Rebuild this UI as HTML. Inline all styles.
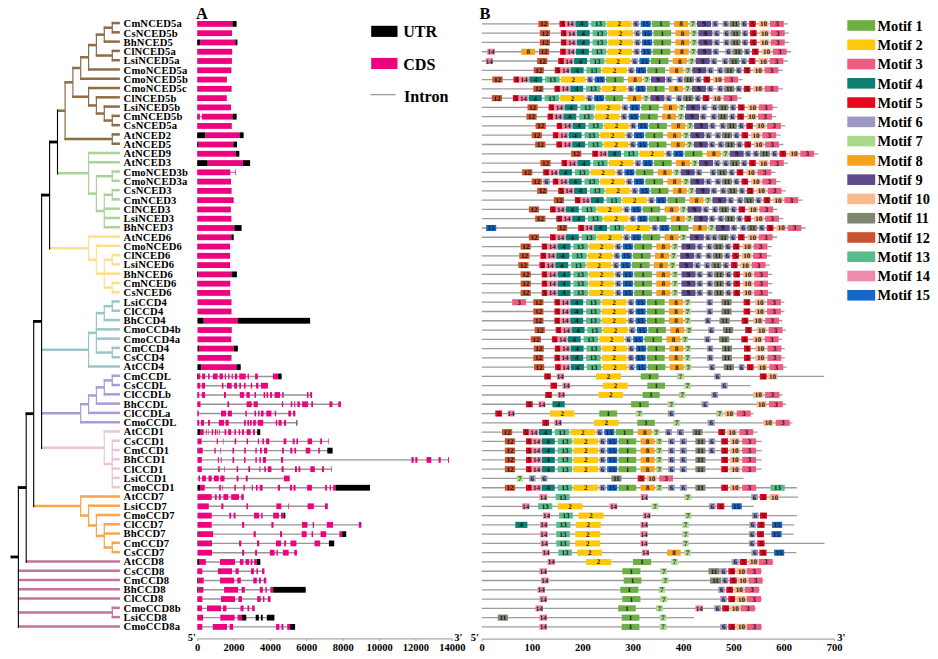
<!DOCTYPE html>
<html><head><meta charset="utf-8">
<style>
html,body{margin:0;padding:0;background:#fff;}
body{width:938px;height:659px;overflow:hidden;}
svg{display:block;}
text{font-family:"Liberation Serif",serif;font-weight:bold;fill:#000;}
.lab text{font-size:10.6px;letter-spacing:0.15px;}
.bt text{font-size:7px;text-anchor:middle;fill:#111;text-rendering:geometricPrecision;}
.ax text{font-size:10.5px;}
.lg text{font-size:16.1px;}
.ml text{font-size:14.4px;}
</style></head><body>
<svg width="938" height="659" viewBox="0 0 938 659">
<rect width="938" height="659" fill="#fff"/>
<g><line x1="17.85" y1="487.55" x2="26.20" y2="487.55" stroke="#000" stroke-width="2.8"/><line x1="25.65" y1="413.70" x2="33.70" y2="413.70" stroke="#000" stroke-width="2.8"/><line x1="33.15" y1="321.39" x2="41.60" y2="321.39" stroke="#000" stroke-width="2.8"/><line x1="41.05" y1="195.08" x2="49.60" y2="195.08" stroke="#000" stroke-width="2.8"/><line x1="49.05" y1="142.01" x2="57.50" y2="142.01" stroke="#000" stroke-width="2.8"/><line x1="56.95" y1="110.72" x2="65.10" y2="110.72" stroke="#8c6e45" stroke-width="2.5"/><line x1="64.50" y1="82.37" x2="72.90" y2="82.37" stroke="#8c6e45" stroke-width="2.5"/><line x1="72.30" y1="68.01" x2="80.70" y2="68.01" stroke="#8c6e45" stroke-width="2.5"/><line x1="80.10" y1="57.28" x2="88.60" y2="57.28" stroke="#8c6e45" stroke-width="2.5"/><line x1="88.00" y1="45.09" x2="96.40" y2="45.09" stroke="#8c6e45" stroke-width="2.5"/><line x1="95.80" y1="34.65" x2="104.30" y2="34.65" stroke="#8c6e45" stroke-width="2.5"/><line x1="103.70" y1="27.69" x2="112.30" y2="27.69" stroke="#8c6e45" stroke-width="2.5"/><line x1="111.70" y1="23.05" x2="119.90" y2="23.05" stroke="#8c6e45" stroke-width="2.5"/><line x1="111.70" y1="32.33" x2="119.90" y2="32.33" stroke="#8c6e45" stroke-width="2.5"/><line x1="103.70" y1="41.61" x2="119.90" y2="41.61" stroke="#8c6e45" stroke-width="2.5"/><line x1="95.80" y1="55.54" x2="112.30" y2="55.54" stroke="#8c6e45" stroke-width="2.5"/><line x1="111.70" y1="50.90" x2="119.90" y2="50.90" stroke="#8c6e45" stroke-width="2.5"/><line x1="111.70" y1="60.18" x2="119.90" y2="60.18" stroke="#8c6e45" stroke-width="2.5"/><line x1="88.00" y1="69.46" x2="119.90" y2="69.46" stroke="#8c6e45" stroke-width="2.5"/><line x1="80.10" y1="78.74" x2="119.90" y2="78.74" stroke="#8c6e45" stroke-width="2.5"/><line x1="72.30" y1="96.73" x2="88.60" y2="96.73" stroke="#8c6e45" stroke-width="2.5"/><line x1="88.00" y1="88.02" x2="119.90" y2="88.02" stroke="#8c6e45" stroke-width="2.5"/><line x1="88.00" y1="105.43" x2="96.40" y2="105.43" stroke="#8c6e45" stroke-width="2.5"/><line x1="95.80" y1="97.31" x2="119.90" y2="97.31" stroke="#8c6e45" stroke-width="2.5"/><line x1="95.80" y1="113.55" x2="104.30" y2="113.55" stroke="#8c6e45" stroke-width="2.5"/><line x1="103.70" y1="106.59" x2="119.90" y2="106.59" stroke="#8c6e45" stroke-width="2.5"/><line x1="103.70" y1="120.51" x2="112.30" y2="120.51" stroke="#8c6e45" stroke-width="2.5"/><line x1="111.70" y1="115.87" x2="119.90" y2="115.87" stroke="#8c6e45" stroke-width="2.5"/><line x1="111.70" y1="125.15" x2="119.90" y2="125.15" stroke="#8c6e45" stroke-width="2.5"/><line x1="64.50" y1="139.07" x2="112.30" y2="139.07" stroke="#8c6e45" stroke-width="2.5"/><line x1="111.70" y1="134.43" x2="119.90" y2="134.43" stroke="#8c6e45" stroke-width="2.5"/><line x1="111.70" y1="143.72" x2="119.90" y2="143.72" stroke="#8c6e45" stroke-width="2.5"/><line x1="56.95" y1="173.30" x2="88.60" y2="173.30" stroke="#a9d39a" stroke-width="2.5"/><line x1="88.00" y1="153.00" x2="119.90" y2="153.00" stroke="#a9d39a" stroke-width="2.5"/><line x1="88.00" y1="162.28" x2="119.90" y2="162.28" stroke="#a9d39a" stroke-width="2.5"/><line x1="88.00" y1="193.61" x2="96.40" y2="193.61" stroke="#a9d39a" stroke-width="2.5"/><line x1="95.80" y1="176.20" x2="112.30" y2="176.20" stroke="#a9d39a" stroke-width="2.5"/><line x1="111.70" y1="171.56" x2="119.90" y2="171.56" stroke="#a9d39a" stroke-width="2.5"/><line x1="111.70" y1="180.84" x2="119.90" y2="180.84" stroke="#a9d39a" stroke-width="2.5"/><line x1="95.80" y1="211.01" x2="104.30" y2="211.01" stroke="#a9d39a" stroke-width="2.5"/><line x1="103.70" y1="194.77" x2="112.30" y2="194.77" stroke="#a9d39a" stroke-width="2.5"/><line x1="111.70" y1="190.13" x2="119.90" y2="190.13" stroke="#a9d39a" stroke-width="2.5"/><line x1="111.70" y1="199.41" x2="119.90" y2="199.41" stroke="#a9d39a" stroke-width="2.5"/><line x1="103.70" y1="208.69" x2="119.90" y2="208.69" stroke="#a9d39a" stroke-width="2.5"/><line x1="103.70" y1="217.97" x2="119.90" y2="217.97" stroke="#a9d39a" stroke-width="2.5"/><line x1="103.70" y1="227.25" x2="119.90" y2="227.25" stroke="#a9d39a" stroke-width="2.5"/><line x1="49.05" y1="248.14" x2="88.60" y2="248.14" stroke="#ffdf88" stroke-width="2.5"/><line x1="88.00" y1="236.54" x2="119.90" y2="236.54" stroke="#ffdf88" stroke-width="2.5"/><line x1="88.00" y1="259.74" x2="96.40" y2="259.74" stroke="#ffdf88" stroke-width="2.5"/><line x1="95.80" y1="245.82" x2="119.90" y2="245.82" stroke="#ffdf88" stroke-width="2.5"/><line x1="95.80" y1="273.66" x2="104.30" y2="273.66" stroke="#ffdf88" stroke-width="2.5"/><line x1="103.70" y1="259.74" x2="112.30" y2="259.74" stroke="#ffdf88" stroke-width="2.5"/><line x1="111.70" y1="255.10" x2="119.90" y2="255.10" stroke="#ffdf88" stroke-width="2.5"/><line x1="111.70" y1="264.38" x2="119.90" y2="264.38" stroke="#ffdf88" stroke-width="2.5"/><line x1="103.70" y1="273.66" x2="119.90" y2="273.66" stroke="#ffdf88" stroke-width="2.5"/><line x1="103.70" y1="287.59" x2="112.30" y2="287.59" stroke="#ffdf88" stroke-width="2.5"/><line x1="111.70" y1="282.95" x2="119.90" y2="282.95" stroke="#ffdf88" stroke-width="2.5"/><line x1="111.70" y1="292.23" x2="119.90" y2="292.23" stroke="#ffdf88" stroke-width="2.5"/><line x1="41.05" y1="349.66" x2="88.60" y2="349.66" stroke="#9ac4c9" stroke-width="2.5"/><line x1="88.00" y1="332.84" x2="96.40" y2="332.84" stroke="#9ac4c9" stroke-width="2.5"/><line x1="95.80" y1="313.11" x2="104.30" y2="313.11" stroke="#9ac4c9" stroke-width="2.5"/><line x1="103.70" y1="306.15" x2="112.30" y2="306.15" stroke="#9ac4c9" stroke-width="2.5"/><line x1="111.70" y1="301.51" x2="119.90" y2="301.51" stroke="#9ac4c9" stroke-width="2.5"/><line x1="111.70" y1="310.79" x2="119.90" y2="310.79" stroke="#9ac4c9" stroke-width="2.5"/><line x1="103.70" y1="320.07" x2="119.90" y2="320.07" stroke="#9ac4c9" stroke-width="2.5"/><line x1="95.80" y1="329.36" x2="119.90" y2="329.36" stroke="#9ac4c9" stroke-width="2.5"/><line x1="95.80" y1="338.64" x2="119.90" y2="338.64" stroke="#9ac4c9" stroke-width="2.5"/><line x1="95.80" y1="352.56" x2="112.30" y2="352.56" stroke="#9ac4c9" stroke-width="2.5"/><line x1="111.70" y1="347.92" x2="119.90" y2="347.92" stroke="#9ac4c9" stroke-width="2.5"/><line x1="111.70" y1="357.20" x2="119.90" y2="357.20" stroke="#9ac4c9" stroke-width="2.5"/><line x1="88.00" y1="366.48" x2="119.90" y2="366.48" stroke="#9ac4c9" stroke-width="2.5"/><line x1="41.05" y1="413.18" x2="80.70" y2="413.18" stroke="#ab9ad8" stroke-width="2.5"/><line x1="80.10" y1="404.19" x2="88.60" y2="404.19" stroke="#ab9ad8" stroke-width="2.5"/><line x1="88.00" y1="395.49" x2="96.40" y2="395.49" stroke="#ab9ad8" stroke-width="2.5"/><line x1="95.80" y1="387.37" x2="104.30" y2="387.37" stroke="#ab9ad8" stroke-width="2.5"/><line x1="103.70" y1="380.41" x2="112.30" y2="380.41" stroke="#ab9ad8" stroke-width="2.5"/><line x1="111.70" y1="375.77" x2="119.90" y2="375.77" stroke="#ab9ad8" stroke-width="2.5"/><line x1="111.70" y1="385.05" x2="119.90" y2="385.05" stroke="#ab9ad8" stroke-width="2.5"/><line x1="103.70" y1="394.33" x2="119.90" y2="394.33" stroke="#ab9ad8" stroke-width="2.5"/><line x1="95.80" y1="403.61" x2="119.90" y2="403.61" stroke="#ab9ad8" stroke-width="2.5"/><line x1="88.00" y1="412.89" x2="119.90" y2="412.89" stroke="#ab9ad8" stroke-width="2.5"/><line x1="80.10" y1="422.18" x2="119.90" y2="422.18" stroke="#ab9ad8" stroke-width="2.5"/><line x1="41.05" y1="447.70" x2="104.30" y2="447.70" stroke="#ecc4d6" stroke-width="2.5"/><line x1="103.70" y1="431.46" x2="119.90" y2="431.46" stroke="#ecc4d6" stroke-width="2.5"/><line x1="103.70" y1="463.95" x2="112.30" y2="463.95" stroke="#ecc4d6" stroke-width="2.5"/><line x1="111.70" y1="440.74" x2="119.90" y2="440.74" stroke="#ecc4d6" stroke-width="2.5"/><line x1="111.70" y1="450.02" x2="119.90" y2="450.02" stroke="#ecc4d6" stroke-width="2.5"/><line x1="111.70" y1="459.30" x2="119.90" y2="459.30" stroke="#ecc4d6" stroke-width="2.5"/><line x1="111.70" y1="468.59" x2="119.90" y2="468.59" stroke="#ecc4d6" stroke-width="2.5"/><line x1="111.70" y1="477.87" x2="119.90" y2="477.87" stroke="#ecc4d6" stroke-width="2.5"/><line x1="111.70" y1="487.15" x2="119.90" y2="487.15" stroke="#ecc4d6" stroke-width="2.5"/><line x1="33.15" y1="506.00" x2="80.70" y2="506.00" stroke="#f9a548" stroke-width="2.5"/><line x1="80.10" y1="496.43" x2="119.90" y2="496.43" stroke="#f9a548" stroke-width="2.5"/><line x1="80.10" y1="515.58" x2="88.60" y2="515.58" stroke="#f9a548" stroke-width="2.5"/><line x1="88.00" y1="505.71" x2="119.90" y2="505.71" stroke="#f9a548" stroke-width="2.5"/><line x1="88.00" y1="525.44" x2="96.40" y2="525.44" stroke="#f9a548" stroke-width="2.5"/><line x1="95.80" y1="515.00" x2="119.90" y2="515.00" stroke="#f9a548" stroke-width="2.5"/><line x1="95.80" y1="535.88" x2="104.30" y2="535.88" stroke="#f9a548" stroke-width="2.5"/><line x1="103.70" y1="524.28" x2="119.90" y2="524.28" stroke="#f9a548" stroke-width="2.5"/><line x1="103.70" y1="533.56" x2="119.90" y2="533.56" stroke="#f9a548" stroke-width="2.5"/><line x1="103.70" y1="547.48" x2="112.30" y2="547.48" stroke="#f9a548" stroke-width="2.5"/><line x1="111.70" y1="542.84" x2="119.90" y2="542.84" stroke="#f9a548" stroke-width="2.5"/><line x1="111.70" y1="552.12" x2="119.90" y2="552.12" stroke="#f9a548" stroke-width="2.5"/><line x1="25.65" y1="561.41" x2="119.90" y2="561.41" stroke="#c3749e" stroke-width="2.5"/><line x1="17.85" y1="570.69" x2="119.90" y2="570.69" stroke="#c3749e" stroke-width="2.5"/><line x1="17.85" y1="579.97" x2="119.90" y2="579.97" stroke="#c3749e" stroke-width="2.5"/><line x1="17.85" y1="589.25" x2="119.90" y2="589.25" stroke="#c3749e" stroke-width="2.5"/><line x1="17.85" y1="598.53" x2="119.90" y2="598.53" stroke="#c3749e" stroke-width="2.5"/><line x1="17.85" y1="612.46" x2="112.30" y2="612.46" stroke="#c3749e" stroke-width="2.5"/><line x1="111.70" y1="607.82" x2="119.90" y2="607.82" stroke="#c3749e" stroke-width="2.5"/><line x1="111.70" y1="617.10" x2="119.90" y2="617.10" stroke="#c3749e" stroke-width="2.5"/><line x1="17.85" y1="626.38" x2="119.90" y2="626.38" stroke="#c3749e" stroke-width="2.5"/><line x1="65.10" y1="81.12" x2="65.10" y2="140.32" stroke="#8c6e45" stroke-width="1.2"/><line x1="72.90" y1="66.76" x2="72.90" y2="97.98" stroke="#8c6e45" stroke-width="1.2"/><line x1="80.70" y1="56.03" x2="80.70" y2="79.99" stroke="#8c6e45" stroke-width="1.2"/><line x1="88.60" y1="43.84" x2="88.60" y2="70.71" stroke="#8c6e45" stroke-width="1.2"/><line x1="96.40" y1="33.40" x2="96.40" y2="56.79" stroke="#8c6e45" stroke-width="1.2"/><line x1="104.30" y1="26.44" x2="104.30" y2="42.86" stroke="#8c6e45" stroke-width="1.2"/><line x1="112.30" y1="21.80" x2="112.30" y2="33.58" stroke="#8c6e45" stroke-width="1.2"/><line x1="112.30" y1="49.65" x2="112.30" y2="61.43" stroke="#8c6e45" stroke-width="1.2"/><line x1="88.60" y1="86.77" x2="88.60" y2="106.68" stroke="#8c6e45" stroke-width="1.2"/><line x1="96.40" y1="96.06" x2="96.40" y2="114.80" stroke="#8c6e45" stroke-width="1.2"/><line x1="104.30" y1="105.34" x2="104.30" y2="121.76" stroke="#8c6e45" stroke-width="1.2"/><line x1="112.30" y1="114.62" x2="112.30" y2="126.40" stroke="#8c6e45" stroke-width="1.2"/><line x1="112.30" y1="133.18" x2="112.30" y2="144.97" stroke="#8c6e45" stroke-width="1.2"/><line x1="88.60" y1="151.75" x2="88.60" y2="194.86" stroke="#a9d39a" stroke-width="1.2"/><line x1="96.40" y1="174.95" x2="96.40" y2="212.26" stroke="#a9d39a" stroke-width="1.2"/><line x1="112.30" y1="170.31" x2="112.30" y2="182.09" stroke="#a9d39a" stroke-width="1.2"/><line x1="104.30" y1="193.52" x2="104.30" y2="228.50" stroke="#a9d39a" stroke-width="1.2"/><line x1="112.30" y1="188.88" x2="112.30" y2="200.66" stroke="#a9d39a" stroke-width="1.2"/><line x1="88.60" y1="235.29" x2="88.60" y2="260.99" stroke="#ffdf88" stroke-width="1.2"/><line x1="96.40" y1="244.57" x2="96.40" y2="274.91" stroke="#ffdf88" stroke-width="1.2"/><line x1="104.30" y1="258.49" x2="104.30" y2="288.84" stroke="#ffdf88" stroke-width="1.2"/><line x1="112.30" y1="253.85" x2="112.30" y2="265.63" stroke="#ffdf88" stroke-width="1.2"/><line x1="112.30" y1="281.70" x2="112.30" y2="293.48" stroke="#ffdf88" stroke-width="1.2"/><line x1="88.60" y1="331.59" x2="88.60" y2="367.73" stroke="#9ac4c9" stroke-width="1.2"/><line x1="96.40" y1="311.86" x2="96.40" y2="353.81" stroke="#9ac4c9" stroke-width="1.2"/><line x1="104.30" y1="304.90" x2="104.30" y2="321.32" stroke="#9ac4c9" stroke-width="1.2"/><line x1="112.30" y1="300.26" x2="112.30" y2="312.04" stroke="#9ac4c9" stroke-width="1.2"/><line x1="112.30" y1="346.67" x2="112.30" y2="358.45" stroke="#9ac4c9" stroke-width="1.2"/><line x1="80.70" y1="402.94" x2="80.70" y2="423.43" stroke="#ab9ad8" stroke-width="1.2"/><line x1="88.60" y1="394.24" x2="88.60" y2="414.14" stroke="#ab9ad8" stroke-width="1.2"/><line x1="96.40" y1="386.12" x2="96.40" y2="404.86" stroke="#ab9ad8" stroke-width="1.2"/><line x1="104.30" y1="379.16" x2="104.30" y2="395.58" stroke="#ab9ad8" stroke-width="1.2"/><line x1="112.30" y1="374.52" x2="112.30" y2="386.30" stroke="#ab9ad8" stroke-width="1.2"/><line x1="104.30" y1="430.21" x2="104.30" y2="465.20" stroke="#ecc4d6" stroke-width="1.2"/><line x1="112.30" y1="439.49" x2="112.30" y2="488.40" stroke="#ecc4d6" stroke-width="1.2"/><line x1="80.70" y1="495.18" x2="80.70" y2="516.83" stroke="#f9a548" stroke-width="1.2"/><line x1="88.60" y1="504.46" x2="88.60" y2="526.69" stroke="#f9a548" stroke-width="1.2"/><line x1="96.40" y1="513.75" x2="96.40" y2="537.13" stroke="#f9a548" stroke-width="1.2"/><line x1="104.30" y1="523.03" x2="104.30" y2="548.73" stroke="#f9a548" stroke-width="1.2"/><line x1="112.30" y1="541.59" x2="112.30" y2="553.37" stroke="#f9a548" stroke-width="1.2"/><line x1="112.30" y1="606.57" x2="112.30" y2="618.35" stroke="#c3749e" stroke-width="1.2"/><line x1="18.40" y1="486.30" x2="18.40" y2="627.63" stroke="#000" stroke-width="1.1"/><line x1="26.20" y1="412.45" x2="26.20" y2="562.66" stroke="#000" stroke-width="1.1"/><line x1="33.70" y1="320.14" x2="33.70" y2="507.25" stroke="#000" stroke-width="1.1"/><line x1="41.60" y1="193.83" x2="41.60" y2="448.95" stroke="#000" stroke-width="1.1"/><line x1="49.60" y1="140.76" x2="49.60" y2="249.39" stroke="#000" stroke-width="1.1"/><line x1="57.50" y1="109.47" x2="57.50" y2="174.55" stroke="#000" stroke-width="1.1"/><line x1="10.5" y1="556.97" x2="18.4" y2="556.97" stroke="#000" stroke-width="2.8"/></g>
<g class="lab"><text x="123.6" y="27.30">CmNCED5a</text><text x="123.6" y="36.57">CsNCED5b</text><text x="123.6" y="45.85">BhNCED5</text><text x="123.6" y="55.12">ClNCED5a</text><text x="123.6" y="64.40">LsiNCED5a</text><text x="123.6" y="73.67">CmoNCED5a</text><text x="123.6" y="82.95">CmoNCED5b</text><text x="123.6" y="92.22">CmoNCED5c</text><text x="123.6" y="101.50">ClNCED5b</text><text x="123.6" y="110.78">LsiNCED5b</text><text x="123.6" y="120.05">CmNCED5b</text><text x="123.6" y="129.33">CsNCED5a</text><text x="123.6" y="138.60">AtNCED2</text><text x="123.6" y="147.88">AtNCED5</text><text x="123.6" y="157.15">AtNCED9</text><text x="123.6" y="166.43">AtNCED3</text><text x="123.6" y="175.70">CmoNCED3b</text><text x="123.6" y="184.98">CmoNCED3a</text><text x="123.6" y="194.25">CsNCED3</text><text x="123.6" y="203.53">CmNCED3</text><text x="123.6" y="212.80">ClNCED3</text><text x="123.6" y="222.08">LsiNCED3</text><text x="123.6" y="231.35">BhNCED3</text><text x="123.6" y="240.63">AtNCED6</text><text x="123.6" y="249.90">CmoNCED6</text><text x="123.6" y="259.18">ClNCED6</text><text x="123.6" y="268.45">LsiNCED6</text><text x="123.6" y="277.73">BhNCED6</text><text x="123.6" y="287.00">CmNCED6</text><text x="123.6" y="296.28">CsNCED6</text><text x="123.6" y="305.55">LsiCCD4</text><text x="123.6" y="314.83">ClCCD4</text><text x="123.6" y="324.10">BhCCD4</text><text x="123.6" y="333.38">CmoCCD4b</text><text x="123.6" y="342.65">CmoCCD4a</text><text x="123.6" y="351.93">CmCCD4</text><text x="123.6" y="361.20">CsCCD4</text><text x="123.6" y="370.48">AtCCD4</text><text x="123.6" y="379.75">CmCCDL</text><text x="123.6" y="389.03">CsCCDL</text><text x="123.6" y="398.30">ClCCDLb</text><text x="123.6" y="407.58">BhCCDL</text><text x="123.6" y="416.85">ClCCDLa</text><text x="123.6" y="426.12">CmoCCDL</text><text x="123.6" y="435.40">AtCCD1</text><text x="123.6" y="444.68">CsCCD1</text><text x="123.6" y="453.95">CmCCD1</text><text x="123.6" y="463.23">BhCCD1</text><text x="123.6" y="472.50">ClCCD1</text><text x="123.6" y="481.78">LsiCCD1</text><text x="123.6" y="491.05">CmoCCD1</text><text x="123.6" y="500.33">AtCCD7</text><text x="123.6" y="509.60">LsiCCD7</text><text x="123.6" y="518.88">CmoCCD7</text><text x="123.6" y="528.15">ClCCD7</text><text x="123.6" y="537.42">BhCCD7</text><text x="123.6" y="546.70">CmCCD7</text><text x="123.6" y="555.98">CsCCD7</text><text x="123.6" y="565.25">AtCCD8</text><text x="123.6" y="574.52">CsCCD8</text><text x="123.6" y="583.80">CmCCD8</text><text x="123.6" y="593.07">BhCCD8</text><text x="123.6" y="602.35">ClCCD8</text><text x="123.6" y="611.62">CmoCCD8b</text><text x="123.6" y="620.90">LsiCCD8</text><text x="123.6" y="630.17">CmoCCD8a</text></g>
<text x="196.0" y="18.8" style="font-size:16.4px">A</text>
<text x="479.4" y="18.9" style="font-size:16.4px">B</text>
<g><line x1="197.20" y1="23.90" x2="236.60" y2="23.90" stroke="#959595" stroke-width="1.4"/><rect x="197.20" y="21.00" width="35.20" height="5.8" fill="#ed0280"/><rect x="232.40" y="21.00" width="4.20" height="5.8" fill="#000"/><rect x="197.20" y="30.28" width="34.80" height="5.8" fill="#ed0280"/><line x1="197.20" y1="42.45" x2="237.40" y2="42.45" stroke="#959595" stroke-width="1.4"/><rect x="197.20" y="39.55" width="2.90" height="5.8" fill="#000"/><rect x="200.10" y="39.55" width="35.30" height="5.8" fill="#ed0280"/><rect x="235.40" y="39.55" width="2.00" height="5.8" fill="#000"/><rect x="197.20" y="48.83" width="35.00" height="5.8" fill="#ed0280"/><rect x="197.20" y="58.11" width="34.70" height="5.8" fill="#ed0280"/><rect x="197.20" y="67.38" width="34.20" height="5.8" fill="#ed0280"/><rect x="197.20" y="76.66" width="29.70" height="5.8" fill="#ed0280"/><rect x="197.20" y="85.94" width="34.40" height="5.8" fill="#ed0280"/><rect x="197.20" y="95.22" width="29.60" height="5.8" fill="#ed0280"/><rect x="197.20" y="104.49" width="33.80" height="5.8" fill="#ed0280"/><line x1="197.20" y1="116.67" x2="236.60" y2="116.67" stroke="#959595" stroke-width="1.4"/><rect x="197.20" y="113.77" width="2.70" height="5.8" fill="#ed0280"/><rect x="201.80" y="113.77" width="30.70" height="5.8" fill="#ed0280"/><rect x="232.50" y="113.77" width="4.10" height="5.8" fill="#000"/><rect x="197.20" y="123.05" width="34.60" height="5.8" fill="#ed0280"/><line x1="197.20" y1="135.22" x2="243.60" y2="135.22" stroke="#959595" stroke-width="1.4"/><rect x="197.20" y="132.32" width="8.10" height="5.8" fill="#000"/><rect x="205.30" y="132.32" width="34.30" height="5.8" fill="#ed0280"/><rect x="239.60" y="132.32" width="4.00" height="5.8" fill="#000"/><line x1="197.20" y1="144.50" x2="237.00" y2="144.50" stroke="#959595" stroke-width="1.4"/><rect x="197.20" y="141.60" width="1.40" height="5.8" fill="#000"/><rect x="198.60" y="141.60" width="34.70" height="5.8" fill="#ed0280"/><rect x="233.30" y="141.60" width="3.70" height="5.8" fill="#000"/><line x1="197.20" y1="153.78" x2="239.30" y2="153.78" stroke="#959595" stroke-width="1.4"/><rect x="197.20" y="150.88" width="38.70" height="5.8" fill="#ed0280"/><rect x="235.90" y="150.88" width="3.40" height="5.8" fill="#000"/><line x1="197.20" y1="163.06" x2="250.10" y2="163.06" stroke="#959595" stroke-width="1.4"/><rect x="197.20" y="160.16" width="10.50" height="5.8" fill="#000"/><rect x="207.70" y="160.16" width="35.30" height="5.8" fill="#ed0280"/><rect x="243.00" y="160.16" width="7.10" height="5.8" fill="#000"/><line x1="197.20" y1="172.33" x2="235.70" y2="172.33" stroke="#959595" stroke-width="1.4"/><rect x="197.20" y="169.43" width="33.10" height="5.8" fill="#ed0280"/><rect x="235.00" y="169.43" width="0.70" height="5.8" fill="#ed0280"/><rect x="197.20" y="178.71" width="33.80" height="5.8" fill="#ed0280"/><rect x="197.20" y="187.99" width="34.40" height="5.8" fill="#ed0280"/><rect x="197.20" y="197.26" width="36.50" height="5.8" fill="#ed0280"/><rect x="197.20" y="206.54" width="33.70" height="5.8" fill="#ed0280"/><rect x="197.20" y="215.82" width="34.20" height="5.8" fill="#ed0280"/><line x1="197.20" y1="227.99" x2="241.60" y2="227.99" stroke="#959595" stroke-width="1.4"/><rect x="197.20" y="225.09" width="37.20" height="5.8" fill="#ed0280"/><rect x="234.40" y="225.09" width="7.20" height="5.8" fill="#000"/><line x1="197.20" y1="237.27" x2="233.70" y2="237.27" stroke="#959595" stroke-width="1.4"/><rect x="197.20" y="234.37" width="0.60" height="5.8" fill="#000"/><rect x="197.80" y="234.37" width="33.60" height="5.8" fill="#ed0280"/><rect x="231.40" y="234.37" width="2.30" height="5.8" fill="#000"/><rect x="197.20" y="243.65" width="32.90" height="5.8" fill="#ed0280"/><rect x="197.20" y="252.92" width="32.90" height="5.8" fill="#ed0280"/><rect x="197.20" y="262.20" width="32.90" height="5.8" fill="#ed0280"/><line x1="197.20" y1="274.38" x2="236.90" y2="274.38" stroke="#959595" stroke-width="1.4"/><rect x="197.20" y="271.48" width="1.20" height="5.8" fill="#000"/><rect x="198.40" y="271.48" width="33.40" height="5.8" fill="#ed0280"/><rect x="231.80" y="271.48" width="5.10" height="5.8" fill="#000"/><rect x="197.20" y="280.76" width="33.10" height="5.8" fill="#ed0280"/><rect x="197.20" y="290.03" width="33.10" height="5.8" fill="#ed0280"/><rect x="197.50" y="299.31" width="34.00" height="5.8" fill="#ed0280"/><rect x="197.50" y="308.59" width="34.00" height="5.8" fill="#ed0280"/><line x1="197.50" y1="320.76" x2="310.10" y2="320.76" stroke="#959595" stroke-width="1.4"/><rect x="197.50" y="317.86" width="6.20" height="5.8" fill="#000"/><rect x="203.70" y="317.86" width="34.10" height="5.8" fill="#ed0280"/><rect x="237.80" y="317.86" width="72.30" height="5.8" fill="#000"/><rect x="197.50" y="327.14" width="34.30" height="5.8" fill="#ed0280"/><rect x="197.50" y="336.42" width="33.80" height="5.8" fill="#ed0280"/><line x1="197.50" y1="348.59" x2="237.80" y2="348.59" stroke="#959595" stroke-width="1.4"/><rect x="197.50" y="345.69" width="1.50" height="5.8" fill="#000"/><rect x="199.00" y="345.69" width="35.00" height="5.8" fill="#ed0280"/><rect x="234.00" y="345.69" width="3.80" height="5.8" fill="#000"/><rect x="197.50" y="354.97" width="34.00" height="5.8" fill="#ed0280"/><line x1="197.50" y1="367.15" x2="240.70" y2="367.15" stroke="#959595" stroke-width="1.4"/><rect x="197.50" y="364.25" width="3.70" height="5.8" fill="#000"/><rect x="201.20" y="364.25" width="35.40" height="5.8" fill="#ed0280"/><rect x="236.60" y="364.25" width="4.10" height="5.8" fill="#000"/><line x1="197.30" y1="376.43" x2="281.60" y2="376.43" stroke="#959595" stroke-width="1.4"/><rect x="197.30" y="373.53" width="0.80" height="5.8" fill="#000"/><rect x="198.10" y="373.53" width="2.20" height="5.8" fill="#ed0280"/><rect x="202.20" y="373.53" width="3.00" height="5.8" fill="#ed0280"/><rect x="208.00" y="373.53" width="1.50" height="5.8" fill="#ed0280"/><rect x="212.90" y="373.53" width="4.70" height="5.8" fill="#ed0280"/><rect x="219.50" y="373.53" width="3.40" height="5.8" fill="#ed0280"/><rect x="224.80" y="373.53" width="1.20" height="5.8" fill="#ed0280"/><rect x="228.20" y="373.53" width="1.30" height="5.8" fill="#ed0280"/><rect x="231.70" y="373.53" width="1.10" height="5.8" fill="#ed0280"/><rect x="234.90" y="373.53" width="2.30" height="5.8" fill="#ed0280"/><rect x="239.30" y="373.53" width="6.40" height="5.8" fill="#ed0280"/><rect x="247.60" y="373.53" width="1.30" height="5.8" fill="#ed0280"/><rect x="255.10" y="373.53" width="2.70" height="5.8" fill="#ed0280"/><rect x="272.90" y="373.53" width="5.30" height="5.8" fill="#ed0280"/><rect x="278.20" y="373.53" width="3.40" height="5.8" fill="#000"/><line x1="197.30" y1="385.70" x2="267.90" y2="385.70" stroke="#959595" stroke-width="1.4"/><rect x="197.30" y="382.80" width="3.00" height="5.8" fill="#ed0280"/><rect x="201.80" y="382.80" width="3.20" height="5.8" fill="#ed0280"/><rect x="221.90" y="382.80" width="1.50" height="5.8" fill="#ed0280"/><rect x="227.00" y="382.80" width="4.70" height="5.8" fill="#ed0280"/><rect x="234.20" y="382.80" width="2.80" height="5.8" fill="#ed0280"/><rect x="239.30" y="382.80" width="1.70" height="5.8" fill="#ed0280"/><rect x="243.90" y="382.80" width="1.70" height="5.8" fill="#ed0280"/><rect x="250.80" y="382.80" width="1.30" height="5.8" fill="#ed0280"/><rect x="256.10" y="382.80" width="2.30" height="5.8" fill="#ed0280"/><rect x="260.90" y="382.80" width="7.00" height="5.8" fill="#ed0280"/><line x1="197.30" y1="394.98" x2="312.10" y2="394.98" stroke="#959595" stroke-width="1.4"/><rect x="197.30" y="392.08" width="1.90" height="5.8" fill="#ed0280"/><rect x="201.80" y="392.08" width="3.20" height="5.8" fill="#ed0280"/><rect x="224.00" y="392.08" width="2.00" height="5.8" fill="#ed0280"/><rect x="239.80" y="392.08" width="4.40" height="5.8" fill="#ed0280"/><rect x="246.40" y="392.08" width="3.40" height="5.8" fill="#ed0280"/><rect x="254.50" y="392.08" width="1.50" height="5.8" fill="#ed0280"/><rect x="263.60" y="392.08" width="1.60" height="5.8" fill="#ed0280"/><rect x="266.60" y="392.08" width="1.50" height="5.8" fill="#ed0280"/><rect x="270.10" y="392.08" width="2.00" height="5.8" fill="#ed0280"/><rect x="274.60" y="392.08" width="5.50" height="5.8" fill="#ed0280"/><rect x="282.20" y="392.08" width="1.50" height="5.8" fill="#ed0280"/><rect x="307.00" y="392.08" width="1.50" height="5.8" fill="#ed0280"/><rect x="310.20" y="392.08" width="1.90" height="5.8" fill="#ed0280"/><line x1="197.30" y1="404.26" x2="340.90" y2="404.26" stroke="#959595" stroke-width="1.4"/><rect x="197.30" y="401.36" width="3.20" height="5.8" fill="#ed0280"/><rect x="227.40" y="401.36" width="1.70" height="5.8" fill="#ed0280"/><rect x="246.60" y="401.36" width="5.10" height="5.8" fill="#ed0280"/><rect x="253.60" y="401.36" width="4.20" height="5.8" fill="#ed0280"/><rect x="281.90" y="401.36" width="1.30" height="5.8" fill="#ed0280"/><rect x="290.80" y="401.36" width="1.50" height="5.8" fill="#ed0280"/><rect x="294.20" y="401.36" width="1.10" height="5.8" fill="#ed0280"/><rect x="297.40" y="401.36" width="2.40" height="5.8" fill="#ed0280"/><rect x="302.10" y="401.36" width="6.00" height="5.8" fill="#ed0280"/><rect x="311.30" y="401.36" width="1.70" height="5.8" fill="#ed0280"/><rect x="329.40" y="401.36" width="3.00" height="5.8" fill="#ed0280"/><rect x="338.30" y="401.36" width="2.60" height="5.8" fill="#ed0280"/><line x1="197.30" y1="413.53" x2="295.30" y2="413.53" stroke="#959595" stroke-width="1.4"/><rect x="197.30" y="410.63" width="1.50" height="5.8" fill="#ed0280"/><rect x="221.00" y="410.63" width="5.00" height="5.8" fill="#ed0280"/><rect x="227.80" y="410.63" width="4.10" height="5.8" fill="#ed0280"/><rect x="245.30" y="410.63" width="1.50" height="5.8" fill="#ed0280"/><rect x="254.50" y="410.63" width="1.50" height="5.8" fill="#ed0280"/><rect x="258.10" y="410.63" width="1.40" height="5.8" fill="#ed0280"/><rect x="260.90" y="410.63" width="2.70" height="5.8" fill="#ed0280"/><rect x="266.30" y="410.63" width="5.10" height="5.8" fill="#ed0280"/><rect x="274.80" y="410.63" width="1.30" height="5.8" fill="#ed0280"/><rect x="288.30" y="410.63" width="2.70" height="5.8" fill="#ed0280"/><rect x="293.10" y="410.63" width="2.20" height="5.8" fill="#ed0280"/><line x1="197.30" y1="422.81" x2="297.40" y2="422.81" stroke="#959595" stroke-width="1.4"/><rect x="197.30" y="419.91" width="1.90" height="5.8" fill="#ed0280"/><rect x="201.00" y="419.91" width="3.00" height="5.8" fill="#ed0280"/><rect x="208.00" y="419.91" width="1.90" height="5.8" fill="#ed0280"/><rect x="218.90" y="419.91" width="5.10" height="5.8" fill="#ed0280"/><rect x="225.40" y="419.91" width="3.40" height="5.8" fill="#ed0280"/><rect x="244.00" y="419.91" width="1.70" height="5.8" fill="#ed0280"/><rect x="247.40" y="419.91" width="1.60" height="5.8" fill="#ed0280"/><rect x="250.00" y="419.91" width="1.70" height="5.8" fill="#ed0280"/><rect x="253.20" y="419.91" width="2.60" height="5.8" fill="#ed0280"/><rect x="257.70" y="419.91" width="5.50" height="5.8" fill="#ed0280"/><rect x="275.80" y="419.91" width="1.40" height="5.8" fill="#ed0280"/><rect x="278.60" y="419.91" width="3.00" height="5.8" fill="#ed0280"/><rect x="284.00" y="419.91" width="2.00" height="5.8" fill="#ed0280"/><rect x="296.20" y="419.91" width="1.20" height="5.8" fill="#555"/><line x1="197.50" y1="432.09" x2="260.20" y2="432.09" stroke="#959595" stroke-width="1.4"/><rect x="197.50" y="429.19" width="2.50" height="5.8" fill="#000"/><rect x="200.00" y="429.19" width="3.70" height="5.8" fill="#ed0280"/><rect x="205.90" y="429.19" width="0.80" height="5.8" fill="#ed0280"/><rect x="208.50" y="429.19" width="0.50" height="5.8" fill="#ed0280"/><rect x="211.70" y="429.19" width="1.40" height="5.8" fill="#ed0280"/><rect x="214.90" y="429.19" width="1.10" height="5.8" fill="#ed0280"/><rect x="216.70" y="429.19" width="0.90" height="5.8" fill="#ed0280"/><rect x="219.20" y="429.19" width="0.70" height="5.8" fill="#ed0280"/><rect x="224.50" y="429.19" width="1.80" height="5.8" fill="#ed0280"/><rect x="228.20" y="429.19" width="3.00" height="5.8" fill="#ed0280"/><rect x="234.40" y="429.19" width="1.50" height="5.8" fill="#ed0280"/><rect x="238.70" y="429.19" width="1.50" height="5.8" fill="#ed0280"/><rect x="242.10" y="429.19" width="1.90" height="5.8" fill="#ed0280"/><rect x="246.60" y="429.19" width="4.00" height="5.8" fill="#ed0280"/><rect x="253.00" y="429.19" width="1.90" height="5.8" fill="#ed0280"/><rect x="257.20" y="429.19" width="3.00" height="5.8" fill="#000"/><line x1="197.50" y1="441.36" x2="328.70" y2="441.36" stroke="#959595" stroke-width="1.4"/><rect x="197.50" y="438.46" width="4.10" height="5.8" fill="#ed0280"/><rect x="216.70" y="438.46" width="1.20" height="5.8" fill="#ed0280"/><rect x="222.90" y="438.46" width="0.60" height="5.8" fill="#ed0280"/><rect x="234.60" y="438.46" width="1.60" height="5.8" fill="#ed0280"/><rect x="246.60" y="438.46" width="1.40" height="5.8" fill="#ed0280"/><rect x="257.90" y="438.46" width="1.10" height="5.8" fill="#ed0280"/><rect x="262.40" y="438.46" width="1.60" height="5.8" fill="#ed0280"/><rect x="266.10" y="438.46" width="3.20" height="5.8" fill="#ed0280"/><rect x="283.60" y="438.46" width="2.70" height="5.8" fill="#ed0280"/><rect x="292.70" y="438.46" width="1.90" height="5.8" fill="#ed0280"/><rect x="296.40" y="438.46" width="1.60" height="5.8" fill="#ed0280"/><rect x="307.60" y="438.46" width="4.50" height="5.8" fill="#ed0280"/><rect x="320.20" y="438.46" width="1.80" height="5.8" fill="#ed0280"/><rect x="328.10" y="438.46" width="0.60" height="5.8" fill="#ed0280"/><line x1="197.50" y1="450.64" x2="332.60" y2="450.64" stroke="#959595" stroke-width="1.4"/><rect x="197.50" y="447.74" width="0.90" height="5.8" fill="#000"/><rect x="198.40" y="447.74" width="4.30" height="5.8" fill="#ed0280"/><rect x="214.40" y="447.74" width="1.30" height="5.8" fill="#ed0280"/><rect x="220.30" y="447.74" width="0.60" height="5.8" fill="#ed0280"/><rect x="232.50" y="447.74" width="1.60" height="5.8" fill="#ed0280"/><rect x="244.20" y="447.74" width="1.60" height="5.8" fill="#ed0280"/><rect x="255.40" y="447.74" width="1.30" height="5.8" fill="#ed0280"/><rect x="260.00" y="447.74" width="1.80" height="5.8" fill="#ed0280"/><rect x="264.00" y="447.74" width="3.20" height="5.8" fill="#ed0280"/><rect x="282.10" y="447.74" width="1.80" height="5.8" fill="#ed0280"/><rect x="290.30" y="447.74" width="2.10" height="5.8" fill="#ed0280"/><rect x="294.30" y="447.74" width="1.80" height="5.8" fill="#ed0280"/><rect x="305.70" y="447.74" width="4.60" height="5.8" fill="#ed0280"/><rect x="318.20" y="447.74" width="1.60" height="5.8" fill="#ed0280"/><rect x="327.30" y="447.74" width="5.30" height="5.8" fill="#000"/><line x1="197.50" y1="459.92" x2="448.90" y2="459.92" stroke="#959595" stroke-width="1.4"/><rect x="197.50" y="457.02" width="4.30" height="5.8" fill="#ed0280"/><rect x="217.80" y="457.02" width="1.10" height="5.8" fill="#ed0280"/><rect x="220.80" y="457.02" width="0.80" height="5.8" fill="#ed0280"/><rect x="232.50" y="457.02" width="1.60" height="5.8" fill="#ed0280"/><rect x="244.00" y="457.02" width="1.50" height="5.8" fill="#ed0280"/><rect x="255.40" y="457.02" width="1.40" height="5.8" fill="#ed0280"/><rect x="259.40" y="457.02" width="1.40" height="5.8" fill="#ed0280"/><rect x="262.90" y="457.02" width="3.20" height="5.8" fill="#ed0280"/><rect x="281.00" y="457.02" width="2.10" height="5.8" fill="#ed0280"/><rect x="411.40" y="457.02" width="2.30" height="5.8" fill="#ed0280"/><rect x="415.30" y="457.02" width="2.10" height="5.8" fill="#ed0280"/><rect x="426.50" y="457.02" width="4.80" height="5.8" fill="#ed0280"/><rect x="438.60" y="457.02" width="2.10" height="5.8" fill="#ed0280"/><rect x="448.00" y="457.02" width="0.90" height="5.8" fill="#ed0280"/><line x1="197.50" y1="469.20" x2="331.90" y2="469.20" stroke="#959595" stroke-width="1.4"/><rect x="197.50" y="466.30" width="4.30" height="5.8" fill="#ed0280"/><rect x="218.10" y="466.30" width="1.60" height="5.8" fill="#ed0280"/><rect x="224.00" y="466.30" width="0.60" height="5.8" fill="#ed0280"/><rect x="236.60" y="466.30" width="1.50" height="5.8" fill="#ed0280"/><rect x="248.30" y="466.30" width="1.80" height="5.8" fill="#ed0280"/><rect x="259.40" y="466.30" width="1.00" height="5.8" fill="#ed0280"/><rect x="264.30" y="466.30" width="1.50" height="5.8" fill="#ed0280"/><rect x="267.90" y="466.30" width="3.50" height="5.8" fill="#ed0280"/><rect x="281.60" y="466.30" width="2.10" height="5.8" fill="#ed0280"/><rect x="295.00" y="466.30" width="1.90" height="5.8" fill="#ed0280"/><rect x="298.50" y="466.30" width="1.80" height="5.8" fill="#ed0280"/><rect x="310.30" y="466.30" width="4.50" height="5.8" fill="#ed0280"/><rect x="322.00" y="466.30" width="1.90" height="5.8" fill="#ed0280"/><rect x="331.30" y="466.30" width="0.60" height="5.8" fill="#ed0280"/><line x1="197.30" y1="478.47" x2="289.70" y2="478.47" stroke="#959595" stroke-width="1.4"/><rect x="198.40" y="475.57" width="1.60" height="5.8" fill="#ed0280"/><rect x="202.10" y="475.57" width="3.80" height="5.8" fill="#ed0280"/><rect x="208.50" y="475.57" width="3.20" height="5.8" fill="#ed0280"/><rect x="213.90" y="475.57" width="4.80" height="5.8" fill="#ed0280"/><rect x="220.30" y="475.57" width="4.20" height="5.8" fill="#ed0280"/><rect x="236.60" y="475.57" width="1.80" height="5.8" fill="#ed0280"/><rect x="245.80" y="475.57" width="1.90" height="5.8" fill="#ed0280"/><rect x="283.90" y="475.57" width="5.80" height="5.8" fill="#ed0280"/><line x1="197.50" y1="487.75" x2="370.00" y2="487.75" stroke="#959595" stroke-width="1.4"/><rect x="197.50" y="484.85" width="2.50" height="5.8" fill="#000"/><rect x="200.00" y="484.85" width="4.80" height="5.8" fill="#ed0280"/><rect x="219.20" y="484.85" width="1.60" height="5.8" fill="#ed0280"/><rect x="222.10" y="484.85" width="0.60" height="5.8" fill="#ed0280"/><rect x="234.40" y="484.85" width="1.50" height="5.8" fill="#ed0280"/><rect x="243.40" y="484.85" width="1.40" height="5.8" fill="#ed0280"/><rect x="251.70" y="484.85" width="1.10" height="5.8" fill="#ed0280"/><rect x="256.00" y="484.85" width="1.60" height="5.8" fill="#ed0280"/><rect x="259.70" y="484.85" width="2.90" height="5.8" fill="#ed0280"/><rect x="277.80" y="484.85" width="2.20" height="5.8" fill="#ed0280"/><rect x="289.90" y="484.85" width="2.20" height="5.8" fill="#ed0280"/><rect x="293.50" y="484.85" width="2.10" height="5.8" fill="#ed0280"/><rect x="307.10" y="484.85" width="4.80" height="5.8" fill="#ed0280"/><rect x="325.20" y="484.85" width="1.80" height="5.8" fill="#ed0280"/><rect x="329.80" y="484.85" width="1.20" height="5.8" fill="#ed0280"/><rect x="333.20" y="484.85" width="2.60" height="5.8" fill="#ed0280"/><rect x="335.80" y="484.85" width="34.20" height="5.8" fill="#000"/><line x1="197.50" y1="497.03" x2="243.70" y2="497.03" stroke="#959595" stroke-width="1.4"/><rect x="197.50" y="494.13" width="14.20" height="5.8" fill="#ed0280"/><rect x="214.90" y="494.13" width="1.80" height="5.8" fill="#ed0280"/><rect x="218.90" y="494.13" width="1.90" height="5.8" fill="#ed0280"/><rect x="223.40" y="494.13" width="4.80" height="5.8" fill="#ed0280"/><rect x="231.20" y="494.13" width="7.70" height="5.8" fill="#ed0280"/><rect x="241.30" y="494.13" width="2.40" height="5.8" fill="#ed0280"/><line x1="197.50" y1="506.30" x2="327.80" y2="506.30" stroke="#959595" stroke-width="1.4"/><rect x="197.50" y="503.40" width="11.30" height="5.8" fill="#ed0280"/><rect x="221.30" y="503.40" width="2.10" height="5.8" fill="#ed0280"/><rect x="246.40" y="503.40" width="1.60" height="5.8" fill="#ed0280"/><rect x="276.40" y="503.40" width="4.90" height="5.8" fill="#ed0280"/><rect x="288.20" y="503.40" width="0.70" height="5.8" fill="#ed0280"/><rect x="307.60" y="503.40" width="6.20" height="5.8" fill="#ed0280"/><rect x="324.90" y="503.40" width="2.90" height="5.8" fill="#ed0280"/><line x1="197.50" y1="515.58" x2="285.30" y2="515.58" stroke="#959595" stroke-width="1.4"/><rect x="197.50" y="512.68" width="14.20" height="5.8" fill="#ed0280"/><rect x="229.30" y="512.68" width="1.90" height="5.8" fill="#ed0280"/><rect x="233.60" y="512.68" width="1.90" height="5.8" fill="#ed0280"/><rect x="254.00" y="512.68" width="5.20" height="5.8" fill="#ed0280"/><rect x="261.10" y="512.68" width="1.50" height="5.8" fill="#ed0280"/><rect x="273.20" y="512.68" width="5.70" height="5.8" fill="#ed0280"/><rect x="281.00" y="512.68" width="2.90" height="5.8" fill="#ed0280"/><rect x="283.90" y="512.68" width="1.40" height="5.8" fill="#000"/><line x1="197.50" y1="524.86" x2="361.40" y2="524.86" stroke="#959595" stroke-width="1.4"/><rect x="197.50" y="521.96" width="14.20" height="5.8" fill="#ed0280"/><rect x="242.10" y="521.96" width="2.10" height="5.8" fill="#ed0280"/><rect x="271.40" y="521.96" width="2.20" height="5.8" fill="#ed0280"/><rect x="302.00" y="521.96" width="5.40" height="5.8" fill="#ed0280"/><rect x="312.70" y="521.96" width="1.30" height="5.8" fill="#ed0280"/><rect x="326.80" y="521.96" width="6.20" height="5.8" fill="#ed0280"/><rect x="358.80" y="521.96" width="2.60" height="5.8" fill="#ed0280"/><line x1="197.50" y1="534.13" x2="346.20" y2="534.13" stroke="#959595" stroke-width="1.4"/><rect x="197.50" y="531.24" width="1.10" height="5.8" fill="#000"/><rect x="198.60" y="531.24" width="14.50" height="5.8" fill="#ed0280"/><rect x="253.60" y="531.24" width="2.20" height="5.8" fill="#ed0280"/><rect x="280.00" y="531.24" width="2.10" height="5.8" fill="#ed0280"/><rect x="301.70" y="531.24" width="5.00" height="5.8" fill="#ed0280"/><rect x="311.60" y="531.24" width="1.50" height="5.8" fill="#ed0280"/><rect x="320.60" y="531.24" width="5.60" height="5.8" fill="#ed0280"/><rect x="339.40" y="531.24" width="2.80" height="5.8" fill="#ed0280"/><rect x="342.20" y="531.24" width="4.00" height="5.8" fill="#000"/><line x1="197.50" y1="543.41" x2="334.20" y2="543.41" stroke="#959595" stroke-width="1.4"/><rect x="197.50" y="540.51" width="0.50" height="5.8" fill="#000"/><rect x="198.00" y="540.51" width="14.00" height="5.8" fill="#ed0280"/><rect x="239.10" y="540.51" width="2.20" height="5.8" fill="#ed0280"/><rect x="257.00" y="540.51" width="2.20" height="5.8" fill="#ed0280"/><rect x="276.00" y="540.51" width="5.00" height="5.8" fill="#ed0280"/><rect x="284.20" y="540.51" width="1.90" height="5.8" fill="#ed0280"/><rect x="290.50" y="540.51" width="5.90" height="5.8" fill="#ed0280"/><rect x="314.50" y="540.51" width="5.70" height="5.8" fill="#ed0280"/><rect x="328.90" y="540.51" width="5.30" height="5.8" fill="#000"/><line x1="197.50" y1="552.69" x2="296.90" y2="552.69" stroke="#959595" stroke-width="1.4"/><rect x="197.50" y="549.79" width="14.50" height="5.8" fill="#ed0280"/><rect x="242.10" y="549.79" width="2.10" height="5.8" fill="#ed0280"/><rect x="255.10" y="549.79" width="1.90" height="5.8" fill="#ed0280"/><rect x="269.80" y="549.79" width="4.80" height="5.8" fill="#ed0280"/><rect x="276.40" y="549.79" width="1.40" height="5.8" fill="#ed0280"/><rect x="282.90" y="549.79" width="5.70" height="5.8" fill="#ed0280"/><rect x="294.30" y="549.79" width="2.60" height="5.8" fill="#ed0280"/><line x1="197.30" y1="561.97" x2="260.30" y2="561.97" stroke="#959595" stroke-width="1.4"/><rect x="197.30" y="559.07" width="1.70" height="5.8" fill="#000"/><rect x="199.00" y="559.07" width="6.80" height="5.8" fill="#ed0280"/><rect x="220.00" y="559.07" width="15.00" height="5.8" fill="#ed0280"/><rect x="239.90" y="559.07" width="3.50" height="5.8" fill="#ed0280"/><rect x="245.50" y="559.07" width="3.70" height="5.8" fill="#ed0280"/><rect x="250.60" y="559.07" width="1.90" height="5.8" fill="#ed0280"/><rect x="254.10" y="559.07" width="2.70" height="5.8" fill="#ed0280"/><rect x="256.80" y="559.07" width="3.50" height="5.8" fill="#000"/><line x1="197.30" y1="571.24" x2="264.40" y2="571.24" stroke="#959595" stroke-width="1.4"/><rect x="197.30" y="568.34" width="5.00" height="5.8" fill="#ed0280"/><rect x="217.90" y="568.34" width="14.10" height="5.8" fill="#ed0280"/><rect x="235.50" y="568.34" width="3.20" height="5.8" fill="#ed0280"/><rect x="251.00" y="568.34" width="2.90" height="5.8" fill="#ed0280"/><rect x="256.50" y="568.34" width="1.50" height="5.8" fill="#ed0280"/><rect x="262.10" y="568.34" width="2.30" height="5.8" fill="#ed0280"/><line x1="197.30" y1="580.52" x2="266.30" y2="580.52" stroke="#959595" stroke-width="1.4"/><rect x="197.30" y="577.62" width="0.80" height="5.8" fill="#000"/><rect x="198.10" y="577.62" width="5.60" height="5.8" fill="#ed0280"/><rect x="220.00" y="577.62" width="14.10" height="5.8" fill="#ed0280"/><rect x="237.30" y="577.62" width="3.50" height="5.8" fill="#ed0280"/><rect x="253.30" y="577.62" width="3.50" height="5.8" fill="#ed0280"/><rect x="258.90" y="577.62" width="2.00" height="5.8" fill="#ed0280"/><rect x="263.80" y="577.62" width="2.50" height="5.8" fill="#ed0280"/><line x1="197.30" y1="589.80" x2="305.70" y2="589.80" stroke="#959595" stroke-width="1.4"/><rect x="197.30" y="586.90" width="1.10" height="5.8" fill="#000"/><rect x="198.40" y="586.90" width="5.00" height="5.8" fill="#ed0280"/><rect x="224.10" y="586.90" width="14.00" height="5.8" fill="#ed0280"/><rect x="241.60" y="586.90" width="3.20" height="5.8" fill="#ed0280"/><rect x="259.80" y="586.90" width="3.00" height="5.8" fill="#ed0280"/><rect x="265.40" y="586.90" width="1.40" height="5.8" fill="#ed0280"/><rect x="270.30" y="586.90" width="2.90" height="5.8" fill="#ed0280"/><rect x="273.20" y="586.90" width="32.50" height="5.8" fill="#000"/><line x1="197.30" y1="599.07" x2="270.50" y2="599.07" stroke="#959595" stroke-width="1.4"/><rect x="197.30" y="596.17" width="5.00" height="5.8" fill="#ed0280"/><rect x="221.00" y="596.17" width="14.00" height="5.8" fill="#ed0280"/><rect x="238.50" y="596.17" width="3.50" height="5.8" fill="#ed0280"/><rect x="257.20" y="596.17" width="3.50" height="5.8" fill="#ed0280"/><rect x="262.90" y="596.17" width="1.50" height="5.8" fill="#ed0280"/><rect x="267.90" y="596.17" width="2.60" height="5.8" fill="#ed0280"/><line x1="197.30" y1="608.35" x2="254.70" y2="608.35" stroke="#959595" stroke-width="1.4"/><rect x="197.30" y="605.45" width="4.60" height="5.8" fill="#ed0280"/><rect x="207.00" y="605.45" width="14.00" height="5.8" fill="#ed0280"/><rect x="223.00" y="605.45" width="3.50" height="5.8" fill="#ed0280"/><rect x="240.50" y="605.45" width="3.10" height="5.8" fill="#ed0280"/><rect x="247.50" y="605.45" width="1.70" height="5.8" fill="#ed0280"/><rect x="252.20" y="605.45" width="2.50" height="5.8" fill="#ed0280"/><line x1="197.30" y1="617.63" x2="274.40" y2="617.63" stroke="#959595" stroke-width="1.4"/><rect x="197.30" y="614.73" width="0.40" height="5.8" fill="#000"/><rect x="197.70" y="614.73" width="5.40" height="5.8" fill="#ed0280"/><rect x="220.30" y="614.73" width="14.30" height="5.8" fill="#ed0280"/><rect x="237.60" y="614.73" width="4.40" height="5.8" fill="#ed0280"/><rect x="242.00" y="614.73" width="4.30" height="5.8" fill="#000"/><rect x="255.70" y="614.73" width="3.10" height="5.8" fill="#000"/><rect x="260.90" y="614.73" width="1.80" height="5.8" fill="#000"/><rect x="266.80" y="614.73" width="7.60" height="5.8" fill="#000"/><line x1="197.30" y1="626.90" x2="295.10" y2="626.90" stroke="#959595" stroke-width="1.4"/><rect x="197.30" y="624.00" width="5.00" height="5.8" fill="#ed0280"/><rect x="212.80" y="624.00" width="14.20" height="5.8" fill="#ed0280"/><rect x="229.60" y="624.00" width="3.50" height="5.8" fill="#ed0280"/><rect x="276.10" y="624.00" width="3.30" height="5.8" fill="#ed0280"/><rect x="281.40" y="624.00" width="2.00" height="5.8" fill="#ed0280"/><rect x="287.20" y="624.00" width="2.90" height="5.8" fill="#ed0280"/><rect x="290.10" y="624.00" width="5.00" height="5.8" fill="#000"/></g>
<g><line x1="481.8" y1="23.90" x2="788.20" y2="23.90" stroke="#9c9c9c" stroke-width="1.3"/><rect x="538.40" y="20.85" width="10.20" height="6.1" fill="#c9532e"/><rect x="559.50" y="20.85" width="5.80" height="6.1" fill="#e8051e"/><rect x="565.30" y="20.85" width="9.60" height="6.1" fill="#ef8aaa"/><rect x="575.40" y="20.85" width="12.90" height="6.1" fill="#0b7f73"/><rect x="591.20" y="20.85" width="14.40" height="6.1" fill="#58bc8a"/><rect x="606.90" y="20.85" width="24.60" height="6.1" fill="#ffc808"/><rect x="633.00" y="20.85" width="6.10" height="6.1" fill="#9c99c2"/><rect x="640.70" y="20.85" width="10.00" height="6.1" fill="#1665c8"/><rect x="652.10" y="20.85" width="17.60" height="6.1" fill="#6dae45"/><rect x="674.10" y="20.85" width="14.00" height="6.1" fill="#f7a11d"/><rect x="689.60" y="20.85" width="6.20" height="6.1" fill="#acd88c"/><rect x="697.00" y="20.85" width="14.00" height="6.1" fill="#5e4a8c"/><rect x="712.10" y="20.85" width="6.30" height="6.1" fill="#9c99c2"/><rect x="722.50" y="20.85" width="6.30" height="6.1" fill="#9c99c2"/><rect x="729.60" y="20.85" width="10.10" height="6.1" fill="#7d8770"/><rect x="741.20" y="20.85" width="6.00" height="6.1" fill="#9c99c2"/><rect x="749.20" y="20.85" width="6.60" height="6.1" fill="#e8051e"/><rect x="758.80" y="20.85" width="9.60" height="6.1" fill="#fbb88a"/><rect x="770.00" y="20.85" width="13.80" height="6.1" fill="#ee5c82"/><line x1="481.8" y1="33.18" x2="789.10" y2="33.18" stroke="#9c9c9c" stroke-width="1.3"/><rect x="539.80" y="30.13" width="10.20" height="6.1" fill="#c9532e"/><rect x="560.90" y="30.13" width="5.80" height="6.1" fill="#e8051e"/><rect x="566.70" y="30.13" width="9.60" height="6.1" fill="#ef8aaa"/><rect x="576.80" y="30.13" width="12.90" height="6.1" fill="#0b7f73"/><rect x="592.60" y="30.13" width="14.40" height="6.1" fill="#58bc8a"/><rect x="608.30" y="30.13" width="24.60" height="6.1" fill="#ffc808"/><rect x="634.40" y="30.13" width="6.10" height="6.1" fill="#9c99c2"/><rect x="642.10" y="30.13" width="10.00" height="6.1" fill="#1665c8"/><rect x="653.50" y="30.13" width="17.60" height="6.1" fill="#6dae45"/><rect x="675.50" y="30.13" width="14.00" height="6.1" fill="#f7a11d"/><rect x="691.00" y="30.13" width="6.20" height="6.1" fill="#acd88c"/><rect x="698.40" y="30.13" width="14.00" height="6.1" fill="#5e4a8c"/><rect x="713.50" y="30.13" width="6.30" height="6.1" fill="#9c99c2"/><rect x="723.40" y="30.13" width="6.30" height="6.1" fill="#9c99c2"/><rect x="730.50" y="30.13" width="10.10" height="6.1" fill="#7d8770"/><rect x="742.10" y="30.13" width="6.00" height="6.1" fill="#9c99c2"/><rect x="750.10" y="30.13" width="6.60" height="6.1" fill="#e8051e"/><rect x="759.70" y="30.13" width="9.60" height="6.1" fill="#fbb88a"/><rect x="770.90" y="30.13" width="13.80" height="6.1" fill="#ee5c82"/><line x1="481.8" y1="42.45" x2="789.10" y2="42.45" stroke="#9c9c9c" stroke-width="1.3"/><rect x="539.80" y="39.40" width="10.20" height="6.1" fill="#c9532e"/><rect x="560.90" y="39.40" width="5.80" height="6.1" fill="#e8051e"/><rect x="566.70" y="39.40" width="9.60" height="6.1" fill="#ef8aaa"/><rect x="576.80" y="39.40" width="12.90" height="6.1" fill="#0b7f73"/><rect x="592.60" y="39.40" width="14.40" height="6.1" fill="#58bc8a"/><rect x="608.30" y="39.40" width="24.60" height="6.1" fill="#ffc808"/><rect x="634.40" y="39.40" width="6.10" height="6.1" fill="#9c99c2"/><rect x="642.10" y="39.40" width="10.00" height="6.1" fill="#1665c8"/><rect x="653.50" y="39.40" width="17.60" height="6.1" fill="#6dae45"/><rect x="675.50" y="39.40" width="14.00" height="6.1" fill="#f7a11d"/><rect x="691.00" y="39.40" width="6.20" height="6.1" fill="#acd88c"/><rect x="698.40" y="39.40" width="14.00" height="6.1" fill="#5e4a8c"/><rect x="713.50" y="39.40" width="6.30" height="6.1" fill="#9c99c2"/><rect x="723.40" y="39.40" width="6.30" height="6.1" fill="#9c99c2"/><rect x="730.50" y="39.40" width="10.10" height="6.1" fill="#7d8770"/><rect x="742.10" y="39.40" width="6.00" height="6.1" fill="#9c99c2"/><rect x="750.10" y="39.40" width="6.60" height="6.1" fill="#e8051e"/><rect x="759.70" y="39.40" width="9.60" height="6.1" fill="#fbb88a"/><rect x="770.90" y="39.40" width="13.80" height="6.1" fill="#ee5c82"/><line x1="481.8" y1="51.73" x2="791.00" y2="51.73" stroke="#9c9c9c" stroke-width="1.3"/><rect x="539.00" y="48.68" width="10.20" height="6.1" fill="#c9532e"/><rect x="560.10" y="48.68" width="5.80" height="6.1" fill="#e8051e"/><rect x="565.90" y="48.68" width="9.60" height="6.1" fill="#ef8aaa"/><rect x="576.00" y="48.68" width="12.90" height="6.1" fill="#0b7f73"/><rect x="591.80" y="48.68" width="14.40" height="6.1" fill="#58bc8a"/><rect x="607.50" y="48.68" width="24.60" height="6.1" fill="#ffc808"/><rect x="633.60" y="48.68" width="6.10" height="6.1" fill="#9c99c2"/><rect x="641.30" y="48.68" width="10.00" height="6.1" fill="#1665c8"/><rect x="652.70" y="48.68" width="17.60" height="6.1" fill="#6dae45"/><rect x="674.70" y="48.68" width="14.00" height="6.1" fill="#f7a11d"/><rect x="690.20" y="48.68" width="6.20" height="6.1" fill="#acd88c"/><rect x="697.60" y="48.68" width="14.00" height="6.1" fill="#5e4a8c"/><rect x="712.70" y="48.68" width="6.30" height="6.1" fill="#9c99c2"/><rect x="725.30" y="48.68" width="6.30" height="6.1" fill="#9c99c2"/><rect x="732.40" y="48.68" width="10.10" height="6.1" fill="#7d8770"/><rect x="744.00" y="48.68" width="6.00" height="6.1" fill="#9c99c2"/><rect x="752.00" y="48.68" width="6.60" height="6.1" fill="#e8051e"/><rect x="761.60" y="48.68" width="9.60" height="6.1" fill="#fbb88a"/><rect x="772.80" y="48.68" width="13.80" height="6.1" fill="#ee5c82"/><rect x="487.20" y="48.68" width="7.70" height="6.1" fill="#ef8aaa"/><rect x="521.20" y="48.68" width="14.00" height="6.1" fill="#f7a11d"/><line x1="481.8" y1="61.01" x2="787.80" y2="61.01" stroke="#9c9c9c" stroke-width="1.3"/><rect x="537.10" y="57.96" width="10.20" height="6.1" fill="#c9532e"/><rect x="558.20" y="57.96" width="5.80" height="6.1" fill="#e8051e"/><rect x="564.00" y="57.96" width="9.60" height="6.1" fill="#ef8aaa"/><rect x="574.10" y="57.96" width="12.90" height="6.1" fill="#0b7f73"/><rect x="589.90" y="57.96" width="14.40" height="6.1" fill="#58bc8a"/><rect x="605.60" y="57.96" width="24.60" height="6.1" fill="#ffc808"/><rect x="631.70" y="57.96" width="6.10" height="6.1" fill="#9c99c2"/><rect x="639.40" y="57.96" width="10.00" height="6.1" fill="#1665c8"/><rect x="650.80" y="57.96" width="17.60" height="6.1" fill="#6dae45"/><rect x="672.80" y="57.96" width="14.00" height="6.1" fill="#f7a11d"/><rect x="688.30" y="57.96" width="6.20" height="6.1" fill="#acd88c"/><rect x="695.70" y="57.96" width="14.00" height="6.1" fill="#5e4a8c"/><rect x="710.80" y="57.96" width="6.30" height="6.1" fill="#9c99c2"/><rect x="722.10" y="57.96" width="6.30" height="6.1" fill="#9c99c2"/><rect x="729.20" y="57.96" width="10.10" height="6.1" fill="#7d8770"/><rect x="740.80" y="57.96" width="6.00" height="6.1" fill="#9c99c2"/><rect x="748.80" y="57.96" width="6.60" height="6.1" fill="#e8051e"/><rect x="758.40" y="57.96" width="9.60" height="6.1" fill="#fbb88a"/><rect x="769.60" y="57.96" width="13.80" height="6.1" fill="#ee5c82"/><rect x="485.70" y="57.96" width="7.30" height="6.1" fill="#ef8aaa"/><line x1="481.8" y1="70.28" x2="782.80" y2="70.28" stroke="#9c9c9c" stroke-width="1.3"/><rect x="533.70" y="67.23" width="10.20" height="6.1" fill="#c9532e"/><rect x="554.80" y="67.23" width="5.80" height="6.1" fill="#e8051e"/><rect x="560.60" y="67.23" width="9.60" height="6.1" fill="#ef8aaa"/><rect x="570.70" y="67.23" width="12.90" height="6.1" fill="#0b7f73"/><rect x="586.50" y="67.23" width="14.40" height="6.1" fill="#58bc8a"/><rect x="602.20" y="67.23" width="24.60" height="6.1" fill="#ffc808"/><rect x="628.30" y="67.23" width="6.10" height="6.1" fill="#9c99c2"/><rect x="636.00" y="67.23" width="10.00" height="6.1" fill="#1665c8"/><rect x="647.40" y="67.23" width="17.60" height="6.1" fill="#6dae45"/><rect x="669.40" y="67.23" width="14.00" height="6.1" fill="#f7a11d"/><rect x="684.90" y="67.23" width="6.20" height="6.1" fill="#acd88c"/><rect x="692.30" y="67.23" width="14.00" height="6.1" fill="#5e4a8c"/><rect x="707.40" y="67.23" width="6.30" height="6.1" fill="#9c99c2"/><rect x="717.10" y="67.23" width="6.30" height="6.1" fill="#9c99c2"/><rect x="724.20" y="67.23" width="10.10" height="6.1" fill="#7d8770"/><rect x="735.80" y="67.23" width="6.00" height="6.1" fill="#9c99c2"/><rect x="743.80" y="67.23" width="6.60" height="6.1" fill="#e8051e"/><rect x="753.40" y="67.23" width="9.60" height="6.1" fill="#fbb88a"/><rect x="764.60" y="67.23" width="13.80" height="6.1" fill="#ee5c82"/><line x1="481.8" y1="79.56" x2="742.50" y2="79.56" stroke="#9c9c9c" stroke-width="1.3"/><rect x="492.40" y="76.51" width="10.20" height="6.1" fill="#c9532e"/><rect x="513.50" y="76.51" width="5.80" height="6.1" fill="#e8051e"/><rect x="519.30" y="76.51" width="9.60" height="6.1" fill="#ef8aaa"/><rect x="529.40" y="76.51" width="12.90" height="6.1" fill="#0b7f73"/><rect x="545.20" y="76.51" width="14.40" height="6.1" fill="#58bc8a"/><rect x="560.90" y="76.51" width="24.60" height="6.1" fill="#ffc808"/><rect x="587.00" y="76.51" width="6.10" height="6.1" fill="#9c99c2"/><rect x="594.70" y="76.51" width="10.00" height="6.1" fill="#1665c8"/><rect x="606.10" y="76.51" width="17.60" height="6.1" fill="#6dae45"/><rect x="628.10" y="76.51" width="14.00" height="6.1" fill="#f7a11d"/><rect x="643.60" y="76.51" width="6.20" height="6.1" fill="#acd88c"/><rect x="651.00" y="76.51" width="14.00" height="6.1" fill="#5e4a8c"/><rect x="666.10" y="76.51" width="6.30" height="6.1" fill="#9c99c2"/><rect x="676.80" y="76.51" width="6.30" height="6.1" fill="#9c99c2"/><rect x="683.90" y="76.51" width="10.10" height="6.1" fill="#7d8770"/><rect x="695.50" y="76.51" width="6.00" height="6.1" fill="#9c99c2"/><rect x="703.50" y="76.51" width="6.60" height="6.1" fill="#e8051e"/><rect x="713.10" y="76.51" width="9.60" height="6.1" fill="#fbb88a"/><rect x="724.30" y="76.51" width="13.80" height="6.1" fill="#ee5c82"/><line x1="481.8" y1="88.84" x2="782.80" y2="88.84" stroke="#9c9c9c" stroke-width="1.3"/><rect x="533.30" y="85.79" width="10.20" height="6.1" fill="#c9532e"/><rect x="554.40" y="85.79" width="5.80" height="6.1" fill="#e8051e"/><rect x="560.20" y="85.79" width="9.60" height="6.1" fill="#ef8aaa"/><rect x="570.30" y="85.79" width="12.90" height="6.1" fill="#0b7f73"/><rect x="586.10" y="85.79" width="14.40" height="6.1" fill="#58bc8a"/><rect x="601.80" y="85.79" width="24.60" height="6.1" fill="#ffc808"/><rect x="627.90" y="85.79" width="6.10" height="6.1" fill="#9c99c2"/><rect x="635.60" y="85.79" width="10.00" height="6.1" fill="#1665c8"/><rect x="647.00" y="85.79" width="17.60" height="6.1" fill="#6dae45"/><rect x="669.00" y="85.79" width="14.00" height="6.1" fill="#f7a11d"/><rect x="684.50" y="85.79" width="6.20" height="6.1" fill="#acd88c"/><rect x="691.90" y="85.79" width="14.00" height="6.1" fill="#5e4a8c"/><rect x="707.00" y="85.79" width="6.30" height="6.1" fill="#9c99c2"/><rect x="717.10" y="85.79" width="6.30" height="6.1" fill="#9c99c2"/><rect x="724.20" y="85.79" width="10.10" height="6.1" fill="#7d8770"/><rect x="735.80" y="85.79" width="6.00" height="6.1" fill="#9c99c2"/><rect x="743.80" y="85.79" width="6.60" height="6.1" fill="#e8051e"/><rect x="753.40" y="85.79" width="9.60" height="6.1" fill="#fbb88a"/><rect x="764.60" y="85.79" width="13.80" height="6.1" fill="#ee5c82"/><line x1="481.8" y1="98.12" x2="741.70" y2="98.12" stroke="#9c9c9c" stroke-width="1.3"/><rect x="491.80" y="95.07" width="10.20" height="6.1" fill="#c9532e"/><rect x="512.90" y="95.07" width="5.80" height="6.1" fill="#e8051e"/><rect x="518.70" y="95.07" width="9.60" height="6.1" fill="#ef8aaa"/><rect x="528.80" y="95.07" width="12.90" height="6.1" fill="#0b7f73"/><rect x="544.60" y="95.07" width="14.40" height="6.1" fill="#58bc8a"/><rect x="560.30" y="95.07" width="24.60" height="6.1" fill="#ffc808"/><rect x="586.40" y="95.07" width="6.10" height="6.1" fill="#9c99c2"/><rect x="594.10" y="95.07" width="10.00" height="6.1" fill="#1665c8"/><rect x="605.50" y="95.07" width="17.60" height="6.1" fill="#6dae45"/><rect x="627.50" y="95.07" width="14.00" height="6.1" fill="#f7a11d"/><rect x="643.00" y="95.07" width="6.20" height="6.1" fill="#acd88c"/><rect x="650.40" y="95.07" width="14.00" height="6.1" fill="#5e4a8c"/><rect x="665.50" y="95.07" width="6.30" height="6.1" fill="#9c99c2"/><rect x="676.00" y="95.07" width="6.30" height="6.1" fill="#9c99c2"/><rect x="683.10" y="95.07" width="10.10" height="6.1" fill="#7d8770"/><rect x="694.70" y="95.07" width="6.00" height="6.1" fill="#9c99c2"/><rect x="702.70" y="95.07" width="6.60" height="6.1" fill="#e8051e"/><rect x="712.30" y="95.07" width="9.60" height="6.1" fill="#fbb88a"/><rect x="723.50" y="95.07" width="13.80" height="6.1" fill="#ee5c82"/><line x1="481.8" y1="107.39" x2="777.00" y2="107.39" stroke="#9c9c9c" stroke-width="1.3"/><rect x="527.50" y="104.34" width="10.20" height="6.1" fill="#c9532e"/><rect x="548.60" y="104.34" width="5.80" height="6.1" fill="#e8051e"/><rect x="554.40" y="104.34" width="9.60" height="6.1" fill="#ef8aaa"/><rect x="564.50" y="104.34" width="12.90" height="6.1" fill="#0b7f73"/><rect x="580.30" y="104.34" width="14.40" height="6.1" fill="#58bc8a"/><rect x="596.00" y="104.34" width="24.60" height="6.1" fill="#ffc808"/><rect x="622.10" y="104.34" width="6.10" height="6.1" fill="#9c99c2"/><rect x="629.80" y="104.34" width="10.00" height="6.1" fill="#1665c8"/><rect x="641.20" y="104.34" width="17.60" height="6.1" fill="#6dae45"/><rect x="663.20" y="104.34" width="14.00" height="6.1" fill="#f7a11d"/><rect x="678.70" y="104.34" width="6.20" height="6.1" fill="#acd88c"/><rect x="686.10" y="104.34" width="14.00" height="6.1" fill="#5e4a8c"/><rect x="701.20" y="104.34" width="6.30" height="6.1" fill="#9c99c2"/><rect x="711.30" y="104.34" width="6.30" height="6.1" fill="#9c99c2"/><rect x="718.40" y="104.34" width="10.10" height="6.1" fill="#7d8770"/><rect x="730.00" y="104.34" width="6.00" height="6.1" fill="#9c99c2"/><rect x="738.00" y="104.34" width="6.60" height="6.1" fill="#e8051e"/><rect x="747.60" y="104.34" width="9.60" height="6.1" fill="#fbb88a"/><rect x="758.80" y="104.34" width="13.80" height="6.1" fill="#ee5c82"/><line x1="481.8" y1="116.67" x2="776.30" y2="116.67" stroke="#9c9c9c" stroke-width="1.3"/><rect x="526.40" y="113.62" width="10.20" height="6.1" fill="#c9532e"/><rect x="547.50" y="113.62" width="5.80" height="6.1" fill="#e8051e"/><rect x="553.30" y="113.62" width="9.60" height="6.1" fill="#ef8aaa"/><rect x="563.40" y="113.62" width="12.90" height="6.1" fill="#0b7f73"/><rect x="579.20" y="113.62" width="14.40" height="6.1" fill="#58bc8a"/><rect x="594.90" y="113.62" width="24.60" height="6.1" fill="#ffc808"/><rect x="621.00" y="113.62" width="6.10" height="6.1" fill="#9c99c2"/><rect x="628.70" y="113.62" width="10.00" height="6.1" fill="#1665c8"/><rect x="640.10" y="113.62" width="17.60" height="6.1" fill="#6dae45"/><rect x="662.10" y="113.62" width="14.00" height="6.1" fill="#f7a11d"/><rect x="677.60" y="113.62" width="6.20" height="6.1" fill="#acd88c"/><rect x="685.00" y="113.62" width="14.00" height="6.1" fill="#5e4a8c"/><rect x="700.10" y="113.62" width="6.30" height="6.1" fill="#9c99c2"/><rect x="710.60" y="113.62" width="6.30" height="6.1" fill="#9c99c2"/><rect x="717.70" y="113.62" width="10.10" height="6.1" fill="#7d8770"/><rect x="729.30" y="113.62" width="6.00" height="6.1" fill="#9c99c2"/><rect x="737.30" y="113.62" width="6.60" height="6.1" fill="#e8051e"/><rect x="746.90" y="113.62" width="9.60" height="6.1" fill="#fbb88a"/><rect x="758.10" y="113.62" width="13.80" height="6.1" fill="#ee5c82"/><line x1="481.8" y1="125.95" x2="785.30" y2="125.95" stroke="#9c9c9c" stroke-width="1.3"/><rect x="535.60" y="122.90" width="10.20" height="6.1" fill="#c9532e"/><rect x="556.70" y="122.90" width="5.80" height="6.1" fill="#e8051e"/><rect x="562.50" y="122.90" width="9.60" height="6.1" fill="#ef8aaa"/><rect x="572.60" y="122.90" width="12.90" height="6.1" fill="#0b7f73"/><rect x="588.40" y="122.90" width="14.40" height="6.1" fill="#58bc8a"/><rect x="604.10" y="122.90" width="24.60" height="6.1" fill="#ffc808"/><rect x="630.20" y="122.90" width="6.10" height="6.1" fill="#9c99c2"/><rect x="637.90" y="122.90" width="10.00" height="6.1" fill="#1665c8"/><rect x="649.30" y="122.90" width="17.60" height="6.1" fill="#6dae45"/><rect x="671.30" y="122.90" width="14.00" height="6.1" fill="#f7a11d"/><rect x="686.80" y="122.90" width="6.20" height="6.1" fill="#acd88c"/><rect x="694.20" y="122.90" width="14.00" height="6.1" fill="#5e4a8c"/><rect x="709.30" y="122.90" width="6.30" height="6.1" fill="#9c99c2"/><rect x="719.60" y="122.90" width="6.30" height="6.1" fill="#9c99c2"/><rect x="726.70" y="122.90" width="10.10" height="6.1" fill="#7d8770"/><rect x="738.30" y="122.90" width="6.00" height="6.1" fill="#9c99c2"/><rect x="746.30" y="122.90" width="6.60" height="6.1" fill="#e8051e"/><rect x="755.90" y="122.90" width="9.60" height="6.1" fill="#fbb88a"/><rect x="767.10" y="122.90" width="13.80" height="6.1" fill="#ee5c82"/><line x1="481.8" y1="135.22" x2="780.50" y2="135.22" stroke="#9c9c9c" stroke-width="1.3"/><rect x="531.70" y="132.17" width="10.20" height="6.1" fill="#c9532e"/><rect x="552.80" y="132.17" width="5.80" height="6.1" fill="#e8051e"/><rect x="558.60" y="132.17" width="9.60" height="6.1" fill="#ef8aaa"/><rect x="568.70" y="132.17" width="12.90" height="6.1" fill="#0b7f73"/><rect x="584.50" y="132.17" width="14.40" height="6.1" fill="#58bc8a"/><rect x="600.20" y="132.17" width="24.60" height="6.1" fill="#ffc808"/><rect x="626.30" y="132.17" width="6.10" height="6.1" fill="#9c99c2"/><rect x="634.00" y="132.17" width="10.00" height="6.1" fill="#1665c8"/><rect x="645.40" y="132.17" width="17.60" height="6.1" fill="#6dae45"/><rect x="667.40" y="132.17" width="14.00" height="6.1" fill="#f7a11d"/><rect x="682.90" y="132.17" width="6.20" height="6.1" fill="#acd88c"/><rect x="690.30" y="132.17" width="14.00" height="6.1" fill="#5e4a8c"/><rect x="705.40" y="132.17" width="6.30" height="6.1" fill="#9c99c2"/><rect x="714.80" y="132.17" width="6.30" height="6.1" fill="#9c99c2"/><rect x="721.90" y="132.17" width="10.10" height="6.1" fill="#7d8770"/><rect x="733.50" y="132.17" width="6.00" height="6.1" fill="#9c99c2"/><rect x="741.50" y="132.17" width="6.60" height="6.1" fill="#e8051e"/><rect x="751.10" y="132.17" width="9.60" height="6.1" fill="#fbb88a"/><rect x="762.30" y="132.17" width="13.80" height="6.1" fill="#ee5c82"/><line x1="481.8" y1="144.50" x2="783.40" y2="144.50" stroke="#9c9c9c" stroke-width="1.3"/><rect x="535.20" y="141.45" width="10.20" height="6.1" fill="#c9532e"/><rect x="556.30" y="141.45" width="5.80" height="6.1" fill="#e8051e"/><rect x="562.10" y="141.45" width="9.60" height="6.1" fill="#ef8aaa"/><rect x="572.20" y="141.45" width="12.90" height="6.1" fill="#0b7f73"/><rect x="588.00" y="141.45" width="14.40" height="6.1" fill="#58bc8a"/><rect x="603.70" y="141.45" width="24.60" height="6.1" fill="#ffc808"/><rect x="629.80" y="141.45" width="6.10" height="6.1" fill="#9c99c2"/><rect x="637.50" y="141.45" width="10.00" height="6.1" fill="#1665c8"/><rect x="648.90" y="141.45" width="17.60" height="6.1" fill="#6dae45"/><rect x="670.90" y="141.45" width="14.00" height="6.1" fill="#f7a11d"/><rect x="686.40" y="141.45" width="6.20" height="6.1" fill="#acd88c"/><rect x="693.80" y="141.45" width="14.00" height="6.1" fill="#5e4a8c"/><rect x="708.90" y="141.45" width="6.30" height="6.1" fill="#9c99c2"/><rect x="717.70" y="141.45" width="6.30" height="6.1" fill="#9c99c2"/><rect x="724.80" y="141.45" width="10.10" height="6.1" fill="#7d8770"/><rect x="736.40" y="141.45" width="6.00" height="6.1" fill="#9c99c2"/><rect x="744.40" y="141.45" width="6.60" height="6.1" fill="#e8051e"/><rect x="754.00" y="141.45" width="9.60" height="6.1" fill="#fbb88a"/><rect x="765.20" y="141.45" width="13.80" height="6.1" fill="#ee5c82"/><line x1="481.8" y1="153.78" x2="818.50" y2="153.78" stroke="#9c9c9c" stroke-width="1.3"/><rect x="571.10" y="150.73" width="10.20" height="6.1" fill="#c9532e"/><rect x="592.20" y="150.73" width="5.80" height="6.1" fill="#e8051e"/><rect x="598.00" y="150.73" width="9.60" height="6.1" fill="#ef8aaa"/><rect x="608.10" y="150.73" width="12.90" height="6.1" fill="#0b7f73"/><rect x="623.90" y="150.73" width="14.40" height="6.1" fill="#58bc8a"/><rect x="639.60" y="150.73" width="24.60" height="6.1" fill="#ffc808"/><rect x="665.70" y="150.73" width="6.10" height="6.1" fill="#9c99c2"/><rect x="673.40" y="150.73" width="10.00" height="6.1" fill="#1665c8"/><rect x="684.80" y="150.73" width="17.60" height="6.1" fill="#6dae45"/><rect x="706.80" y="150.73" width="14.00" height="6.1" fill="#f7a11d"/><rect x="722.30" y="150.73" width="6.20" height="6.1" fill="#acd88c"/><rect x="729.70" y="150.73" width="14.00" height="6.1" fill="#5e4a8c"/><rect x="744.80" y="150.73" width="6.30" height="6.1" fill="#9c99c2"/><rect x="752.80" y="150.73" width="6.30" height="6.1" fill="#9c99c2"/><rect x="759.90" y="150.73" width="10.10" height="6.1" fill="#7d8770"/><rect x="771.50" y="150.73" width="6.00" height="6.1" fill="#9c99c2"/><rect x="779.50" y="150.73" width="6.60" height="6.1" fill="#e8051e"/><rect x="789.10" y="150.73" width="9.60" height="6.1" fill="#fbb88a"/><rect x="800.30" y="150.73" width="13.80" height="6.1" fill="#ee5c82"/><line x1="481.8" y1="163.06" x2="788.20" y2="163.06" stroke="#9c9c9c" stroke-width="1.3"/><rect x="540.40" y="160.00" width="10.20" height="6.1" fill="#c9532e"/><rect x="561.50" y="160.00" width="5.80" height="6.1" fill="#e8051e"/><rect x="567.30" y="160.00" width="9.60" height="6.1" fill="#ef8aaa"/><rect x="577.40" y="160.00" width="12.90" height="6.1" fill="#0b7f73"/><rect x="593.20" y="160.00" width="14.40" height="6.1" fill="#58bc8a"/><rect x="608.90" y="160.00" width="24.60" height="6.1" fill="#ffc808"/><rect x="635.00" y="160.00" width="6.10" height="6.1" fill="#9c99c2"/><rect x="642.70" y="160.00" width="10.00" height="6.1" fill="#1665c8"/><rect x="654.10" y="160.00" width="17.60" height="6.1" fill="#6dae45"/><rect x="676.10" y="160.00" width="14.00" height="6.1" fill="#f7a11d"/><rect x="691.60" y="160.00" width="6.20" height="6.1" fill="#acd88c"/><rect x="699.00" y="160.00" width="14.00" height="6.1" fill="#5e4a8c"/><rect x="714.10" y="160.00" width="6.30" height="6.1" fill="#9c99c2"/><rect x="722.50" y="160.00" width="6.30" height="6.1" fill="#9c99c2"/><rect x="729.60" y="160.00" width="10.10" height="6.1" fill="#7d8770"/><rect x="741.20" y="160.00" width="6.00" height="6.1" fill="#9c99c2"/><rect x="749.20" y="160.00" width="6.60" height="6.1" fill="#e8051e"/><rect x="758.80" y="160.00" width="9.60" height="6.1" fill="#fbb88a"/><rect x="770.00" y="160.00" width="13.80" height="6.1" fill="#ee5c82"/><line x1="481.8" y1="172.33" x2="775.70" y2="172.33" stroke="#9c9c9c" stroke-width="1.3"/><rect x="522.10" y="169.28" width="10.20" height="6.1" fill="#c9532e"/><rect x="543.20" y="169.28" width="5.80" height="6.1" fill="#e8051e"/><rect x="549.00" y="169.28" width="9.60" height="6.1" fill="#ef8aaa"/><rect x="559.10" y="169.28" width="12.90" height="6.1" fill="#0b7f73"/><rect x="574.90" y="169.28" width="14.40" height="6.1" fill="#58bc8a"/><rect x="590.60" y="169.28" width="24.60" height="6.1" fill="#ffc808"/><rect x="616.70" y="169.28" width="6.10" height="6.1" fill="#9c99c2"/><rect x="624.40" y="169.28" width="10.00" height="6.1" fill="#1665c8"/><rect x="635.80" y="169.28" width="17.60" height="6.1" fill="#6dae45"/><rect x="657.80" y="169.28" width="14.00" height="6.1" fill="#f7a11d"/><rect x="673.30" y="169.28" width="6.20" height="6.1" fill="#acd88c"/><rect x="680.70" y="169.28" width="14.00" height="6.1" fill="#5e4a8c"/><rect x="695.80" y="169.28" width="6.30" height="6.1" fill="#9c99c2"/><rect x="710.00" y="169.28" width="6.30" height="6.1" fill="#9c99c2"/><rect x="717.10" y="169.28" width="10.10" height="6.1" fill="#7d8770"/><rect x="728.70" y="169.28" width="6.00" height="6.1" fill="#9c99c2"/><rect x="736.70" y="169.28" width="6.60" height="6.1" fill="#e8051e"/><rect x="746.30" y="169.28" width="9.60" height="6.1" fill="#fbb88a"/><rect x="757.50" y="169.28" width="13.80" height="6.1" fill="#ee5c82"/><line x1="481.8" y1="181.61" x2="780.50" y2="181.61" stroke="#9c9c9c" stroke-width="1.3"/><rect x="531.70" y="178.56" width="10.20" height="6.1" fill="#c9532e"/><rect x="552.80" y="178.56" width="5.80" height="6.1" fill="#e8051e"/><rect x="558.60" y="178.56" width="9.60" height="6.1" fill="#ef8aaa"/><rect x="568.70" y="178.56" width="12.90" height="6.1" fill="#0b7f73"/><rect x="584.50" y="178.56" width="14.40" height="6.1" fill="#58bc8a"/><rect x="600.20" y="178.56" width="24.60" height="6.1" fill="#ffc808"/><rect x="626.30" y="178.56" width="6.10" height="6.1" fill="#9c99c2"/><rect x="634.00" y="178.56" width="10.00" height="6.1" fill="#1665c8"/><rect x="645.40" y="178.56" width="17.60" height="6.1" fill="#6dae45"/><rect x="667.40" y="178.56" width="14.00" height="6.1" fill="#f7a11d"/><rect x="682.90" y="178.56" width="6.20" height="6.1" fill="#acd88c"/><rect x="690.30" y="178.56" width="14.00" height="6.1" fill="#5e4a8c"/><rect x="705.40" y="178.56" width="6.30" height="6.1" fill="#9c99c2"/><rect x="714.80" y="178.56" width="6.30" height="6.1" fill="#9c99c2"/><rect x="721.90" y="178.56" width="10.10" height="6.1" fill="#7d8770"/><rect x="733.50" y="178.56" width="6.00" height="6.1" fill="#9c99c2"/><rect x="741.50" y="178.56" width="6.60" height="6.1" fill="#e8051e"/><rect x="751.10" y="178.56" width="9.60" height="6.1" fill="#fbb88a"/><rect x="762.30" y="178.56" width="13.80" height="6.1" fill="#ee5c82"/><rect x="543.20" y="178.56" width="6.80" height="6.1" fill="#9c99c2"/><line x1="481.8" y1="190.89" x2="785.90" y2="190.89" stroke="#9c9c9c" stroke-width="1.3"/><rect x="537.10" y="187.84" width="10.20" height="6.1" fill="#c9532e"/><rect x="558.20" y="187.84" width="5.80" height="6.1" fill="#e8051e"/><rect x="564.00" y="187.84" width="9.60" height="6.1" fill="#ef8aaa"/><rect x="574.10" y="187.84" width="12.90" height="6.1" fill="#0b7f73"/><rect x="589.90" y="187.84" width="14.40" height="6.1" fill="#58bc8a"/><rect x="605.60" y="187.84" width="24.60" height="6.1" fill="#ffc808"/><rect x="631.70" y="187.84" width="6.10" height="6.1" fill="#9c99c2"/><rect x="639.40" y="187.84" width="10.00" height="6.1" fill="#1665c8"/><rect x="650.80" y="187.84" width="17.60" height="6.1" fill="#6dae45"/><rect x="672.80" y="187.84" width="14.00" height="6.1" fill="#f7a11d"/><rect x="688.30" y="187.84" width="6.20" height="6.1" fill="#acd88c"/><rect x="695.70" y="187.84" width="14.00" height="6.1" fill="#5e4a8c"/><rect x="710.80" y="187.84" width="6.30" height="6.1" fill="#9c99c2"/><rect x="720.20" y="187.84" width="6.30" height="6.1" fill="#9c99c2"/><rect x="727.30" y="187.84" width="10.10" height="6.1" fill="#7d8770"/><rect x="738.90" y="187.84" width="6.00" height="6.1" fill="#9c99c2"/><rect x="746.90" y="187.84" width="6.60" height="6.1" fill="#e8051e"/><rect x="756.50" y="187.84" width="9.60" height="6.1" fill="#fbb88a"/><rect x="767.70" y="187.84" width="13.80" height="6.1" fill="#ee5c82"/><line x1="481.8" y1="200.16" x2="802.60" y2="200.16" stroke="#9c9c9c" stroke-width="1.3"/><rect x="553.80" y="197.11" width="10.20" height="6.1" fill="#c9532e"/><rect x="574.90" y="197.11" width="5.80" height="6.1" fill="#e8051e"/><rect x="580.70" y="197.11" width="9.60" height="6.1" fill="#ef8aaa"/><rect x="590.80" y="197.11" width="12.90" height="6.1" fill="#0b7f73"/><rect x="606.60" y="197.11" width="14.40" height="6.1" fill="#58bc8a"/><rect x="622.30" y="197.11" width="24.60" height="6.1" fill="#ffc808"/><rect x="648.40" y="197.11" width="6.10" height="6.1" fill="#9c99c2"/><rect x="656.10" y="197.11" width="10.00" height="6.1" fill="#1665c8"/><rect x="667.50" y="197.11" width="17.60" height="6.1" fill="#6dae45"/><rect x="689.50" y="197.11" width="14.00" height="6.1" fill="#f7a11d"/><rect x="705.00" y="197.11" width="6.20" height="6.1" fill="#acd88c"/><rect x="712.40" y="197.11" width="14.00" height="6.1" fill="#5e4a8c"/><rect x="727.50" y="197.11" width="6.30" height="6.1" fill="#9c99c2"/><rect x="736.90" y="197.11" width="6.30" height="6.1" fill="#9c99c2"/><rect x="744.00" y="197.11" width="10.10" height="6.1" fill="#7d8770"/><rect x="755.60" y="197.11" width="6.00" height="6.1" fill="#9c99c2"/><rect x="763.60" y="197.11" width="6.60" height="6.1" fill="#e8051e"/><rect x="773.20" y="197.11" width="9.60" height="6.1" fill="#fbb88a"/><rect x="784.40" y="197.11" width="13.80" height="6.1" fill="#ee5c82"/><line x1="481.8" y1="209.44" x2="777.60" y2="209.44" stroke="#9c9c9c" stroke-width="1.3"/><rect x="528.90" y="206.39" width="10.20" height="6.1" fill="#c9532e"/><rect x="550.00" y="206.39" width="5.80" height="6.1" fill="#e8051e"/><rect x="555.80" y="206.39" width="9.60" height="6.1" fill="#ef8aaa"/><rect x="565.90" y="206.39" width="12.90" height="6.1" fill="#0b7f73"/><rect x="581.70" y="206.39" width="14.40" height="6.1" fill="#58bc8a"/><rect x="597.40" y="206.39" width="24.60" height="6.1" fill="#ffc808"/><rect x="623.50" y="206.39" width="6.10" height="6.1" fill="#9c99c2"/><rect x="631.20" y="206.39" width="10.00" height="6.1" fill="#1665c8"/><rect x="642.60" y="206.39" width="17.60" height="6.1" fill="#6dae45"/><rect x="664.60" y="206.39" width="14.00" height="6.1" fill="#f7a11d"/><rect x="680.10" y="206.39" width="6.20" height="6.1" fill="#acd88c"/><rect x="687.50" y="206.39" width="14.00" height="6.1" fill="#5e4a8c"/><rect x="702.60" y="206.39" width="6.30" height="6.1" fill="#9c99c2"/><rect x="711.90" y="206.39" width="6.30" height="6.1" fill="#9c99c2"/><rect x="719.00" y="206.39" width="10.10" height="6.1" fill="#7d8770"/><rect x="730.60" y="206.39" width="6.00" height="6.1" fill="#9c99c2"/><rect x="738.60" y="206.39" width="6.60" height="6.1" fill="#e8051e"/><rect x="748.20" y="206.39" width="9.60" height="6.1" fill="#fbb88a"/><rect x="759.40" y="206.39" width="13.80" height="6.1" fill="#ee5c82"/><line x1="481.8" y1="218.72" x2="783.40" y2="218.72" stroke="#9c9c9c" stroke-width="1.3"/><rect x="535.20" y="215.67" width="10.20" height="6.1" fill="#c9532e"/><rect x="556.30" y="215.67" width="5.80" height="6.1" fill="#e8051e"/><rect x="562.10" y="215.67" width="9.60" height="6.1" fill="#ef8aaa"/><rect x="572.20" y="215.67" width="12.90" height="6.1" fill="#0b7f73"/><rect x="588.00" y="215.67" width="14.40" height="6.1" fill="#58bc8a"/><rect x="603.70" y="215.67" width="24.60" height="6.1" fill="#ffc808"/><rect x="629.80" y="215.67" width="6.10" height="6.1" fill="#9c99c2"/><rect x="637.50" y="215.67" width="10.00" height="6.1" fill="#1665c8"/><rect x="648.90" y="215.67" width="17.60" height="6.1" fill="#6dae45"/><rect x="670.90" y="215.67" width="14.00" height="6.1" fill="#f7a11d"/><rect x="686.40" y="215.67" width="6.20" height="6.1" fill="#acd88c"/><rect x="693.80" y="215.67" width="14.00" height="6.1" fill="#5e4a8c"/><rect x="708.90" y="215.67" width="6.30" height="6.1" fill="#9c99c2"/><rect x="717.70" y="215.67" width="6.30" height="6.1" fill="#9c99c2"/><rect x="724.80" y="215.67" width="10.10" height="6.1" fill="#7d8770"/><rect x="736.40" y="215.67" width="6.00" height="6.1" fill="#9c99c2"/><rect x="744.40" y="215.67" width="6.60" height="6.1" fill="#e8051e"/><rect x="754.00" y="215.67" width="9.60" height="6.1" fill="#fbb88a"/><rect x="765.20" y="215.67" width="13.80" height="6.1" fill="#ee5c82"/><line x1="481.8" y1="227.99" x2="805.80" y2="227.99" stroke="#9c9c9c" stroke-width="1.3"/><rect x="557.10" y="224.94" width="10.20" height="6.1" fill="#c9532e"/><rect x="578.20" y="224.94" width="5.80" height="6.1" fill="#e8051e"/><rect x="584.00" y="224.94" width="9.60" height="6.1" fill="#ef8aaa"/><rect x="594.10" y="224.94" width="12.90" height="6.1" fill="#0b7f73"/><rect x="609.90" y="224.94" width="14.40" height="6.1" fill="#58bc8a"/><rect x="625.60" y="224.94" width="24.60" height="6.1" fill="#ffc808"/><rect x="651.70" y="224.94" width="6.10" height="6.1" fill="#9c99c2"/><rect x="659.40" y="224.94" width="10.00" height="6.1" fill="#1665c8"/><rect x="670.80" y="224.94" width="17.60" height="6.1" fill="#6dae45"/><rect x="692.80" y="224.94" width="14.00" height="6.1" fill="#f7a11d"/><rect x="708.30" y="224.94" width="6.20" height="6.1" fill="#acd88c"/><rect x="715.70" y="224.94" width="14.00" height="6.1" fill="#5e4a8c"/><rect x="730.80" y="224.94" width="6.30" height="6.1" fill="#9c99c2"/><rect x="740.10" y="224.94" width="6.30" height="6.1" fill="#9c99c2"/><rect x="747.20" y="224.94" width="10.10" height="6.1" fill="#7d8770"/><rect x="758.80" y="224.94" width="6.00" height="6.1" fill="#9c99c2"/><rect x="766.80" y="224.94" width="6.60" height="6.1" fill="#e8051e"/><rect x="776.40" y="224.94" width="9.60" height="6.1" fill="#fbb88a"/><rect x="787.60" y="224.94" width="13.80" height="6.1" fill="#ee5c82"/><rect x="486.10" y="224.94" width="10.10" height="6.1" fill="#1665c8"/><line x1="481.8" y1="237.27" x2="777.00" y2="237.27" stroke="#9c9c9c" stroke-width="1.3"/><rect x="528.90" y="234.22" width="10.20" height="6.1" fill="#c9532e"/><rect x="550.00" y="234.22" width="5.80" height="6.1" fill="#e8051e"/><rect x="555.80" y="234.22" width="9.60" height="6.1" fill="#ef8aaa"/><rect x="565.90" y="234.22" width="12.90" height="6.1" fill="#0b7f73"/><rect x="581.70" y="234.22" width="14.40" height="6.1" fill="#58bc8a"/><rect x="597.40" y="234.22" width="24.60" height="6.1" fill="#ffc808"/><rect x="623.50" y="234.22" width="6.10" height="6.1" fill="#9c99c2"/><rect x="631.20" y="234.22" width="10.00" height="6.1" fill="#1665c8"/><rect x="642.60" y="234.22" width="17.60" height="6.1" fill="#6dae45"/><rect x="664.60" y="234.22" width="14.00" height="6.1" fill="#f7a11d"/><rect x="680.10" y="234.22" width="6.20" height="6.1" fill="#acd88c"/><rect x="689.80" y="234.22" width="14.00" height="6.1" fill="#5e4a8c"/><rect x="704.90" y="234.22" width="6.30" height="6.1" fill="#9c99c2"/><rect x="711.30" y="234.22" width="6.30" height="6.1" fill="#9c99c2"/><rect x="718.40" y="234.22" width="10.10" height="6.1" fill="#7d8770"/><rect x="730.00" y="234.22" width="6.00" height="6.1" fill="#9c99c2"/><rect x="738.00" y="234.22" width="6.60" height="6.1" fill="#e8051e"/><rect x="747.60" y="234.22" width="9.60" height="6.1" fill="#fbb88a"/><rect x="758.80" y="234.22" width="13.80" height="6.1" fill="#ee5c82"/><line x1="481.8" y1="246.55" x2="771.90" y2="246.55" stroke="#9c9c9c" stroke-width="1.3"/><rect x="520.60" y="243.50" width="10.20" height="6.1" fill="#c9532e"/><rect x="541.70" y="243.50" width="5.80" height="6.1" fill="#e8051e"/><rect x="547.50" y="243.50" width="9.60" height="6.1" fill="#ef8aaa"/><rect x="557.60" y="243.50" width="12.90" height="6.1" fill="#0b7f73"/><rect x="573.40" y="243.50" width="14.40" height="6.1" fill="#58bc8a"/><rect x="589.10" y="243.50" width="24.60" height="6.1" fill="#ffc808"/><rect x="615.20" y="243.50" width="6.10" height="6.1" fill="#9c99c2"/><rect x="622.90" y="243.50" width="10.00" height="6.1" fill="#1665c8"/><rect x="634.30" y="243.50" width="17.60" height="6.1" fill="#6dae45"/><rect x="656.30" y="243.50" width="14.00" height="6.1" fill="#f7a11d"/><rect x="671.80" y="243.50" width="6.20" height="6.1" fill="#acd88c"/><rect x="681.50" y="243.50" width="14.00" height="6.1" fill="#5e4a8c"/><rect x="696.60" y="243.50" width="6.30" height="6.1" fill="#9c99c2"/><rect x="706.20" y="243.50" width="6.30" height="6.1" fill="#9c99c2"/><rect x="713.30" y="243.50" width="10.10" height="6.1" fill="#7d8770"/><rect x="724.90" y="243.50" width="6.00" height="6.1" fill="#9c99c2"/><rect x="732.90" y="243.50" width="6.60" height="6.1" fill="#e8051e"/><rect x="742.50" y="243.50" width="9.60" height="6.1" fill="#fbb88a"/><rect x="753.70" y="243.50" width="13.80" height="6.1" fill="#ee5c82"/><line x1="481.8" y1="255.82" x2="771.30" y2="255.82" stroke="#9c9c9c" stroke-width="1.3"/><rect x="519.30" y="252.77" width="10.20" height="6.1" fill="#c9532e"/><rect x="540.40" y="252.77" width="5.80" height="6.1" fill="#e8051e"/><rect x="546.20" y="252.77" width="9.60" height="6.1" fill="#ef8aaa"/><rect x="556.30" y="252.77" width="12.90" height="6.1" fill="#0b7f73"/><rect x="572.10" y="252.77" width="14.40" height="6.1" fill="#58bc8a"/><rect x="587.80" y="252.77" width="24.60" height="6.1" fill="#ffc808"/><rect x="613.90" y="252.77" width="6.10" height="6.1" fill="#9c99c2"/><rect x="621.60" y="252.77" width="10.00" height="6.1" fill="#1665c8"/><rect x="633.00" y="252.77" width="17.60" height="6.1" fill="#6dae45"/><rect x="655.00" y="252.77" width="14.00" height="6.1" fill="#f7a11d"/><rect x="670.50" y="252.77" width="6.20" height="6.1" fill="#acd88c"/><rect x="680.20" y="252.77" width="14.00" height="6.1" fill="#5e4a8c"/><rect x="695.30" y="252.77" width="6.30" height="6.1" fill="#9c99c2"/><rect x="705.60" y="252.77" width="6.30" height="6.1" fill="#9c99c2"/><rect x="712.70" y="252.77" width="10.10" height="6.1" fill="#7d8770"/><rect x="724.30" y="252.77" width="6.00" height="6.1" fill="#9c99c2"/><rect x="732.30" y="252.77" width="6.60" height="6.1" fill="#e8051e"/><rect x="741.90" y="252.77" width="9.60" height="6.1" fill="#fbb88a"/><rect x="753.10" y="252.77" width="13.80" height="6.1" fill="#ee5c82"/><line x1="481.8" y1="265.10" x2="769.90" y2="265.10" stroke="#9c9c9c" stroke-width="1.3"/><rect x="518.30" y="262.05" width="10.20" height="6.1" fill="#c9532e"/><rect x="539.40" y="262.05" width="5.80" height="6.1" fill="#e8051e"/><rect x="545.20" y="262.05" width="9.60" height="6.1" fill="#ef8aaa"/><rect x="555.30" y="262.05" width="12.90" height="6.1" fill="#0b7f73"/><rect x="571.10" y="262.05" width="14.40" height="6.1" fill="#58bc8a"/><rect x="586.80" y="262.05" width="24.60" height="6.1" fill="#ffc808"/><rect x="612.90" y="262.05" width="6.10" height="6.1" fill="#9c99c2"/><rect x="620.60" y="262.05" width="10.00" height="6.1" fill="#1665c8"/><rect x="632.00" y="262.05" width="17.60" height="6.1" fill="#6dae45"/><rect x="654.00" y="262.05" width="14.00" height="6.1" fill="#f7a11d"/><rect x="669.50" y="262.05" width="6.20" height="6.1" fill="#acd88c"/><rect x="679.20" y="262.05" width="14.00" height="6.1" fill="#5e4a8c"/><rect x="694.30" y="262.05" width="6.30" height="6.1" fill="#9c99c2"/><rect x="704.20" y="262.05" width="6.30" height="6.1" fill="#9c99c2"/><rect x="711.30" y="262.05" width="10.10" height="6.1" fill="#7d8770"/><rect x="722.90" y="262.05" width="6.00" height="6.1" fill="#9c99c2"/><rect x="730.90" y="262.05" width="6.60" height="6.1" fill="#e8051e"/><rect x="740.50" y="262.05" width="9.60" height="6.1" fill="#fbb88a"/><rect x="751.70" y="262.05" width="13.80" height="6.1" fill="#ee5c82"/><line x1="481.8" y1="274.38" x2="772.40" y2="274.38" stroke="#9c9c9c" stroke-width="1.3"/><rect x="520.60" y="271.33" width="10.20" height="6.1" fill="#c9532e"/><rect x="541.70" y="271.33" width="5.80" height="6.1" fill="#e8051e"/><rect x="547.50" y="271.33" width="9.60" height="6.1" fill="#ef8aaa"/><rect x="557.60" y="271.33" width="12.90" height="6.1" fill="#0b7f73"/><rect x="573.40" y="271.33" width="14.40" height="6.1" fill="#58bc8a"/><rect x="589.10" y="271.33" width="24.60" height="6.1" fill="#ffc808"/><rect x="615.20" y="271.33" width="6.10" height="6.1" fill="#9c99c2"/><rect x="622.90" y="271.33" width="10.00" height="6.1" fill="#1665c8"/><rect x="634.30" y="271.33" width="17.60" height="6.1" fill="#6dae45"/><rect x="656.30" y="271.33" width="14.00" height="6.1" fill="#f7a11d"/><rect x="671.80" y="271.33" width="6.20" height="6.1" fill="#acd88c"/><rect x="681.50" y="271.33" width="14.00" height="6.1" fill="#5e4a8c"/><rect x="696.60" y="271.33" width="6.30" height="6.1" fill="#9c99c2"/><rect x="706.70" y="271.33" width="6.30" height="6.1" fill="#9c99c2"/><rect x="713.80" y="271.33" width="10.10" height="6.1" fill="#7d8770"/><rect x="725.40" y="271.33" width="6.00" height="6.1" fill="#9c99c2"/><rect x="733.40" y="271.33" width="6.60" height="6.1" fill="#e8051e"/><rect x="743.00" y="271.33" width="9.60" height="6.1" fill="#fbb88a"/><rect x="754.20" y="271.33" width="13.80" height="6.1" fill="#ee5c82"/><line x1="481.8" y1="283.66" x2="772.40" y2="283.66" stroke="#9c9c9c" stroke-width="1.3"/><rect x="520.60" y="280.61" width="10.20" height="6.1" fill="#c9532e"/><rect x="541.70" y="280.61" width="5.80" height="6.1" fill="#e8051e"/><rect x="547.50" y="280.61" width="9.60" height="6.1" fill="#ef8aaa"/><rect x="557.60" y="280.61" width="12.90" height="6.1" fill="#0b7f73"/><rect x="573.40" y="280.61" width="14.40" height="6.1" fill="#58bc8a"/><rect x="589.10" y="280.61" width="24.60" height="6.1" fill="#ffc808"/><rect x="615.20" y="280.61" width="6.10" height="6.1" fill="#9c99c2"/><rect x="622.90" y="280.61" width="10.00" height="6.1" fill="#1665c8"/><rect x="634.30" y="280.61" width="17.60" height="6.1" fill="#6dae45"/><rect x="656.30" y="280.61" width="14.00" height="6.1" fill="#f7a11d"/><rect x="671.80" y="280.61" width="6.20" height="6.1" fill="#acd88c"/><rect x="681.50" y="280.61" width="14.00" height="6.1" fill="#5e4a8c"/><rect x="696.60" y="280.61" width="6.30" height="6.1" fill="#9c99c2"/><rect x="706.70" y="280.61" width="6.30" height="6.1" fill="#9c99c2"/><rect x="713.80" y="280.61" width="10.10" height="6.1" fill="#7d8770"/><rect x="725.40" y="280.61" width="6.00" height="6.1" fill="#9c99c2"/><rect x="733.40" y="280.61" width="6.60" height="6.1" fill="#e8051e"/><rect x="743.00" y="280.61" width="9.60" height="6.1" fill="#fbb88a"/><rect x="754.20" y="280.61" width="13.80" height="6.1" fill="#ee5c82"/><line x1="481.8" y1="292.93" x2="772.40" y2="292.93" stroke="#9c9c9c" stroke-width="1.3"/><rect x="520.60" y="289.88" width="10.20" height="6.1" fill="#c9532e"/><rect x="541.70" y="289.88" width="5.80" height="6.1" fill="#e8051e"/><rect x="547.50" y="289.88" width="9.60" height="6.1" fill="#ef8aaa"/><rect x="557.60" y="289.88" width="12.90" height="6.1" fill="#0b7f73"/><rect x="573.40" y="289.88" width="14.40" height="6.1" fill="#58bc8a"/><rect x="589.10" y="289.88" width="24.60" height="6.1" fill="#ffc808"/><rect x="615.20" y="289.88" width="6.10" height="6.1" fill="#9c99c2"/><rect x="622.90" y="289.88" width="10.00" height="6.1" fill="#1665c8"/><rect x="634.30" y="289.88" width="17.60" height="6.1" fill="#6dae45"/><rect x="656.30" y="289.88" width="14.00" height="6.1" fill="#f7a11d"/><rect x="671.80" y="289.88" width="6.20" height="6.1" fill="#acd88c"/><rect x="681.50" y="289.88" width="14.00" height="6.1" fill="#5e4a8c"/><rect x="696.60" y="289.88" width="6.30" height="6.1" fill="#9c99c2"/><rect x="706.70" y="289.88" width="6.30" height="6.1" fill="#9c99c2"/><rect x="713.80" y="289.88" width="10.10" height="6.1" fill="#7d8770"/><rect x="725.40" y="289.88" width="6.00" height="6.1" fill="#9c99c2"/><rect x="733.40" y="289.88" width="6.60" height="6.1" fill="#e8051e"/><rect x="743.00" y="289.88" width="9.60" height="6.1" fill="#fbb88a"/><rect x="754.20" y="289.88" width="13.80" height="6.1" fill="#ee5c82"/><line x1="481.8" y1="302.21" x2="784.30" y2="302.21" stroke="#9c9c9c" stroke-width="1.3"/><rect x="533.30" y="299.16" width="10.20" height="6.1" fill="#c9532e"/><rect x="554.40" y="299.16" width="5.80" height="6.1" fill="#e8051e"/><rect x="560.20" y="299.16" width="9.60" height="6.1" fill="#ef8aaa"/><rect x="570.30" y="299.16" width="12.90" height="6.1" fill="#0b7f73"/><rect x="586.10" y="299.16" width="14.40" height="6.1" fill="#58bc8a"/><rect x="601.80" y="299.16" width="24.60" height="6.1" fill="#ffc808"/><rect x="627.90" y="299.16" width="6.10" height="6.1" fill="#9c99c2"/><rect x="635.60" y="299.16" width="10.00" height="6.1" fill="#1665c8"/><rect x="647.00" y="299.16" width="17.60" height="6.1" fill="#6dae45"/><rect x="669.00" y="299.16" width="14.00" height="6.1" fill="#f7a11d"/><rect x="684.50" y="299.16" width="6.20" height="6.1" fill="#acd88c"/><rect x="706.60" y="299.16" width="6.30" height="6.1" fill="#9c99c2"/><rect x="721.40" y="299.16" width="10.20" height="6.1" fill="#7d8770"/><rect x="743.60" y="299.16" width="6.60" height="6.1" fill="#e8051e"/><rect x="755.20" y="299.16" width="9.60" height="6.1" fill="#fbb88a"/><rect x="767.10" y="299.16" width="13.80" height="6.1" fill="#ee5c82"/><rect x="512.20" y="299.16" width="13.80" height="6.1" fill="#ee5c82"/><line x1="481.8" y1="311.49" x2="784.30" y2="311.49" stroke="#9c9c9c" stroke-width="1.3"/><rect x="533.30" y="308.44" width="10.20" height="6.1" fill="#c9532e"/><rect x="554.40" y="308.44" width="5.80" height="6.1" fill="#e8051e"/><rect x="560.20" y="308.44" width="9.60" height="6.1" fill="#ef8aaa"/><rect x="570.30" y="308.44" width="12.90" height="6.1" fill="#0b7f73"/><rect x="586.10" y="308.44" width="14.40" height="6.1" fill="#58bc8a"/><rect x="601.80" y="308.44" width="24.60" height="6.1" fill="#ffc808"/><rect x="627.90" y="308.44" width="6.10" height="6.1" fill="#9c99c2"/><rect x="635.60" y="308.44" width="10.00" height="6.1" fill="#1665c8"/><rect x="647.00" y="308.44" width="17.60" height="6.1" fill="#6dae45"/><rect x="669.00" y="308.44" width="14.00" height="6.1" fill="#f7a11d"/><rect x="684.50" y="308.44" width="6.20" height="6.1" fill="#acd88c"/><rect x="706.60" y="308.44" width="6.30" height="6.1" fill="#9c99c2"/><rect x="721.40" y="308.44" width="10.20" height="6.1" fill="#7d8770"/><rect x="743.60" y="308.44" width="6.60" height="6.1" fill="#e8051e"/><rect x="755.20" y="308.44" width="9.60" height="6.1" fill="#fbb88a"/><rect x="767.10" y="308.44" width="13.80" height="6.1" fill="#ee5c82"/><line x1="481.8" y1="320.76" x2="782.40" y2="320.76" stroke="#9c9c9c" stroke-width="1.3"/><rect x="533.30" y="317.71" width="10.20" height="6.1" fill="#c9532e"/><rect x="554.40" y="317.71" width="5.80" height="6.1" fill="#e8051e"/><rect x="560.20" y="317.71" width="9.60" height="6.1" fill="#ef8aaa"/><rect x="570.30" y="317.71" width="12.90" height="6.1" fill="#0b7f73"/><rect x="586.10" y="317.71" width="14.40" height="6.1" fill="#58bc8a"/><rect x="601.80" y="317.71" width="24.60" height="6.1" fill="#ffc808"/><rect x="627.90" y="317.71" width="6.10" height="6.1" fill="#9c99c2"/><rect x="635.60" y="317.71" width="10.00" height="6.1" fill="#1665c8"/><rect x="647.00" y="317.71" width="17.60" height="6.1" fill="#6dae45"/><rect x="669.00" y="317.71" width="14.00" height="6.1" fill="#f7a11d"/><rect x="684.50" y="317.71" width="6.20" height="6.1" fill="#acd88c"/><rect x="704.70" y="317.71" width="6.30" height="6.1" fill="#9c99c2"/><rect x="719.50" y="317.71" width="10.20" height="6.1" fill="#7d8770"/><rect x="741.70" y="317.71" width="6.60" height="6.1" fill="#e8051e"/><rect x="753.30" y="317.71" width="9.60" height="6.1" fill="#fbb88a"/><rect x="765.20" y="317.71" width="13.80" height="6.1" fill="#ee5c82"/><line x1="481.8" y1="330.04" x2="785.90" y2="330.04" stroke="#9c9c9c" stroke-width="1.3"/><rect x="534.60" y="326.99" width="10.20" height="6.1" fill="#c9532e"/><rect x="555.70" y="326.99" width="5.80" height="6.1" fill="#e8051e"/><rect x="561.50" y="326.99" width="9.60" height="6.1" fill="#ef8aaa"/><rect x="571.60" y="326.99" width="12.90" height="6.1" fill="#0b7f73"/><rect x="587.40" y="326.99" width="14.40" height="6.1" fill="#58bc8a"/><rect x="603.10" y="326.99" width="24.60" height="6.1" fill="#ffc808"/><rect x="629.20" y="326.99" width="6.10" height="6.1" fill="#9c99c2"/><rect x="636.90" y="326.99" width="10.00" height="6.1" fill="#1665c8"/><rect x="648.30" y="326.99" width="17.60" height="6.1" fill="#6dae45"/><rect x="670.30" y="326.99" width="14.00" height="6.1" fill="#f7a11d"/><rect x="685.80" y="326.99" width="6.20" height="6.1" fill="#acd88c"/><rect x="708.20" y="326.99" width="6.30" height="6.1" fill="#9c99c2"/><rect x="723.00" y="326.99" width="10.20" height="6.1" fill="#7d8770"/><rect x="745.20" y="326.99" width="6.60" height="6.1" fill="#e8051e"/><rect x="756.80" y="326.99" width="9.60" height="6.1" fill="#fbb88a"/><rect x="768.70" y="326.99" width="13.80" height="6.1" fill="#ee5c82"/><line x1="481.8" y1="339.32" x2="782.00" y2="339.32" stroke="#9c9c9c" stroke-width="1.3"/><rect x="530.80" y="336.27" width="10.20" height="6.1" fill="#c9532e"/><rect x="551.90" y="336.27" width="5.80" height="6.1" fill="#e8051e"/><rect x="557.70" y="336.27" width="9.60" height="6.1" fill="#ef8aaa"/><rect x="567.80" y="336.27" width="12.90" height="6.1" fill="#0b7f73"/><rect x="583.60" y="336.27" width="14.40" height="6.1" fill="#58bc8a"/><rect x="599.30" y="336.27" width="24.60" height="6.1" fill="#ffc808"/><rect x="625.40" y="336.27" width="6.10" height="6.1" fill="#9c99c2"/><rect x="633.10" y="336.27" width="10.00" height="6.1" fill="#1665c8"/><rect x="644.50" y="336.27" width="17.60" height="6.1" fill="#6dae45"/><rect x="666.50" y="336.27" width="14.00" height="6.1" fill="#f7a11d"/><rect x="682.00" y="336.27" width="6.20" height="6.1" fill="#acd88c"/><rect x="704.30" y="336.27" width="6.30" height="6.1" fill="#9c99c2"/><rect x="719.10" y="336.27" width="10.20" height="6.1" fill="#7d8770"/><rect x="741.30" y="336.27" width="6.60" height="6.1" fill="#e8051e"/><rect x="752.90" y="336.27" width="9.60" height="6.1" fill="#fbb88a"/><rect x="764.80" y="336.27" width="13.80" height="6.1" fill="#ee5c82"/><line x1="481.8" y1="348.59" x2="784.70" y2="348.59" stroke="#9c9c9c" stroke-width="1.3"/><rect x="533.70" y="345.54" width="10.20" height="6.1" fill="#c9532e"/><rect x="554.80" y="345.54" width="5.80" height="6.1" fill="#e8051e"/><rect x="560.60" y="345.54" width="9.60" height="6.1" fill="#ef8aaa"/><rect x="570.70" y="345.54" width="12.90" height="6.1" fill="#0b7f73"/><rect x="586.50" y="345.54" width="14.40" height="6.1" fill="#58bc8a"/><rect x="602.20" y="345.54" width="24.60" height="6.1" fill="#ffc808"/><rect x="628.30" y="345.54" width="6.10" height="6.1" fill="#9c99c2"/><rect x="636.00" y="345.54" width="10.00" height="6.1" fill="#1665c8"/><rect x="647.40" y="345.54" width="17.60" height="6.1" fill="#6dae45"/><rect x="669.40" y="345.54" width="14.00" height="6.1" fill="#f7a11d"/><rect x="684.90" y="345.54" width="6.20" height="6.1" fill="#acd88c"/><rect x="707.00" y="345.54" width="6.30" height="6.1" fill="#9c99c2"/><rect x="721.80" y="345.54" width="10.20" height="6.1" fill="#7d8770"/><rect x="744.00" y="345.54" width="6.60" height="6.1" fill="#e8051e"/><rect x="755.60" y="345.54" width="9.60" height="6.1" fill="#fbb88a"/><rect x="767.50" y="345.54" width="13.80" height="6.1" fill="#ee5c82"/><line x1="481.8" y1="357.87" x2="784.70" y2="357.87" stroke="#9c9c9c" stroke-width="1.3"/><rect x="533.30" y="354.82" width="10.20" height="6.1" fill="#c9532e"/><rect x="554.40" y="354.82" width="5.80" height="6.1" fill="#e8051e"/><rect x="560.20" y="354.82" width="9.60" height="6.1" fill="#ef8aaa"/><rect x="570.30" y="354.82" width="12.90" height="6.1" fill="#0b7f73"/><rect x="586.10" y="354.82" width="14.40" height="6.1" fill="#58bc8a"/><rect x="601.80" y="354.82" width="24.60" height="6.1" fill="#ffc808"/><rect x="627.90" y="354.82" width="6.10" height="6.1" fill="#9c99c2"/><rect x="635.60" y="354.82" width="10.00" height="6.1" fill="#1665c8"/><rect x="647.00" y="354.82" width="17.60" height="6.1" fill="#6dae45"/><rect x="669.00" y="354.82" width="14.00" height="6.1" fill="#f7a11d"/><rect x="684.50" y="354.82" width="6.20" height="6.1" fill="#acd88c"/><rect x="707.00" y="354.82" width="6.30" height="6.1" fill="#9c99c2"/><rect x="721.80" y="354.82" width="10.20" height="6.1" fill="#7d8770"/><rect x="744.00" y="354.82" width="6.60" height="6.1" fill="#e8051e"/><rect x="755.60" y="354.82" width="9.60" height="6.1" fill="#fbb88a"/><rect x="767.50" y="354.82" width="13.80" height="6.1" fill="#ee5c82"/><line x1="481.8" y1="367.15" x2="786.60" y2="367.15" stroke="#9c9c9c" stroke-width="1.3"/><rect x="534.00" y="364.10" width="10.20" height="6.1" fill="#c9532e"/><rect x="555.10" y="364.10" width="5.80" height="6.1" fill="#e8051e"/><rect x="560.90" y="364.10" width="9.60" height="6.1" fill="#ef8aaa"/><rect x="571.00" y="364.10" width="12.90" height="6.1" fill="#0b7f73"/><rect x="586.80" y="364.10" width="14.40" height="6.1" fill="#58bc8a"/><rect x="602.50" y="364.10" width="24.60" height="6.1" fill="#ffc808"/><rect x="628.60" y="364.10" width="6.10" height="6.1" fill="#9c99c2"/><rect x="636.30" y="364.10" width="10.00" height="6.1" fill="#1665c8"/><rect x="647.70" y="364.10" width="17.60" height="6.1" fill="#6dae45"/><rect x="669.70" y="364.10" width="14.00" height="6.1" fill="#f7a11d"/><rect x="685.20" y="364.10" width="6.20" height="6.1" fill="#acd88c"/><rect x="708.90" y="364.10" width="6.30" height="6.1" fill="#9c99c2"/><rect x="723.70" y="364.10" width="10.20" height="6.1" fill="#7d8770"/><rect x="746.90" y="364.10" width="6.70" height="6.1" fill="#e8051e"/><rect x="757.50" y="364.10" width="9.60" height="6.1" fill="#fbb88a"/><rect x="769.40" y="364.10" width="13.80" height="6.1" fill="#ee5c82"/><rect x="738.70" y="364.10" width="5.70" height="6.1" fill="#9c99c2"/><line x1="481.8" y1="376.43" x2="824.20" y2="376.43" stroke="#9c9c9c" stroke-width="1.3"/><rect x="544.20" y="373.38" width="6.70" height="6.1" fill="#e8051e"/><rect x="556.70" y="373.38" width="7.30" height="6.1" fill="#ef8aaa"/><rect x="596.00" y="373.38" width="25.00" height="6.1" fill="#ffc808"/><rect x="640.70" y="373.38" width="17.90" height="6.1" fill="#6dae45"/><rect x="676.90" y="373.38" width="7.30" height="6.1" fill="#acd88c"/><rect x="714.30" y="373.38" width="6.30" height="6.1" fill="#9c99c2"/><rect x="759.80" y="373.38" width="6.90" height="6.1" fill="#e8051e"/><rect x="767.40" y="373.38" width="10.20" height="6.1" fill="#fbb88a"/><line x1="481.8" y1="385.70" x2="750.70" y2="385.70" stroke="#9c9c9c" stroke-width="1.3"/><rect x="550.50" y="382.65" width="6.60" height="6.1" fill="#e8051e"/><rect x="562.40" y="382.65" width="7.70" height="6.1" fill="#ef8aaa"/><rect x="603.10" y="382.65" width="24.60" height="6.1" fill="#ffc808"/><rect x="647.30" y="382.65" width="17.70" height="6.1" fill="#6dae45"/><rect x="684.20" y="382.65" width="6.50" height="6.1" fill="#acd88c"/><rect x="721.00" y="382.65" width="6.70" height="6.1" fill="#9c99c2"/><line x1="481.8" y1="394.98" x2="782.40" y2="394.98" stroke="#9c9c9c" stroke-width="1.3"/><rect x="545.20" y="391.93" width="6.70" height="6.1" fill="#e8051e"/><rect x="557.60" y="391.93" width="7.10" height="6.1" fill="#ef8aaa"/><rect x="598.50" y="391.93" width="24.40" height="6.1" fill="#ffc808"/><rect x="642.60" y="391.93" width="17.00" height="6.1" fill="#6dae45"/><rect x="678.80" y="391.93" width="6.70" height="6.1" fill="#acd88c"/><rect x="711.40" y="391.93" width="6.70" height="6.1" fill="#9c99c2"/><rect x="753.20" y="391.93" width="10.00" height="6.1" fill="#fbb88a"/><rect x="765.10" y="391.93" width="14.40" height="6.1" fill="#ee5c82"/><line x1="481.8" y1="404.26" x2="785.90" y2="404.26" stroke="#9c9c9c" stroke-width="1.3"/><rect x="526.00" y="401.21" width="6.70" height="6.1" fill="#e8051e"/><rect x="538.40" y="401.21" width="6.80" height="6.1" fill="#ef8aaa"/><rect x="552.50" y="401.21" width="12.20" height="6.1" fill="#0b7f73"/><rect x="631.10" y="401.21" width="17.70" height="6.1" fill="#6dae45"/><rect x="667.70" y="401.21" width="6.90" height="6.1" fill="#acd88c"/><rect x="701.40" y="401.21" width="7.10" height="6.1" fill="#9c99c2"/><rect x="756.50" y="401.21" width="10.20" height="6.1" fill="#fbb88a"/><rect x="769.00" y="401.21" width="13.80" height="6.1" fill="#ee5c82"/><line x1="481.8" y1="413.53" x2="753.60" y2="413.53" stroke="#9c9c9c" stroke-width="1.3"/><rect x="495.30" y="410.48" width="6.70" height="6.1" fill="#e8051e"/><rect x="507.70" y="410.48" width="6.80" height="6.1" fill="#ef8aaa"/><rect x="550.00" y="410.48" width="24.30" height="6.1" fill="#ffc808"/><rect x="599.30" y="410.48" width="17.80" height="6.1" fill="#6dae45"/><rect x="635.70" y="410.48" width="6.90" height="6.1" fill="#acd88c"/><rect x="667.70" y="410.48" width="6.90" height="6.1" fill="#9c99c2"/><rect x="716.20" y="410.48" width="6.70" height="6.1" fill="#acd88c"/><rect x="724.50" y="410.48" width="9.90" height="6.1" fill="#fbb88a"/><rect x="736.70" y="410.48" width="14.00" height="6.1" fill="#ee5c82"/><line x1="481.8" y1="422.81" x2="792.40" y2="422.81" stroke="#9c9c9c" stroke-width="1.3"/><rect x="542.30" y="419.76" width="6.70" height="6.1" fill="#e8051e"/><rect x="554.40" y="419.76" width="7.10" height="6.1" fill="#ef8aaa"/><rect x="594.10" y="419.76" width="24.40" height="6.1" fill="#ffc808"/><rect x="637.30" y="419.76" width="17.50" height="6.1" fill="#6dae45"/><rect x="673.40" y="419.76" width="6.90" height="6.1" fill="#acd88c"/><rect x="707.60" y="419.76" width="7.30" height="6.1" fill="#9c99c2"/><rect x="763.20" y="419.76" width="10.00" height="6.1" fill="#fbb88a"/><rect x="775.70" y="419.76" width="14.00" height="6.1" fill="#ee5c82"/><line x1="481.8" y1="432.09" x2="757.50" y2="432.09" stroke="#9c9c9c" stroke-width="1.3"/><rect x="502.00" y="429.04" width="10.20" height="6.1" fill="#c9532e"/><rect x="523.10" y="429.04" width="5.80" height="6.1" fill="#e8051e"/><rect x="528.90" y="429.04" width="9.60" height="6.1" fill="#ef8aaa"/><rect x="539.00" y="429.04" width="12.90" height="6.1" fill="#0b7f73"/><rect x="554.80" y="429.04" width="14.40" height="6.1" fill="#58bc8a"/><rect x="570.50" y="429.04" width="24.60" height="6.1" fill="#ffc808"/><rect x="596.60" y="429.04" width="6.10" height="6.1" fill="#9c99c2"/><rect x="604.30" y="429.04" width="10.00" height="6.1" fill="#1665c8"/><rect x="615.70" y="429.04" width="17.60" height="6.1" fill="#6dae45"/><rect x="637.70" y="429.04" width="14.00" height="6.1" fill="#f7a11d"/><rect x="653.20" y="429.04" width="6.20" height="6.1" fill="#acd88c"/><rect x="665.20" y="429.04" width="6.80" height="6.1" fill="#9c99c2"/><rect x="676.90" y="429.04" width="7.10" height="6.1" fill="#9c99c2"/><rect x="692.50" y="429.04" width="10.00" height="6.1" fill="#7d8770"/><rect x="718.30" y="429.04" width="6.80" height="6.1" fill="#e8051e"/><rect x="727.10" y="429.04" width="9.80" height="6.1" fill="#fbb88a"/><rect x="739.30" y="429.04" width="13.90" height="6.1" fill="#ee5c82"/><line x1="481.8" y1="441.36" x2="761.70" y2="441.36" stroke="#9c9c9c" stroke-width="1.3"/><rect x="504.90" y="438.31" width="10.20" height="6.1" fill="#c9532e"/><rect x="526.00" y="438.31" width="5.80" height="6.1" fill="#e8051e"/><rect x="531.80" y="438.31" width="9.60" height="6.1" fill="#ef8aaa"/><rect x="541.90" y="438.31" width="12.90" height="6.1" fill="#0b7f73"/><rect x="557.70" y="438.31" width="14.40" height="6.1" fill="#58bc8a"/><rect x="573.40" y="438.31" width="24.60" height="6.1" fill="#ffc808"/><rect x="599.50" y="438.31" width="6.10" height="6.1" fill="#9c99c2"/><rect x="607.20" y="438.31" width="10.00" height="6.1" fill="#1665c8"/><rect x="618.60" y="438.31" width="17.60" height="6.1" fill="#6dae45"/><rect x="640.60" y="438.31" width="14.00" height="6.1" fill="#f7a11d"/><rect x="656.10" y="438.31" width="6.20" height="6.1" fill="#acd88c"/><rect x="668.10" y="438.31" width="6.80" height="6.1" fill="#9c99c2"/><rect x="679.80" y="438.31" width="7.10" height="6.1" fill="#9c99c2"/><rect x="695.40" y="438.31" width="10.00" height="6.1" fill="#7d8770"/><rect x="721.20" y="438.31" width="6.80" height="6.1" fill="#e8051e"/><rect x="730.00" y="438.31" width="9.80" height="6.1" fill="#fbb88a"/><rect x="742.20" y="438.31" width="13.90" height="6.1" fill="#ee5c82"/><rect x="708.50" y="438.31" width="6.70" height="6.1" fill="#9c99c2"/><line x1="481.8" y1="450.64" x2="761.70" y2="450.64" stroke="#9c9c9c" stroke-width="1.3"/><rect x="504.90" y="447.59" width="10.20" height="6.1" fill="#c9532e"/><rect x="526.00" y="447.59" width="5.80" height="6.1" fill="#e8051e"/><rect x="531.80" y="447.59" width="9.60" height="6.1" fill="#ef8aaa"/><rect x="541.90" y="447.59" width="12.90" height="6.1" fill="#0b7f73"/><rect x="557.70" y="447.59" width="14.40" height="6.1" fill="#58bc8a"/><rect x="573.40" y="447.59" width="24.60" height="6.1" fill="#ffc808"/><rect x="599.50" y="447.59" width="6.10" height="6.1" fill="#9c99c2"/><rect x="607.20" y="447.59" width="10.00" height="6.1" fill="#1665c8"/><rect x="618.60" y="447.59" width="17.60" height="6.1" fill="#6dae45"/><rect x="640.60" y="447.59" width="14.00" height="6.1" fill="#f7a11d"/><rect x="656.10" y="447.59" width="6.20" height="6.1" fill="#acd88c"/><rect x="668.10" y="447.59" width="6.80" height="6.1" fill="#9c99c2"/><rect x="679.80" y="447.59" width="7.10" height="6.1" fill="#9c99c2"/><rect x="695.40" y="447.59" width="10.00" height="6.1" fill="#7d8770"/><rect x="721.20" y="447.59" width="6.80" height="6.1" fill="#e8051e"/><rect x="730.00" y="447.59" width="9.80" height="6.1" fill="#fbb88a"/><rect x="742.20" y="447.59" width="13.90" height="6.1" fill="#ee5c82"/><rect x="708.50" y="447.59" width="6.70" height="6.1" fill="#9c99c2"/><line x1="481.8" y1="459.92" x2="761.70" y2="459.92" stroke="#9c9c9c" stroke-width="1.3"/><rect x="504.90" y="456.87" width="10.20" height="6.1" fill="#c9532e"/><rect x="526.00" y="456.87" width="5.80" height="6.1" fill="#e8051e"/><rect x="531.80" y="456.87" width="9.60" height="6.1" fill="#ef8aaa"/><rect x="541.90" y="456.87" width="12.90" height="6.1" fill="#0b7f73"/><rect x="557.70" y="456.87" width="14.40" height="6.1" fill="#58bc8a"/><rect x="573.40" y="456.87" width="24.60" height="6.1" fill="#ffc808"/><rect x="599.50" y="456.87" width="6.10" height="6.1" fill="#9c99c2"/><rect x="607.20" y="456.87" width="10.00" height="6.1" fill="#1665c8"/><rect x="618.60" y="456.87" width="17.60" height="6.1" fill="#6dae45"/><rect x="640.60" y="456.87" width="14.00" height="6.1" fill="#f7a11d"/><rect x="656.10" y="456.87" width="6.20" height="6.1" fill="#acd88c"/><rect x="668.10" y="456.87" width="6.80" height="6.1" fill="#9c99c2"/><rect x="679.80" y="456.87" width="7.10" height="6.1" fill="#9c99c2"/><rect x="695.40" y="456.87" width="10.00" height="6.1" fill="#7d8770"/><rect x="721.20" y="456.87" width="6.80" height="6.1" fill="#e8051e"/><rect x="730.00" y="456.87" width="9.80" height="6.1" fill="#fbb88a"/><rect x="742.20" y="456.87" width="13.90" height="6.1" fill="#ee5c82"/><line x1="481.8" y1="469.20" x2="761.70" y2="469.20" stroke="#9c9c9c" stroke-width="1.3"/><rect x="504.90" y="466.15" width="10.20" height="6.1" fill="#c9532e"/><rect x="526.00" y="466.15" width="5.80" height="6.1" fill="#e8051e"/><rect x="531.80" y="466.15" width="9.60" height="6.1" fill="#ef8aaa"/><rect x="541.90" y="466.15" width="12.90" height="6.1" fill="#0b7f73"/><rect x="557.70" y="466.15" width="14.40" height="6.1" fill="#58bc8a"/><rect x="573.40" y="466.15" width="24.60" height="6.1" fill="#ffc808"/><rect x="599.50" y="466.15" width="6.10" height="6.1" fill="#9c99c2"/><rect x="607.20" y="466.15" width="10.00" height="6.1" fill="#1665c8"/><rect x="618.60" y="466.15" width="17.60" height="6.1" fill="#6dae45"/><rect x="640.60" y="466.15" width="14.00" height="6.1" fill="#f7a11d"/><rect x="656.10" y="466.15" width="6.20" height="6.1" fill="#acd88c"/><rect x="668.10" y="466.15" width="6.80" height="6.1" fill="#9c99c2"/><rect x="679.80" y="466.15" width="7.10" height="6.1" fill="#9c99c2"/><rect x="695.40" y="466.15" width="10.00" height="6.1" fill="#7d8770"/><rect x="721.20" y="466.15" width="6.80" height="6.1" fill="#e8051e"/><rect x="730.00" y="466.15" width="9.80" height="6.1" fill="#fbb88a"/><rect x="742.20" y="466.15" width="13.90" height="6.1" fill="#ee5c82"/><line x1="481.8" y1="478.47" x2="743.60" y2="478.47" stroke="#9c9c9c" stroke-width="1.3"/><rect x="516.40" y="475.42" width="6.70" height="6.1" fill="#acd88c"/><rect x="528.90" y="475.42" width="6.70" height="6.1" fill="#9c99c2"/><rect x="540.90" y="475.42" width="6.60" height="6.1" fill="#9c99c2"/><rect x="611.40" y="475.42" width="10.10" height="6.1" fill="#7d8770"/><rect x="637.70" y="475.42" width="6.90" height="6.1" fill="#e8051e"/><rect x="646.90" y="475.42" width="9.80" height="6.1" fill="#fbb88a"/><rect x="659.20" y="475.42" width="13.80" height="6.1" fill="#ee5c82"/><line x1="481.8" y1="487.75" x2="796.80" y2="487.75" stroke="#9c9c9c" stroke-width="1.3"/><rect x="504.90" y="484.70" width="10.20" height="6.1" fill="#c9532e"/><rect x="526.00" y="484.70" width="5.80" height="6.1" fill="#e8051e"/><rect x="531.80" y="484.70" width="9.60" height="6.1" fill="#ef8aaa"/><rect x="541.90" y="484.70" width="12.90" height="6.1" fill="#0b7f73"/><rect x="557.70" y="484.70" width="14.40" height="6.1" fill="#58bc8a"/><rect x="573.40" y="484.70" width="24.60" height="6.1" fill="#ffc808"/><rect x="599.50" y="484.70" width="6.10" height="6.1" fill="#9c99c2"/><rect x="607.20" y="484.70" width="10.00" height="6.1" fill="#1665c8"/><rect x="618.60" y="484.70" width="17.60" height="6.1" fill="#6dae45"/><rect x="640.60" y="484.70" width="14.00" height="6.1" fill="#f7a11d"/><rect x="656.10" y="484.70" width="6.20" height="6.1" fill="#acd88c"/><rect x="668.10" y="484.70" width="6.80" height="6.1" fill="#9c99c2"/><rect x="679.80" y="484.70" width="7.10" height="6.1" fill="#9c99c2"/><rect x="695.40" y="484.70" width="10.00" height="6.1" fill="#7d8770"/><rect x="721.20" y="484.70" width="6.80" height="6.1" fill="#e8051e"/><rect x="730.00" y="484.70" width="9.80" height="6.1" fill="#fbb88a"/><rect x="742.20" y="484.70" width="13.90" height="6.1" fill="#ee5c82"/><rect x="770.50" y="484.70" width="14.20" height="6.1" fill="#58bc8a"/><line x1="481.8" y1="497.03" x2="798.10" y2="497.03" stroke="#9c9c9c" stroke-width="1.3"/><rect x="539.40" y="493.98" width="7.70" height="6.1" fill="#ef8aaa"/><rect x="555.70" y="493.98" width="14.00" height="6.1" fill="#58bc8a"/><rect x="640.70" y="493.98" width="7.10" height="6.1" fill="#ef8aaa"/><rect x="684.20" y="493.98" width="7.10" height="6.1" fill="#acd88c"/><rect x="751.30" y="493.98" width="6.50" height="6.1" fill="#9c99c2"/><rect x="759.80" y="493.98" width="6.90" height="6.1" fill="#e8051e"/><rect x="769.40" y="493.98" width="10.10" height="6.1" fill="#fbb88a"/><line x1="481.8" y1="506.30" x2="753.90" y2="506.30" stroke="#9c9c9c" stroke-width="1.3"/><rect x="522.00" y="503.25" width="7.50" height="6.1" fill="#ef8aaa"/><rect x="538.10" y="503.25" width="14.20" height="6.1" fill="#58bc8a"/><rect x="557.70" y="503.25" width="24.80" height="6.1" fill="#ffc808"/><rect x="609.60" y="503.25" width="7.60" height="6.1" fill="#ef8aaa"/><rect x="651.60" y="503.25" width="6.90" height="6.1" fill="#acd88c"/><rect x="708.90" y="503.25" width="6.70" height="6.1" fill="#9c99c2"/><rect x="717.00" y="503.25" width="7.30" height="6.1" fill="#e8051e"/><rect x="731.70" y="503.25" width="10.10" height="6.1" fill="#1665c8"/><line x1="481.8" y1="515.58" x2="796.90" y2="515.58" stroke="#9c9c9c" stroke-width="1.3"/><rect x="543.00" y="512.53" width="7.20" height="6.1" fill="#ef8aaa"/><rect x="559.10" y="512.53" width="13.70" height="6.1" fill="#58bc8a"/><rect x="578.50" y="512.53" width="25.00" height="6.1" fill="#ffc808"/><rect x="643.00" y="512.53" width="7.50" height="6.1" fill="#ef8aaa"/><rect x="684.70" y="512.53" width="6.70" height="6.1" fill="#acd88c"/><rect x="751.90" y="512.53" width="6.70" height="6.1" fill="#9c99c2"/><rect x="760.00" y="512.53" width="7.00" height="6.1" fill="#e8051e"/><line x1="481.8" y1="524.86" x2="794.30" y2="524.86" stroke="#9c9c9c" stroke-width="1.3"/><rect x="515.30" y="521.81" width="12.10" height="6.1" fill="#0b7f73"/><rect x="540.10" y="521.81" width="7.50" height="6.1" fill="#ef8aaa"/><rect x="556.30" y="521.81" width="14.10" height="6.1" fill="#58bc8a"/><rect x="575.90" y="521.81" width="24.80" height="6.1" fill="#ffc808"/><rect x="640.40" y="521.81" width="7.50" height="6.1" fill="#ef8aaa"/><rect x="682.30" y="521.81" width="6.40" height="6.1" fill="#acd88c"/><rect x="749.30" y="521.81" width="6.60" height="6.1" fill="#9c99c2"/><rect x="757.30" y="521.81" width="7.30" height="6.1" fill="#e8051e"/><rect x="772.10" y="521.81" width="10.10" height="6.1" fill="#1665c8"/><line x1="481.8" y1="534.13" x2="793.70" y2="534.13" stroke="#9c9c9c" stroke-width="1.3"/><rect x="540.10" y="531.09" width="7.50" height="6.1" fill="#ef8aaa"/><rect x="556.30" y="531.09" width="13.50" height="6.1" fill="#58bc8a"/><rect x="575.30" y="531.09" width="24.80" height="6.1" fill="#ffc808"/><rect x="640.40" y="531.09" width="7.10" height="6.1" fill="#ef8aaa"/><rect x="682.30" y="531.09" width="6.40" height="6.1" fill="#acd88c"/><rect x="748.90" y="531.09" width="6.40" height="6.1" fill="#9c99c2"/><rect x="756.90" y="531.09" width="7.10" height="6.1" fill="#e8051e"/><rect x="771.50" y="531.09" width="10.10" height="6.1" fill="#1665c8"/><line x1="481.8" y1="543.41" x2="824.50" y2="543.41" stroke="#9c9c9c" stroke-width="1.3"/><rect x="540.50" y="540.36" width="7.70" height="6.1" fill="#ef8aaa"/><rect x="556.30" y="540.36" width="13.50" height="6.1" fill="#58bc8a"/><rect x="575.30" y="540.36" width="24.80" height="6.1" fill="#ffc808"/><rect x="640.40" y="540.36" width="7.10" height="6.1" fill="#ef8aaa"/><rect x="682.30" y="540.36" width="6.40" height="6.1" fill="#acd88c"/><rect x="748.90" y="540.36" width="6.40" height="6.1" fill="#9c99c2"/><rect x="757.30" y="540.36" width="7.30" height="6.1" fill="#e8051e"/><line x1="481.8" y1="552.69" x2="796.30" y2="552.69" stroke="#9c9c9c" stroke-width="1.3"/><rect x="542.20" y="549.64" width="7.40" height="6.1" fill="#ef8aaa"/><rect x="558.30" y="549.64" width="13.50" height="6.1" fill="#58bc8a"/><rect x="577.30" y="549.64" width="24.80" height="6.1" fill="#ffc808"/><rect x="641.80" y="549.64" width="7.30" height="6.1" fill="#ef8aaa"/><rect x="667.20" y="549.64" width="13.50" height="6.1" fill="#f7a11d"/><rect x="684.30" y="549.64" width="6.50" height="6.1" fill="#acd88c"/><rect x="751.30" y="549.64" width="6.70" height="6.1" fill="#9c99c2"/><rect x="759.40" y="549.64" width="7.20" height="6.1" fill="#e8051e"/><rect x="774.10" y="549.64" width="10.10" height="6.1" fill="#1665c8"/><line x1="481.8" y1="561.97" x2="773.50" y2="561.97" stroke="#9c9c9c" stroke-width="1.3"/><rect x="547.60" y="558.92" width="7.10" height="6.1" fill="#ef8aaa"/><rect x="586.00" y="558.92" width="25.20" height="6.1" fill="#ffc808"/><rect x="633.00" y="558.92" width="18.10" height="6.1" fill="#6dae45"/><rect x="671.20" y="558.92" width="6.60" height="6.1" fill="#acd88c"/><rect x="731.70" y="558.92" width="7.10" height="6.1" fill="#9c99c2"/><rect x="739.80" y="558.92" width="7.10" height="6.1" fill="#e8051e"/><rect x="748.50" y="558.92" width="10.10" height="6.1" fill="#fbb88a"/><rect x="759.00" y="558.92" width="13.70" height="6.1" fill="#ee5c82"/><line x1="481.8" y1="571.24" x2="762.00" y2="571.24" stroke="#9c9c9c" stroke-width="1.3"/><rect x="539.50" y="568.19" width="7.50" height="6.1" fill="#ef8aaa"/><rect x="622.30" y="568.19" width="18.10" height="6.1" fill="#6dae45"/><rect x="660.10" y="568.19" width="7.10" height="6.1" fill="#acd88c"/><rect x="708.50" y="568.19" width="11.10" height="6.1" fill="#7d8770"/><rect x="720.20" y="568.19" width="6.50" height="6.1" fill="#9c99c2"/><rect x="728.30" y="568.19" width="6.80" height="6.1" fill="#e8051e"/><rect x="736.40" y="568.19" width="10.00" height="6.1" fill="#fbb88a"/><rect x="746.90" y="568.19" width="14.10" height="6.1" fill="#ee5c82"/><line x1="481.8" y1="580.52" x2="763.40" y2="580.52" stroke="#9c9c9c" stroke-width="1.3"/><rect x="541.00" y="577.47" width="7.60" height="6.1" fill="#ef8aaa"/><rect x="623.70" y="577.47" width="17.70" height="6.1" fill="#6dae45"/><rect x="661.70" y="577.47" width="6.90" height="6.1" fill="#acd88c"/><rect x="710.10" y="577.47" width="10.90" height="6.1" fill="#7d8770"/><rect x="721.60" y="577.47" width="6.70" height="6.1" fill="#9c99c2"/><rect x="729.70" y="577.47" width="7.10" height="6.1" fill="#e8051e"/><rect x="737.80" y="577.47" width="10.10" height="6.1" fill="#fbb88a"/><rect x="748.50" y="577.47" width="14.10" height="6.1" fill="#ee5c82"/><line x1="481.8" y1="589.80" x2="760.00" y2="589.80" stroke="#9c9c9c" stroke-width="1.3"/><rect x="537.50" y="586.75" width="7.50" height="6.1" fill="#ef8aaa"/><rect x="620.30" y="586.75" width="18.10" height="6.1" fill="#6dae45"/><rect x="658.50" y="586.75" width="6.60" height="6.1" fill="#acd88c"/><rect x="718.20" y="586.75" width="6.50" height="6.1" fill="#9c99c2"/><rect x="726.30" y="586.75" width="6.80" height="6.1" fill="#e8051e"/><rect x="734.30" y="586.75" width="10.10" height="6.1" fill="#fbb88a"/><rect x="744.80" y="586.75" width="14.20" height="6.1" fill="#ee5c82"/><line x1="481.8" y1="599.07" x2="762.00" y2="599.07" stroke="#9c9c9c" stroke-width="1.3"/><rect x="539.50" y="596.02" width="7.50" height="6.1" fill="#ef8aaa"/><rect x="622.30" y="596.02" width="18.10" height="6.1" fill="#6dae45"/><rect x="660.10" y="596.02" width="7.10" height="6.1" fill="#acd88c"/><rect x="720.20" y="596.02" width="6.50" height="6.1" fill="#9c99c2"/><rect x="728.30" y="596.02" width="6.80" height="6.1" fill="#e8051e"/><rect x="736.40" y="596.02" width="10.00" height="6.1" fill="#fbb88a"/><rect x="746.90" y="596.02" width="14.10" height="6.1" fill="#ee5c82"/><line x1="481.8" y1="608.35" x2="755.90" y2="608.35" stroke="#9c9c9c" stroke-width="1.3"/><rect x="535.50" y="605.30" width="7.50" height="6.1" fill="#ef8aaa"/><rect x="618.20" y="605.30" width="17.60" height="6.1" fill="#6dae45"/><rect x="656.00" y="605.30" width="7.10" height="6.1" fill="#acd88c"/><rect x="695.40" y="605.30" width="7.50" height="6.1" fill="#ef8aaa"/><rect x="714.20" y="605.30" width="6.80" height="6.1" fill="#9c99c2"/><rect x="722.20" y="605.30" width="6.90" height="6.1" fill="#e8051e"/><rect x="730.30" y="605.30" width="10.10" height="6.1" fill="#fbb88a"/><rect x="740.80" y="605.30" width="14.10" height="6.1" fill="#ee5c82"/><line x1="481.8" y1="617.63" x2="694.00" y2="617.63" stroke="#9c9c9c" stroke-width="1.3"/><rect x="497.80" y="614.58" width="10.10" height="6.1" fill="#7d8770"/><rect x="539.50" y="614.58" width="7.50" height="6.1" fill="#ef8aaa"/><rect x="621.70" y="614.58" width="17.70" height="6.1" fill="#6dae45"/><rect x="659.70" y="614.58" width="6.80" height="6.1" fill="#acd88c"/><line x1="481.8" y1="626.90" x2="762.00" y2="626.90" stroke="#9c9c9c" stroke-width="1.3"/><rect x="539.50" y="623.86" width="7.50" height="6.1" fill="#ef8aaa"/><rect x="621.70" y="623.86" width="17.70" height="6.1" fill="#6dae45"/><rect x="659.70" y="623.86" width="6.80" height="6.1" fill="#acd88c"/><rect x="720.20" y="623.86" width="6.90" height="6.1" fill="#9c99c2"/><rect x="728.30" y="623.86" width="6.80" height="6.1" fill="#e8051e"/><rect x="736.40" y="623.86" width="10.00" height="6.1" fill="#fbb88a"/><rect x="746.90" y="623.86" width="14.50" height="6.1" fill="#ee5c82"/></g>
<g class="bt"><text x="543.50" y="26.40">12</text><text x="562.40" y="26.40">5</text><text x="570.10" y="26.40">14</text><text x="581.85" y="26.40">4</text><text x="598.40" y="26.40">13</text><text x="619.20" y="26.40">2</text><text x="636.05" y="26.40">6</text><text x="645.70" y="26.40">15</text><text x="660.90" y="26.40">1</text><text x="681.10" y="26.40">8</text><text x="692.70" y="26.40">7</text><text x="704.00" y="26.40">9</text><text x="715.25" y="26.40">6</text><text x="725.65" y="26.40">6</text><text x="734.65" y="26.40">11</text><text x="744.20" y="26.40">6</text><text x="752.50" y="26.40">5</text><text x="763.60" y="26.40">10</text><text x="776.90" y="26.40">3</text><text x="544.90" y="35.68">12</text><text x="563.80" y="35.68">5</text><text x="571.50" y="35.68">14</text><text x="583.25" y="35.68">4</text><text x="599.80" y="35.68">13</text><text x="620.60" y="35.68">2</text><text x="637.45" y="35.68">6</text><text x="647.10" y="35.68">15</text><text x="662.30" y="35.68">1</text><text x="682.50" y="35.68">8</text><text x="694.10" y="35.68">7</text><text x="705.40" y="35.68">9</text><text x="716.65" y="35.68">6</text><text x="726.55" y="35.68">6</text><text x="735.55" y="35.68">11</text><text x="745.10" y="35.68">6</text><text x="753.40" y="35.68">5</text><text x="764.50" y="35.68">10</text><text x="777.80" y="35.68">3</text><text x="544.90" y="44.95">12</text><text x="563.80" y="44.95">5</text><text x="571.50" y="44.95">14</text><text x="583.25" y="44.95">4</text><text x="599.80" y="44.95">13</text><text x="620.60" y="44.95">2</text><text x="637.45" y="44.95">6</text><text x="647.10" y="44.95">15</text><text x="662.30" y="44.95">1</text><text x="682.50" y="44.95">8</text><text x="694.10" y="44.95">7</text><text x="705.40" y="44.95">9</text><text x="716.65" y="44.95">6</text><text x="726.55" y="44.95">6</text><text x="735.55" y="44.95">11</text><text x="745.10" y="44.95">6</text><text x="753.40" y="44.95">5</text><text x="764.50" y="44.95">10</text><text x="777.80" y="44.95">3</text><text x="544.10" y="54.23">12</text><text x="563.00" y="54.23">5</text><text x="570.70" y="54.23">14</text><text x="582.45" y="54.23">4</text><text x="599.00" y="54.23">13</text><text x="619.80" y="54.23">2</text><text x="636.65" y="54.23">6</text><text x="646.30" y="54.23">15</text><text x="661.50" y="54.23">1</text><text x="681.70" y="54.23">8</text><text x="693.30" y="54.23">7</text><text x="704.60" y="54.23">9</text><text x="715.85" y="54.23">6</text><text x="728.45" y="54.23">6</text><text x="737.45" y="54.23">11</text><text x="747.00" y="54.23">6</text><text x="755.30" y="54.23">5</text><text x="766.40" y="54.23">10</text><text x="779.70" y="54.23">3</text><text x="491.05" y="54.23">14</text><text x="528.20" y="54.23">8</text><text x="542.20" y="63.51">12</text><text x="561.10" y="63.51">5</text><text x="568.80" y="63.51">14</text><text x="580.55" y="63.51">4</text><text x="597.10" y="63.51">13</text><text x="617.90" y="63.51">2</text><text x="634.75" y="63.51">6</text><text x="644.40" y="63.51">15</text><text x="659.60" y="63.51">1</text><text x="679.80" y="63.51">8</text><text x="691.40" y="63.51">7</text><text x="702.70" y="63.51">9</text><text x="713.95" y="63.51">6</text><text x="725.25" y="63.51">6</text><text x="734.25" y="63.51">11</text><text x="743.80" y="63.51">6</text><text x="752.10" y="63.51">5</text><text x="763.20" y="63.51">10</text><text x="776.50" y="63.51">3</text><text x="489.35" y="63.51">14</text><text x="538.80" y="72.78">12</text><text x="557.70" y="72.78">5</text><text x="565.40" y="72.78">14</text><text x="577.15" y="72.78">4</text><text x="593.70" y="72.78">13</text><text x="614.50" y="72.78">2</text><text x="631.35" y="72.78">6</text><text x="641.00" y="72.78">15</text><text x="656.20" y="72.78">1</text><text x="676.40" y="72.78">8</text><text x="688.00" y="72.78">7</text><text x="699.30" y="72.78">9</text><text x="710.55" y="72.78">6</text><text x="720.25" y="72.78">6</text><text x="729.25" y="72.78">11</text><text x="738.80" y="72.78">6</text><text x="747.10" y="72.78">5</text><text x="758.20" y="72.78">10</text><text x="771.50" y="72.78">3</text><text x="497.50" y="82.06">12</text><text x="516.40" y="82.06">5</text><text x="524.10" y="82.06">14</text><text x="535.85" y="82.06">4</text><text x="552.40" y="82.06">13</text><text x="573.20" y="82.06">2</text><text x="590.05" y="82.06">6</text><text x="599.70" y="82.06">15</text><text x="614.90" y="82.06">1</text><text x="635.10" y="82.06">8</text><text x="646.70" y="82.06">7</text><text x="658.00" y="82.06">9</text><text x="669.25" y="82.06">6</text><text x="679.95" y="82.06">6</text><text x="688.95" y="82.06">11</text><text x="698.50" y="82.06">6</text><text x="706.80" y="82.06">5</text><text x="717.90" y="82.06">10</text><text x="731.20" y="82.06">3</text><text x="538.40" y="91.34">12</text><text x="557.30" y="91.34">5</text><text x="565.00" y="91.34">14</text><text x="576.75" y="91.34">4</text><text x="593.30" y="91.34">13</text><text x="614.10" y="91.34">2</text><text x="630.95" y="91.34">6</text><text x="640.60" y="91.34">15</text><text x="655.80" y="91.34">1</text><text x="676.00" y="91.34">8</text><text x="687.60" y="91.34">7</text><text x="698.90" y="91.34">9</text><text x="710.15" y="91.34">6</text><text x="720.25" y="91.34">6</text><text x="729.25" y="91.34">11</text><text x="738.80" y="91.34">6</text><text x="747.10" y="91.34">5</text><text x="758.20" y="91.34">10</text><text x="771.50" y="91.34">3</text><text x="496.90" y="100.62">12</text><text x="515.80" y="100.62">5</text><text x="523.50" y="100.62">14</text><text x="535.25" y="100.62">4</text><text x="551.80" y="100.62">13</text><text x="572.60" y="100.62">2</text><text x="589.45" y="100.62">6</text><text x="599.10" y="100.62">15</text><text x="614.30" y="100.62">1</text><text x="634.50" y="100.62">8</text><text x="646.10" y="100.62">7</text><text x="657.40" y="100.62">9</text><text x="668.65" y="100.62">6</text><text x="679.15" y="100.62">6</text><text x="688.15" y="100.62">11</text><text x="697.70" y="100.62">6</text><text x="706.00" y="100.62">5</text><text x="717.10" y="100.62">10</text><text x="730.40" y="100.62">3</text><text x="532.60" y="109.89">12</text><text x="551.50" y="109.89">5</text><text x="559.20" y="109.89">14</text><text x="570.95" y="109.89">4</text><text x="587.50" y="109.89">13</text><text x="608.30" y="109.89">2</text><text x="625.15" y="109.89">6</text><text x="634.80" y="109.89">15</text><text x="650.00" y="109.89">1</text><text x="670.20" y="109.89">8</text><text x="681.80" y="109.89">7</text><text x="693.10" y="109.89">9</text><text x="704.35" y="109.89">6</text><text x="714.45" y="109.89">6</text><text x="723.45" y="109.89">11</text><text x="733.00" y="109.89">6</text><text x="741.30" y="109.89">5</text><text x="752.40" y="109.89">10</text><text x="765.70" y="109.89">3</text><text x="531.50" y="119.17">12</text><text x="550.40" y="119.17">5</text><text x="558.10" y="119.17">14</text><text x="569.85" y="119.17">4</text><text x="586.40" y="119.17">13</text><text x="607.20" y="119.17">2</text><text x="624.05" y="119.17">6</text><text x="633.70" y="119.17">15</text><text x="648.90" y="119.17">1</text><text x="669.10" y="119.17">8</text><text x="680.70" y="119.17">7</text><text x="692.00" y="119.17">9</text><text x="703.25" y="119.17">6</text><text x="713.75" y="119.17">6</text><text x="722.75" y="119.17">11</text><text x="732.30" y="119.17">6</text><text x="740.60" y="119.17">5</text><text x="751.70" y="119.17">10</text><text x="765.00" y="119.17">3</text><text x="540.70" y="128.45">12</text><text x="559.60" y="128.45">5</text><text x="567.30" y="128.45">14</text><text x="579.05" y="128.45">4</text><text x="595.60" y="128.45">13</text><text x="616.40" y="128.45">2</text><text x="633.25" y="128.45">6</text><text x="642.90" y="128.45">15</text><text x="658.10" y="128.45">1</text><text x="678.30" y="128.45">8</text><text x="689.90" y="128.45">7</text><text x="701.20" y="128.45">9</text><text x="712.45" y="128.45">6</text><text x="722.75" y="128.45">6</text><text x="731.75" y="128.45">11</text><text x="741.30" y="128.45">6</text><text x="749.60" y="128.45">5</text><text x="760.70" y="128.45">10</text><text x="774.00" y="128.45">3</text><text x="536.80" y="137.72">12</text><text x="555.70" y="137.72">5</text><text x="563.40" y="137.72">14</text><text x="575.15" y="137.72">4</text><text x="591.70" y="137.72">13</text><text x="612.50" y="137.72">2</text><text x="629.35" y="137.72">6</text><text x="639.00" y="137.72">15</text><text x="654.20" y="137.72">1</text><text x="674.40" y="137.72">8</text><text x="686.00" y="137.72">7</text><text x="697.30" y="137.72">9</text><text x="708.55" y="137.72">6</text><text x="717.95" y="137.72">6</text><text x="726.95" y="137.72">11</text><text x="736.50" y="137.72">6</text><text x="744.80" y="137.72">5</text><text x="755.90" y="137.72">10</text><text x="769.20" y="137.72">3</text><text x="540.30" y="147.00">12</text><text x="559.20" y="147.00">5</text><text x="566.90" y="147.00">14</text><text x="578.65" y="147.00">4</text><text x="595.20" y="147.00">13</text><text x="616.00" y="147.00">2</text><text x="632.85" y="147.00">6</text><text x="642.50" y="147.00">15</text><text x="657.70" y="147.00">1</text><text x="677.90" y="147.00">8</text><text x="689.50" y="147.00">7</text><text x="700.80" y="147.00">9</text><text x="712.05" y="147.00">6</text><text x="720.85" y="147.00">6</text><text x="729.85" y="147.00">11</text><text x="739.40" y="147.00">6</text><text x="747.70" y="147.00">5</text><text x="758.80" y="147.00">10</text><text x="772.10" y="147.00">3</text><text x="576.20" y="156.28">12</text><text x="595.10" y="156.28">5</text><text x="602.80" y="156.28">14</text><text x="614.55" y="156.28">4</text><text x="631.10" y="156.28">13</text><text x="651.90" y="156.28">2</text><text x="668.75" y="156.28">6</text><text x="678.40" y="156.28">15</text><text x="693.60" y="156.28">1</text><text x="713.80" y="156.28">8</text><text x="725.40" y="156.28">7</text><text x="736.70" y="156.28">9</text><text x="747.95" y="156.28">6</text><text x="755.95" y="156.28">6</text><text x="764.95" y="156.28">11</text><text x="774.50" y="156.28">6</text><text x="782.80" y="156.28">5</text><text x="793.90" y="156.28">10</text><text x="807.20" y="156.28">3</text><text x="545.50" y="165.56">12</text><text x="564.40" y="165.56">5</text><text x="572.10" y="165.56">14</text><text x="583.85" y="165.56">4</text><text x="600.40" y="165.56">13</text><text x="621.20" y="165.56">2</text><text x="638.05" y="165.56">6</text><text x="647.70" y="165.56">15</text><text x="662.90" y="165.56">1</text><text x="683.10" y="165.56">8</text><text x="694.70" y="165.56">7</text><text x="706.00" y="165.56">9</text><text x="717.25" y="165.56">6</text><text x="725.65" y="165.56">6</text><text x="734.65" y="165.56">11</text><text x="744.20" y="165.56">6</text><text x="752.50" y="165.56">5</text><text x="763.60" y="165.56">10</text><text x="776.90" y="165.56">3</text><text x="527.20" y="174.83">12</text><text x="546.10" y="174.83">5</text><text x="553.80" y="174.83">14</text><text x="565.55" y="174.83">4</text><text x="582.10" y="174.83">13</text><text x="602.90" y="174.83">2</text><text x="619.75" y="174.83">6</text><text x="629.40" y="174.83">15</text><text x="644.60" y="174.83">1</text><text x="664.80" y="174.83">8</text><text x="676.40" y="174.83">7</text><text x="687.70" y="174.83">9</text><text x="698.95" y="174.83">6</text><text x="713.15" y="174.83">6</text><text x="722.15" y="174.83">11</text><text x="731.70" y="174.83">6</text><text x="740.00" y="174.83">5</text><text x="751.10" y="174.83">10</text><text x="764.40" y="174.83">3</text><text x="536.80" y="184.11">12</text><text x="555.70" y="184.11">5</text><text x="563.40" y="184.11">14</text><text x="575.15" y="184.11">4</text><text x="591.70" y="184.11">13</text><text x="612.50" y="184.11">2</text><text x="629.35" y="184.11">6</text><text x="639.00" y="184.11">15</text><text x="654.20" y="184.11">1</text><text x="674.40" y="184.11">8</text><text x="686.00" y="184.11">7</text><text x="697.30" y="184.11">9</text><text x="708.55" y="184.11">6</text><text x="717.95" y="184.11">6</text><text x="726.95" y="184.11">11</text><text x="736.50" y="184.11">6</text><text x="744.80" y="184.11">5</text><text x="755.90" y="184.11">10</text><text x="769.20" y="184.11">3</text><text x="546.60" y="184.11">6</text><text x="542.20" y="193.39">12</text><text x="561.10" y="193.39">5</text><text x="568.80" y="193.39">14</text><text x="580.55" y="193.39">4</text><text x="597.10" y="193.39">13</text><text x="617.90" y="193.39">2</text><text x="634.75" y="193.39">6</text><text x="644.40" y="193.39">15</text><text x="659.60" y="193.39">1</text><text x="679.80" y="193.39">8</text><text x="691.40" y="193.39">7</text><text x="702.70" y="193.39">9</text><text x="713.95" y="193.39">6</text><text x="723.35" y="193.39">6</text><text x="732.35" y="193.39">11</text><text x="741.90" y="193.39">6</text><text x="750.20" y="193.39">5</text><text x="761.30" y="193.39">10</text><text x="774.60" y="193.39">3</text><text x="558.90" y="202.66">12</text><text x="577.80" y="202.66">5</text><text x="585.50" y="202.66">14</text><text x="597.25" y="202.66">4</text><text x="613.80" y="202.66">13</text><text x="634.60" y="202.66">2</text><text x="651.45" y="202.66">6</text><text x="661.10" y="202.66">15</text><text x="676.30" y="202.66">1</text><text x="696.50" y="202.66">8</text><text x="708.10" y="202.66">7</text><text x="719.40" y="202.66">9</text><text x="730.65" y="202.66">6</text><text x="740.05" y="202.66">6</text><text x="749.05" y="202.66">11</text><text x="758.60" y="202.66">6</text><text x="766.90" y="202.66">5</text><text x="778.00" y="202.66">10</text><text x="791.30" y="202.66">3</text><text x="534.00" y="211.94">12</text><text x="552.90" y="211.94">5</text><text x="560.60" y="211.94">14</text><text x="572.35" y="211.94">4</text><text x="588.90" y="211.94">13</text><text x="609.70" y="211.94">2</text><text x="626.55" y="211.94">6</text><text x="636.20" y="211.94">15</text><text x="651.40" y="211.94">1</text><text x="671.60" y="211.94">8</text><text x="683.20" y="211.94">7</text><text x="694.50" y="211.94">9</text><text x="705.75" y="211.94">6</text><text x="715.05" y="211.94">6</text><text x="724.05" y="211.94">11</text><text x="733.60" y="211.94">6</text><text x="741.90" y="211.94">5</text><text x="753.00" y="211.94">10</text><text x="766.30" y="211.94">3</text><text x="540.30" y="221.22">12</text><text x="559.20" y="221.22">5</text><text x="566.90" y="221.22">14</text><text x="578.65" y="221.22">4</text><text x="595.20" y="221.22">13</text><text x="616.00" y="221.22">2</text><text x="632.85" y="221.22">6</text><text x="642.50" y="221.22">15</text><text x="657.70" y="221.22">1</text><text x="677.90" y="221.22">8</text><text x="689.50" y="221.22">7</text><text x="700.80" y="221.22">9</text><text x="712.05" y="221.22">6</text><text x="720.85" y="221.22">6</text><text x="729.85" y="221.22">11</text><text x="739.40" y="221.22">6</text><text x="747.70" y="221.22">5</text><text x="758.80" y="221.22">10</text><text x="772.10" y="221.22">3</text><text x="562.20" y="230.49">12</text><text x="581.10" y="230.49">5</text><text x="588.80" y="230.49">14</text><text x="600.55" y="230.49">4</text><text x="617.10" y="230.49">13</text><text x="637.90" y="230.49">2</text><text x="654.75" y="230.49">6</text><text x="664.40" y="230.49">15</text><text x="679.60" y="230.49">1</text><text x="699.80" y="230.49">8</text><text x="711.40" y="230.49">7</text><text x="722.70" y="230.49">9</text><text x="733.95" y="230.49">6</text><text x="743.25" y="230.49">6</text><text x="752.25" y="230.49">11</text><text x="761.80" y="230.49">6</text><text x="770.10" y="230.49">5</text><text x="781.20" y="230.49">10</text><text x="794.50" y="230.49">3</text><text x="491.15" y="230.49">15</text><text x="534.00" y="239.77">12</text><text x="552.90" y="239.77">5</text><text x="560.60" y="239.77">14</text><text x="572.35" y="239.77">4</text><text x="588.90" y="239.77">13</text><text x="609.70" y="239.77">2</text><text x="626.55" y="239.77">6</text><text x="636.20" y="239.77">15</text><text x="651.40" y="239.77">1</text><text x="671.60" y="239.77">8</text><text x="683.20" y="239.77">7</text><text x="696.80" y="239.77">9</text><text x="708.05" y="239.77">6</text><text x="714.45" y="239.77">6</text><text x="723.45" y="239.77">11</text><text x="733.00" y="239.77">6</text><text x="741.30" y="239.77">5</text><text x="752.40" y="239.77">10</text><text x="765.70" y="239.77">3</text><text x="525.70" y="249.05">12</text><text x="544.60" y="249.05">5</text><text x="552.30" y="249.05">14</text><text x="564.05" y="249.05">4</text><text x="580.60" y="249.05">13</text><text x="601.40" y="249.05">2</text><text x="618.25" y="249.05">6</text><text x="627.90" y="249.05">15</text><text x="643.10" y="249.05">1</text><text x="663.30" y="249.05">8</text><text x="674.90" y="249.05">7</text><text x="688.50" y="249.05">9</text><text x="699.75" y="249.05">6</text><text x="709.35" y="249.05">6</text><text x="718.35" y="249.05">11</text><text x="727.90" y="249.05">6</text><text x="736.20" y="249.05">5</text><text x="747.30" y="249.05">10</text><text x="760.60" y="249.05">3</text><text x="524.40" y="258.32">12</text><text x="543.30" y="258.32">5</text><text x="551.00" y="258.32">14</text><text x="562.75" y="258.32">4</text><text x="579.30" y="258.32">13</text><text x="600.10" y="258.32">2</text><text x="616.95" y="258.32">6</text><text x="626.60" y="258.32">15</text><text x="641.80" y="258.32">1</text><text x="662.00" y="258.32">8</text><text x="673.60" y="258.32">7</text><text x="687.20" y="258.32">9</text><text x="698.45" y="258.32">6</text><text x="708.75" y="258.32">6</text><text x="717.75" y="258.32">11</text><text x="727.30" y="258.32">6</text><text x="735.60" y="258.32">5</text><text x="746.70" y="258.32">10</text><text x="760.00" y="258.32">3</text><text x="523.40" y="267.60">12</text><text x="542.30" y="267.60">5</text><text x="550.00" y="267.60">14</text><text x="561.75" y="267.60">4</text><text x="578.30" y="267.60">13</text><text x="599.10" y="267.60">2</text><text x="615.95" y="267.60">6</text><text x="625.60" y="267.60">15</text><text x="640.80" y="267.60">1</text><text x="661.00" y="267.60">8</text><text x="672.60" y="267.60">7</text><text x="686.20" y="267.60">9</text><text x="697.45" y="267.60">6</text><text x="707.35" y="267.60">6</text><text x="716.35" y="267.60">11</text><text x="725.90" y="267.60">6</text><text x="734.20" y="267.60">5</text><text x="745.30" y="267.60">10</text><text x="758.60" y="267.60">3</text><text x="525.70" y="276.88">12</text><text x="544.60" y="276.88">5</text><text x="552.30" y="276.88">14</text><text x="564.05" y="276.88">4</text><text x="580.60" y="276.88">13</text><text x="601.40" y="276.88">2</text><text x="618.25" y="276.88">6</text><text x="627.90" y="276.88">15</text><text x="643.10" y="276.88">1</text><text x="663.30" y="276.88">8</text><text x="674.90" y="276.88">7</text><text x="688.50" y="276.88">9</text><text x="699.75" y="276.88">6</text><text x="709.85" y="276.88">6</text><text x="718.85" y="276.88">11</text><text x="728.40" y="276.88">6</text><text x="736.70" y="276.88">5</text><text x="747.80" y="276.88">10</text><text x="761.10" y="276.88">3</text><text x="525.70" y="286.16">12</text><text x="544.60" y="286.16">5</text><text x="552.30" y="286.16">14</text><text x="564.05" y="286.16">4</text><text x="580.60" y="286.16">13</text><text x="601.40" y="286.16">2</text><text x="618.25" y="286.16">6</text><text x="627.90" y="286.16">15</text><text x="643.10" y="286.16">1</text><text x="663.30" y="286.16">8</text><text x="674.90" y="286.16">7</text><text x="688.50" y="286.16">9</text><text x="699.75" y="286.16">6</text><text x="709.85" y="286.16">6</text><text x="718.85" y="286.16">11</text><text x="728.40" y="286.16">6</text><text x="736.70" y="286.16">5</text><text x="747.80" y="286.16">10</text><text x="761.10" y="286.16">3</text><text x="525.70" y="295.43">12</text><text x="544.60" y="295.43">5</text><text x="552.30" y="295.43">14</text><text x="564.05" y="295.43">4</text><text x="580.60" y="295.43">13</text><text x="601.40" y="295.43">2</text><text x="618.25" y="295.43">6</text><text x="627.90" y="295.43">15</text><text x="643.10" y="295.43">1</text><text x="663.30" y="295.43">8</text><text x="674.90" y="295.43">7</text><text x="688.50" y="295.43">9</text><text x="699.75" y="295.43">6</text><text x="709.85" y="295.43">6</text><text x="718.85" y="295.43">11</text><text x="728.40" y="295.43">6</text><text x="736.70" y="295.43">5</text><text x="747.80" y="295.43">10</text><text x="761.10" y="295.43">3</text><text x="538.40" y="304.71">12</text><text x="557.30" y="304.71">5</text><text x="565.00" y="304.71">14</text><text x="576.75" y="304.71">4</text><text x="593.30" y="304.71">13</text><text x="614.10" y="304.71">2</text><text x="630.95" y="304.71">6</text><text x="640.60" y="304.71">15</text><text x="655.80" y="304.71">1</text><text x="676.00" y="304.71">8</text><text x="687.60" y="304.71">7</text><text x="709.75" y="304.71">6</text><text x="726.50" y="304.71">11</text><text x="746.90" y="304.71">5</text><text x="760.00" y="304.71">10</text><text x="774.00" y="304.71">3</text><text x="519.10" y="304.71">3</text><text x="538.40" y="313.99">12</text><text x="557.30" y="313.99">5</text><text x="565.00" y="313.99">14</text><text x="576.75" y="313.99">4</text><text x="593.30" y="313.99">13</text><text x="614.10" y="313.99">2</text><text x="630.95" y="313.99">6</text><text x="640.60" y="313.99">15</text><text x="655.80" y="313.99">1</text><text x="676.00" y="313.99">8</text><text x="687.60" y="313.99">7</text><text x="709.75" y="313.99">6</text><text x="726.50" y="313.99">11</text><text x="746.90" y="313.99">5</text><text x="760.00" y="313.99">10</text><text x="774.00" y="313.99">3</text><text x="538.40" y="323.26">12</text><text x="557.30" y="323.26">5</text><text x="565.00" y="323.26">14</text><text x="576.75" y="323.26">4</text><text x="593.30" y="323.26">13</text><text x="614.10" y="323.26">2</text><text x="630.95" y="323.26">6</text><text x="640.60" y="323.26">15</text><text x="655.80" y="323.26">1</text><text x="676.00" y="323.26">8</text><text x="687.60" y="323.26">7</text><text x="707.85" y="323.26">6</text><text x="724.60" y="323.26">11</text><text x="745.00" y="323.26">5</text><text x="758.10" y="323.26">10</text><text x="772.10" y="323.26">3</text><text x="539.70" y="332.54">12</text><text x="558.60" y="332.54">5</text><text x="566.30" y="332.54">14</text><text x="578.05" y="332.54">4</text><text x="594.60" y="332.54">13</text><text x="615.40" y="332.54">2</text><text x="632.25" y="332.54">6</text><text x="641.90" y="332.54">15</text><text x="657.10" y="332.54">1</text><text x="677.30" y="332.54">8</text><text x="688.90" y="332.54">7</text><text x="711.35" y="332.54">6</text><text x="728.10" y="332.54">11</text><text x="748.50" y="332.54">5</text><text x="761.60" y="332.54">10</text><text x="775.60" y="332.54">3</text><text x="535.90" y="341.82">12</text><text x="554.80" y="341.82">5</text><text x="562.50" y="341.82">14</text><text x="574.25" y="341.82">4</text><text x="590.80" y="341.82">13</text><text x="611.60" y="341.82">2</text><text x="628.45" y="341.82">6</text><text x="638.10" y="341.82">15</text><text x="653.30" y="341.82">1</text><text x="673.50" y="341.82">8</text><text x="685.10" y="341.82">7</text><text x="707.45" y="341.82">6</text><text x="724.20" y="341.82">11</text><text x="744.60" y="341.82">5</text><text x="757.70" y="341.82">10</text><text x="771.70" y="341.82">3</text><text x="538.80" y="351.09">12</text><text x="557.70" y="351.09">5</text><text x="565.40" y="351.09">14</text><text x="577.15" y="351.09">4</text><text x="593.70" y="351.09">13</text><text x="614.50" y="351.09">2</text><text x="631.35" y="351.09">6</text><text x="641.00" y="351.09">15</text><text x="656.20" y="351.09">1</text><text x="676.40" y="351.09">8</text><text x="688.00" y="351.09">7</text><text x="710.15" y="351.09">6</text><text x="726.90" y="351.09">11</text><text x="747.30" y="351.09">5</text><text x="760.40" y="351.09">10</text><text x="774.40" y="351.09">3</text><text x="538.40" y="360.37">12</text><text x="557.30" y="360.37">5</text><text x="565.00" y="360.37">14</text><text x="576.75" y="360.37">4</text><text x="593.30" y="360.37">13</text><text x="614.10" y="360.37">2</text><text x="630.95" y="360.37">6</text><text x="640.60" y="360.37">15</text><text x="655.80" y="360.37">1</text><text x="676.00" y="360.37">8</text><text x="687.60" y="360.37">7</text><text x="710.15" y="360.37">6</text><text x="726.90" y="360.37">11</text><text x="747.30" y="360.37">5</text><text x="760.40" y="360.37">10</text><text x="774.40" y="360.37">3</text><text x="539.10" y="369.65">12</text><text x="558.00" y="369.65">5</text><text x="565.70" y="369.65">14</text><text x="577.45" y="369.65">4</text><text x="594.00" y="369.65">13</text><text x="614.80" y="369.65">2</text><text x="631.65" y="369.65">6</text><text x="641.30" y="369.65">15</text><text x="656.50" y="369.65">1</text><text x="676.70" y="369.65">8</text><text x="688.30" y="369.65">7</text><text x="712.05" y="369.65">6</text><text x="728.80" y="369.65">11</text><text x="750.25" y="369.65">5</text><text x="762.30" y="369.65">10</text><text x="776.30" y="369.65">3</text><text x="741.55" y="369.65">6</text><text x="547.55" y="378.93">5</text><text x="560.35" y="378.93">14</text><text x="608.50" y="378.93">2</text><text x="649.65" y="378.93">1</text><text x="680.55" y="378.93">7</text><text x="717.45" y="378.93">6</text><text x="763.25" y="378.93">5</text><text x="772.50" y="378.93">10</text><text x="553.80" y="388.20">5</text><text x="566.25" y="388.20">14</text><text x="615.40" y="388.20">2</text><text x="656.15" y="388.20">1</text><text x="687.45" y="388.20">7</text><text x="724.35" y="388.20">6</text><text x="548.55" y="397.48">5</text><text x="561.15" y="397.48">14</text><text x="610.70" y="397.48">2</text><text x="651.10" y="397.48">1</text><text x="682.15" y="397.48">7</text><text x="714.75" y="397.48">6</text><text x="758.20" y="397.48">10</text><text x="772.30" y="397.48">3</text><text x="529.35" y="406.76">5</text><text x="541.80" y="406.76">14</text><text x="558.60" y="406.76">4</text><text x="639.95" y="406.76">1</text><text x="671.15" y="406.76">7</text><text x="704.95" y="406.76">6</text><text x="761.60" y="406.76">10</text><text x="775.90" y="406.76">3</text><text x="498.65" y="416.03">5</text><text x="511.10" y="416.03">14</text><text x="562.15" y="416.03">2</text><text x="608.20" y="416.03">1</text><text x="639.15" y="416.03">7</text><text x="671.15" y="416.03">6</text><text x="719.55" y="416.03">7</text><text x="729.45" y="416.03">10</text><text x="743.70" y="416.03">3</text><text x="545.65" y="425.31">5</text><text x="557.95" y="425.31">14</text><text x="606.30" y="425.31">2</text><text x="646.05" y="425.31">1</text><text x="676.85" y="425.31">7</text><text x="711.25" y="425.31">6</text><text x="768.20" y="425.31">10</text><text x="782.70" y="425.31">3</text><text x="507.10" y="434.59">12</text><text x="526.00" y="434.59">5</text><text x="533.70" y="434.59">14</text><text x="545.45" y="434.59">4</text><text x="562.00" y="434.59">13</text><text x="582.80" y="434.59">2</text><text x="599.65" y="434.59">6</text><text x="609.30" y="434.59">15</text><text x="624.50" y="434.59">1</text><text x="644.70" y="434.59">8</text><text x="656.30" y="434.59">7</text><text x="668.60" y="434.59">6</text><text x="680.45" y="434.59">6</text><text x="697.50" y="434.59">11</text><text x="721.70" y="434.59">5</text><text x="732.00" y="434.59">10</text><text x="746.25" y="434.59">3</text><text x="510.00" y="443.86">12</text><text x="528.90" y="443.86">5</text><text x="536.60" y="443.86">14</text><text x="548.35" y="443.86">4</text><text x="564.90" y="443.86">13</text><text x="585.70" y="443.86">2</text><text x="602.55" y="443.86">6</text><text x="612.20" y="443.86">15</text><text x="627.40" y="443.86">1</text><text x="647.60" y="443.86">8</text><text x="659.20" y="443.86">7</text><text x="671.50" y="443.86">6</text><text x="683.35" y="443.86">6</text><text x="700.40" y="443.86">11</text><text x="724.60" y="443.86">5</text><text x="734.90" y="443.86">10</text><text x="749.15" y="443.86">3</text><text x="711.85" y="443.86">6</text><text x="510.00" y="453.14">12</text><text x="528.90" y="453.14">5</text><text x="536.60" y="453.14">14</text><text x="548.35" y="453.14">4</text><text x="564.90" y="453.14">13</text><text x="585.70" y="453.14">2</text><text x="602.55" y="453.14">6</text><text x="612.20" y="453.14">15</text><text x="627.40" y="453.14">1</text><text x="647.60" y="453.14">8</text><text x="659.20" y="453.14">7</text><text x="671.50" y="453.14">6</text><text x="683.35" y="453.14">6</text><text x="700.40" y="453.14">11</text><text x="724.60" y="453.14">5</text><text x="734.90" y="453.14">10</text><text x="749.15" y="453.14">3</text><text x="711.85" y="453.14">6</text><text x="510.00" y="462.42">12</text><text x="528.90" y="462.42">5</text><text x="536.60" y="462.42">14</text><text x="548.35" y="462.42">4</text><text x="564.90" y="462.42">13</text><text x="585.70" y="462.42">2</text><text x="602.55" y="462.42">6</text><text x="612.20" y="462.42">15</text><text x="627.40" y="462.42">1</text><text x="647.60" y="462.42">8</text><text x="659.20" y="462.42">7</text><text x="671.50" y="462.42">6</text><text x="683.35" y="462.42">6</text><text x="700.40" y="462.42">11</text><text x="724.60" y="462.42">5</text><text x="734.90" y="462.42">10</text><text x="749.15" y="462.42">3</text><text x="510.00" y="471.70">12</text><text x="528.90" y="471.70">5</text><text x="536.60" y="471.70">14</text><text x="548.35" y="471.70">4</text><text x="564.90" y="471.70">13</text><text x="585.70" y="471.70">2</text><text x="602.55" y="471.70">6</text><text x="612.20" y="471.70">15</text><text x="627.40" y="471.70">1</text><text x="647.60" y="471.70">8</text><text x="659.20" y="471.70">7</text><text x="671.50" y="471.70">6</text><text x="683.35" y="471.70">6</text><text x="700.40" y="471.70">11</text><text x="724.60" y="471.70">5</text><text x="734.90" y="471.70">10</text><text x="749.15" y="471.70">3</text><text x="519.75" y="480.97">7</text><text x="532.25" y="480.97">6</text><text x="544.20" y="480.97">6</text><text x="616.45" y="480.97">11</text><text x="641.15" y="480.97">5</text><text x="651.80" y="480.97">10</text><text x="666.10" y="480.97">3</text><text x="510.00" y="490.25">12</text><text x="528.90" y="490.25">5</text><text x="536.60" y="490.25">14</text><text x="548.35" y="490.25">4</text><text x="564.90" y="490.25">13</text><text x="585.70" y="490.25">2</text><text x="602.55" y="490.25">6</text><text x="612.20" y="490.25">15</text><text x="627.40" y="490.25">1</text><text x="647.60" y="490.25">8</text><text x="659.20" y="490.25">7</text><text x="671.50" y="490.25">6</text><text x="683.35" y="490.25">6</text><text x="700.40" y="490.25">11</text><text x="724.60" y="490.25">5</text><text x="734.90" y="490.25">10</text><text x="749.15" y="490.25">3</text><text x="777.60" y="490.25">13</text><text x="543.25" y="499.53">14</text><text x="562.70" y="499.53">13</text><text x="644.25" y="499.53">14</text><text x="687.75" y="499.53">7</text><text x="754.55" y="499.53">6</text><text x="763.25" y="499.53">5</text><text x="774.45" y="499.53">10</text><text x="525.75" y="508.80">14</text><text x="545.20" y="508.80">13</text><text x="570.10" y="508.80">2</text><text x="613.40" y="508.80">14</text><text x="655.05" y="508.80">7</text><text x="712.25" y="508.80">6</text><text x="720.65" y="508.80">5</text><text x="736.75" y="508.80">15</text><text x="546.60" y="518.08">14</text><text x="565.95" y="518.08">13</text><text x="591.00" y="518.08">2</text><text x="646.75" y="518.08">14</text><text x="688.05" y="518.08">7</text><text x="755.25" y="518.08">6</text><text x="763.50" y="518.08">5</text><text x="521.35" y="527.36">4</text><text x="543.85" y="527.36">14</text><text x="563.35" y="527.36">13</text><text x="588.30" y="527.36">2</text><text x="644.15" y="527.36">14</text><text x="685.50" y="527.36">7</text><text x="752.60" y="527.36">6</text><text x="760.95" y="527.36">5</text><text x="777.15" y="527.36">15</text><text x="543.85" y="536.63">14</text><text x="563.05" y="536.63">13</text><text x="587.70" y="536.63">2</text><text x="643.95" y="536.63">14</text><text x="685.50" y="536.63">7</text><text x="752.10" y="536.63">6</text><text x="760.45" y="536.63">5</text><text x="776.55" y="536.63">15</text><text x="544.35" y="545.91">14</text><text x="563.05" y="545.91">13</text><text x="587.70" y="545.91">2</text><text x="643.95" y="545.91">14</text><text x="685.50" y="545.91">7</text><text x="752.10" y="545.91">6</text><text x="760.95" y="545.91">5</text><text x="545.90" y="555.19">14</text><text x="565.05" y="555.19">13</text><text x="589.70" y="555.19">2</text><text x="645.45" y="555.19">14</text><text x="673.95" y="555.19">8</text><text x="687.55" y="555.19">7</text><text x="754.65" y="555.19">6</text><text x="763.00" y="555.19">5</text><text x="779.15" y="555.19">15</text><text x="551.15" y="564.47">14</text><text x="598.60" y="564.47">2</text><text x="642.05" y="564.47">1</text><text x="674.50" y="564.47">7</text><text x="735.25" y="564.47">6</text><text x="743.35" y="564.47">5</text><text x="753.55" y="564.47">10</text><text x="765.85" y="564.47">3</text><text x="543.25" y="573.74">14</text><text x="631.35" y="573.74">1</text><text x="663.65" y="573.74">7</text><text x="714.05" y="573.74">11</text><text x="723.45" y="573.74">6</text><text x="731.70" y="573.74">5</text><text x="741.40" y="573.74">10</text><text x="753.95" y="573.74">3</text><text x="544.80" y="583.02">14</text><text x="632.55" y="583.02">1</text><text x="665.15" y="583.02">7</text><text x="715.55" y="583.02">11</text><text x="724.95" y="583.02">6</text><text x="733.25" y="583.02">5</text><text x="742.85" y="583.02">10</text><text x="755.55" y="583.02">3</text><text x="541.25" y="592.30">14</text><text x="629.35" y="592.30">1</text><text x="661.80" y="592.30">7</text><text x="721.45" y="592.30">6</text><text x="729.70" y="592.30">5</text><text x="739.35" y="592.30">10</text><text x="751.90" y="592.30">3</text><text x="543.25" y="601.57">14</text><text x="631.35" y="601.57">1</text><text x="663.65" y="601.57">7</text><text x="723.45" y="601.57">6</text><text x="731.70" y="601.57">5</text><text x="741.40" y="601.57">10</text><text x="753.95" y="601.57">3</text><text x="539.25" y="610.85">14</text><text x="627.00" y="610.85">1</text><text x="659.55" y="610.85">7</text><text x="699.15" y="610.85">14</text><text x="717.60" y="610.85">6</text><text x="725.65" y="610.85">5</text><text x="735.35" y="610.85">10</text><text x="747.85" y="610.85">3</text><text x="502.85" y="620.13">11</text><text x="543.25" y="620.13">14</text><text x="630.55" y="620.13">1</text><text x="663.10" y="620.13">7</text><text x="543.25" y="629.40">14</text><text x="630.55" y="629.40">1</text><text x="663.10" y="629.40">7</text><text x="723.65" y="629.40">6</text><text x="731.70" y="629.40">5</text><text x="741.40" y="629.40">10</text><text x="754.15" y="629.40">3</text></g>
<g><line x1="197.7" y1="638.8" x2="452.3" y2="638.8" stroke="#a8a8a8" stroke-width="1.3"/><line x1="197.70" y1="638.8" x2="197.70" y2="641.0" stroke="#a8a8a8" stroke-width="1"/><line x1="234.07" y1="638.8" x2="234.07" y2="641.0" stroke="#a8a8a8" stroke-width="1"/><line x1="270.44" y1="638.8" x2="270.44" y2="641.0" stroke="#a8a8a8" stroke-width="1"/><line x1="306.81" y1="638.8" x2="306.81" y2="641.0" stroke="#a8a8a8" stroke-width="1"/><line x1="343.19" y1="638.8" x2="343.19" y2="641.0" stroke="#a8a8a8" stroke-width="1"/><line x1="379.56" y1="638.8" x2="379.56" y2="641.0" stroke="#a8a8a8" stroke-width="1"/><line x1="415.93" y1="638.8" x2="415.93" y2="641.0" stroke="#a8a8a8" stroke-width="1"/><line x1="452.30" y1="638.8" x2="452.30" y2="641.0" stroke="#a8a8a8" stroke-width="1"/><line x1="482.1" y1="639.0999999999999" x2="834.6" y2="639.0999999999999" stroke="#a8a8a8" stroke-width="1.3"/><line x1="482.10" y1="639.0999999999999" x2="482.10" y2="641.3" stroke="#a8a8a8" stroke-width="1"/><line x1="532.46" y1="639.0999999999999" x2="532.46" y2="641.3" stroke="#a8a8a8" stroke-width="1"/><line x1="582.81" y1="639.0999999999999" x2="582.81" y2="641.3" stroke="#a8a8a8" stroke-width="1"/><line x1="633.17" y1="639.0999999999999" x2="633.17" y2="641.3" stroke="#a8a8a8" stroke-width="1"/><line x1="683.53" y1="639.0999999999999" x2="683.53" y2="641.3" stroke="#a8a8a8" stroke-width="1"/><line x1="733.89" y1="639.0999999999999" x2="733.89" y2="641.3" stroke="#a8a8a8" stroke-width="1"/><line x1="784.24" y1="639.0999999999999" x2="784.24" y2="641.3" stroke="#a8a8a8" stroke-width="1"/><line x1="834.60" y1="639.0999999999999" x2="834.60" y2="641.3" stroke="#a8a8a8" stroke-width="1"/></g>
<g class="ax"><text x="197.70" y="650.7" text-anchor="middle">0</text><text x="234.07" y="650.7" text-anchor="middle">2000</text><text x="270.44" y="650.7" text-anchor="middle">4000</text><text x="306.81" y="650.7" text-anchor="middle">6000</text><text x="343.19" y="650.7" text-anchor="middle">8000</text><text x="379.56" y="650.7" text-anchor="middle">10000</text><text x="415.93" y="650.7" text-anchor="middle">12000</text><text x="452.30" y="650.7" text-anchor="middle">14000</text><text x="482.10" y="650.7" text-anchor="middle">0</text><text x="532.46" y="650.7" text-anchor="middle">100</text><text x="582.81" y="650.7" text-anchor="middle">200</text><text x="633.17" y="650.7" text-anchor="middle">300</text><text x="683.53" y="650.7" text-anchor="middle">400</text><text x="733.89" y="650.7" text-anchor="middle">500</text><text x="784.24" y="650.7" text-anchor="middle">600</text><text x="834.60" y="650.7" text-anchor="middle">700</text><text x="187.8" y="641" >5'</text><text x="454.2" y="641" >3'</text><text x="470.8" y="641" >5'</text><text x="837.2" y="641" >3'</text></g>
<g><rect x="371.2" y="25.8" width="26.3" height="11.1" fill="#000"/><rect x="371.2" y="57.9" width="26.3" height="11.1" fill="#ed0280"/><line x1="370.4" y1="94.7" x2="395.7" y2="94.7" stroke="#8a8a8a" stroke-width="1.1"/></g>
<g class="lg"><text x="403.2" y="36.6">UTR</text><text x="403.2" y="69.6">CDS</text><text x="404.0" y="101.5">Intron</text></g>
<g><rect x="847.3" y="20.20" width="27.9" height="10.6" fill="#6dae45"/><rect x="847.3" y="39.47" width="27.9" height="10.6" fill="#ffc808"/><rect x="847.3" y="58.74" width="27.9" height="10.6" fill="#ee5c82"/><rect x="847.3" y="78.01" width="27.9" height="10.6" fill="#0b7f73"/><rect x="847.3" y="97.28" width="27.9" height="10.6" fill="#e8051e"/><rect x="847.3" y="116.55" width="27.9" height="10.6" fill="#9c99c2"/><rect x="847.3" y="135.82" width="27.9" height="10.6" fill="#acd88c"/><rect x="847.3" y="155.09" width="27.9" height="10.6" fill="#f7a11d"/><rect x="847.3" y="174.36" width="27.9" height="10.6" fill="#5e4a8c"/><rect x="847.3" y="193.63" width="27.9" height="10.6" fill="#fbb88a"/><rect x="847.3" y="212.90" width="27.9" height="10.6" fill="#7d8770"/><rect x="847.3" y="232.17" width="27.9" height="10.6" fill="#c9532e"/><rect x="847.3" y="251.44" width="27.9" height="10.6" fill="#58bc8a"/><rect x="847.3" y="270.71" width="27.9" height="10.6" fill="#ef8aaa"/><rect x="847.3" y="289.98" width="27.9" height="10.6" fill="#1665c8"/></g>
<g class="ml"><text x="877.5" y="30.70">Motif 1</text><text x="877.5" y="49.97">Motif 2</text><text x="877.5" y="69.24">Motif 3</text><text x="877.5" y="88.51">Motif 4</text><text x="877.5" y="107.78">Motif 5</text><text x="877.5" y="127.05">Motif 6</text><text x="877.5" y="146.32">Motif 7</text><text x="877.5" y="165.59">Motif 8</text><text x="877.5" y="184.86">Motif 9</text><text x="877.5" y="204.13">Motif 10</text><text x="877.5" y="223.40">Motif 11</text><text x="877.5" y="242.67">Motif 12</text><text x="877.5" y="261.94">Motif 13</text><text x="877.5" y="281.21">Motif 14</text><text x="877.5" y="300.48">Motif 15</text></g>
</svg>
</body></html>
